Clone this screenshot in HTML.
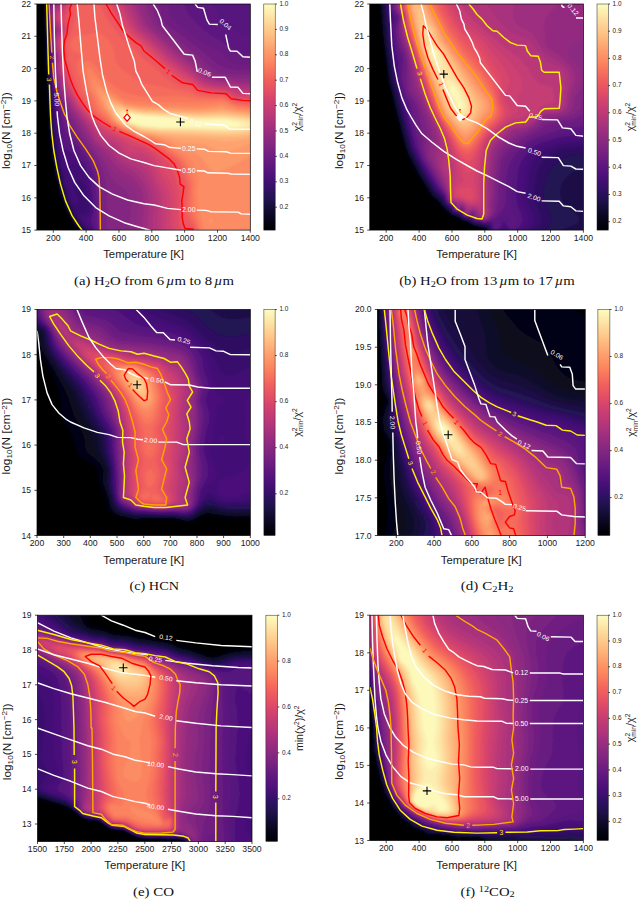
<!DOCTYPE html>
<html lang="en"><head><meta charset="utf-8"><title>Chi-square maps</title>
<style>
html,body{margin:0;padding:0;background:#fff}
svg{display:block}
text{font-family:'Liberation Sans',sans-serif}
.ct{fill:none;stroke-width:1.45;stroke-linejoin:round;stroke-linecap:butt}
.fr{stroke:#000;stroke-width:0.7;fill:none}
.cb{fill:url(#mg);stroke:#222;stroke-width:0.5}
.tk{stroke:#000;stroke-width:0.7;fill:none}
.cap{font-family:'Liberation Serif',serif;font-size:12.6px;fill:#111}
.cap .sb{font-size:8.8px}
.cap .it{font-style:italic}
</style></head>
<body>
<svg width="638" height="899" viewBox="0 0 638 899">
<defs>
<linearGradient id="mg" x1="0" y1="0" x2="0" y2="1"><stop offset="0" stop-color="#fcfdbf"/><stop offset="0.0417" stop-color="#fdebac"/><stop offset="0.0833" stop-color="#fed799"/><stop offset="0.125" stop-color="#fec488"/><stop offset="0.1667" stop-color="#feb078"/><stop offset="0.2083" stop-color="#fd9b6b"/><stop offset="0.25" stop-color="#fc8961"/><stop offset="0.2917" stop-color="#f8745c"/><stop offset="0.3333" stop-color="#f1605d"/><stop offset="0.375" stop-color="#e75263"/><stop offset="0.4167" stop-color="#d8456c"/><stop offset="0.4583" stop-color="#c73d73"/><stop offset="0.5" stop-color="#b73779"/><stop offset="0.5417" stop-color="#a5317e"/><stop offset="0.5833" stop-color="#932b80"/><stop offset="0.625" stop-color="#832681"/><stop offset="0.6667" stop-color="#721f81"/><stop offset="0.7083" stop-color="#601880"/><stop offset="0.75" stop-color="#51127c"/><stop offset="0.7917" stop-color="#3f0f72"/><stop offset="0.8333" stop-color="#2c115f"/><stop offset="0.875" stop-color="#1d1147"/><stop offset="0.9167" stop-color="#100b2d"/><stop offset="0.9583" stop-color="#050416"/><stop offset="1" stop-color="#000004"/></linearGradient>
<filter id="bl" x="-5%" y="-5%" width="110%" height="110%"><feGaussianBlur stdDeviation="1.1"/></filter>
</defs>
<rect width="638" height="899" fill="#fff"/>
<!-- panel a -->
<g>
<clipPath id="cla"><rect x="36.9" y="4" width="213.4" height="226.1"/></clipPath>
<g clip-path="url(#cla)"><g filter="url(#bl)">
<rect x="32.4" y="-0.5" width="222.4" height="235.1" fill="#010106"/>
<path fill="#030312" d="M39.9-0.5l216 0 0 235.5-174.3 0-2.7-4.6-6-4.7-1.5-2.2-2.4-6.5-4.6-6-2-9-4.4-9-0.7-7.5-3.9-10.5-0.1-7.5-2.5-9-0.2-7.5-1.8-7.5 0.3-7.5-1.3-7.5 0-15-0.8-7.5 0-6-0.9-10.5 0.1-9-0.8-9-1.7-63-0.8-4.7zM32.4 97.6l1.5 2.3 0.4 1.6 0.6 10.5-0.6 36-0.4 3.5-1.5 4.8zM32.4 165.7l1 6.3-0.6 9 0.5 9-0.9 5.8z"/>
<path fill="#08071e" d="M42.1-0.5l213.8 0 0 235.5-173.3 0-2.5-4.5-7.2-7.3-3-6.5-4.7-7.2-1.8-7.5-4-9-1.4-9-3.2-9-0.5-7.5-2.1-7.5-0.7-9-1.6-7.5 0.1-7.5-1.1-6-0.3-16.5-2.4-43.5-1.6-60-0.7-6z"/>
<path fill="#0e0b2b" d="M43.4-0.5l212.5 0 0 235.5-172.3 0-2.5-4.5-6.9-7.5-8.2-15-2.1-7.1-3.8-9.4-1.2-7.5-2.9-9-1-9-1.9-7.5-2.1-15 0-6-1.3-9-0.3-15-2.5-43.5-1.8-60-0.5-6z"/>
<path fill="#150e38" d="M44.4-0.5l211.5 0 0 235.5-171.2 0-2.7-4.5-7.5-9-7.3-13.5-5.9-16.5-4.1-16.5-1.3-9-1.8-7.5-2.1-15-0.2-6-1.2-9-3-57-1.9-61.5z"/>
<path fill="#1d1147" d="M45.1-0.5l210.8 0 0 235.5-170 0-1.7-3-7.5-9-2.3-3.6-7.5-15.2-4.8-14.2-4.1-16.5-2.8-15-2.3-15-0.2-6-1.3-9-3.2-57-2.3-66z"/>
<path fill="#241253" d="M45.8-0.5l210.1 0 0 235.5-168.5 0-1.9-3-7.5-9-3.6-5.5-7.5-16-5.3-17.5-5.3-25.5-4-30-3.5-57z"/>
<path fill="#2d1161" d="M46.4-0.5l209.5 0 0 235.5-166.9 0-1.7-3-6.9-7.5-6-9-6.7-15-5.3-17.6-6.4-31.9-2.6-21-4-57z"/>
<path fill="#38106c" d="M47-0.5l208.9 0 0 235.5-165.2 0-1.3-3-7.5-7.6-6-9.1-3.4-8.8-3.4-6-2.2-9-3-7.8-1.1-7.2-2.8-10.5-3-16.5-2.5-19.5-0.4-9-4-46.5zM83.7 208l1.2 1.6 0-2z"/>
<path fill="#420f75" d="M47.6-0.5l208.3 0 0 235.5-163.5 0-1-3-1.8-3-4.7-3.8-2.9-3.7-3.2-7.5 4.6 0.6 3-0.9 1.5-1.4 1-2.8-0.5-4.5-2.8-7.5-0.1-7.5-0.6-3.2-1.5-3.1-3-3.4-1.5-0.5-1.5 1.4-2.6 5.8-0.4 3 0.9 3 2.8 4.5 0.5 1.5-0.4 3-0.8 1.7-1.5 0.8-1.5-0.8-3-3.2-1.1-3-0.9-7.5-3.9-7.5-0.7-7.5-3.1-9-1.4-9-1.8-7.5-2.9-21-0.4-9-4.7-46.5zM75.9 170.5l-0.7 1.5 0.6 1.5 1.6 0.1 0-1.6z"/>
<path fill="#4c117a" d="M48.2-0.5l207.7 0 0 235.5-161.9 0-1.4-4.5-1.5-3-5.4-6-0.2-1.5 0.6-1.5 3.3-3.8 1-2.2 0.8-4.5-3.3-22.4-4.5-14.3-3-5.2-1.5-1.3-3-1.4-3 0.2-4.5 3.1-1.5 0.4-1.5-0.8-1.4-3.3-1.1-6-2.9-10.5-3-18-0.6-10.5-1.5-9-3.8-36-0.4-15-0.8-7.5-1.5-33z"/>
<path fill="#54137d" d="M48.8-0.5l207.1 0 0 235.5-160.4 0-1.6-6-3.3-7.5 0.1-3 2.2-7.5 0.2-4.5-2.5-21-3.3-13.5-2.7-6-4.2-5.3-9.3-8.2-5.7-3.2-1.5-1.6-1.5-3.1-3-12.5-1.5-14.1-1.7-9-4.6-36-0.6-9 0.3-6-0.9-7.5-1.6-34.5z"/>
<path fill="#5d177f" d="M49.5-0.5l161.5 0 4.4 10.3 4.3 7.7 3.6 4.5 5.3 4.5 9.6 6 5.7 2.5 3 0.5 3-0.3 6-2.5 0 202.3-158.7 0-3.5-13.5 0-3 1.2-7.5 0-6-2.2-22.5-2.8-12-1.9-4.5-2.7-4.5-9.3-12-3.1-3-5-3-2.5-2.4-2.3-5.1-2-7.5-1.1-9-2.6-12-5.2-34.5-0.7-9 0.4-6-1-7.5-2-45.2z"/>
<path fill="#671b80" d="M50.1-0.5l133 0 2.3 8.6 3.6 6.4 8 9 11.9 10.5 17 9.9 13.5 9.6 3 1 4.5 0.4 9-1.9 0 182-156.9 0-1.6-6-1-7.5 0.4-18-1.7-22.5-1.8-9-3.7-9-6.2-9.5-6-7.9-8.5-8.1-2.9-4.5-2.1-5.9-8.1-34.6-2.6-15-1.1-12 0.4-7.5-1.1-7.5-1.9-37.5 0-9z"/>
<path fill="#701f81" d="M51-0.5l117.5 0 1.2 12 1.6 4.5 2.1 3 27.6 22.5 7.1 4.5 13.3 6.3 7.5 7.4 4.5 2.9 4.6 1.4 5.9 0.6 4.5-0.4 7.5-1.7 0 172.5-154.8 0-1.8-7.5-0.8-37.5-1-12-1.7-7.5-2.3-6-3.3-6-8.3-12.2-10.2-13.3-3.3-5.4-6-15.8-6-20.9-3-16.9-0.7-10 0.5-6-1.7-12-0.1-13.5-1.5-21 0.1-7.5z"/>
<path fill="#792282" d="M51.9-0.5l107.4 0 1.6 15 1.6 4.5 3 4.5 3.4 3 12 8.3 38.9 30.7 3.1 1.8 3.7 1.2 11.3 1.6 9 0.3 9-1.7 0 166.3-151.5 0-2.4-6-0.5-40.5-0.7-10.5-2.3-9-4-9-15.3-22.5-8.4-13.5-6.9-14.3-4.5-12.3-2.7-9.4-2.9-16.5-0.5-7.5 0.6-6-1.5-7.5-0.5-6 0-12-1.2-12-0.4-10.5 0.3-6z"/>
<path fill="#832681" d="M53.1-0.5l98.9 0 1.1 9 1.7 7.5 2.8 6 3.3 4.5 35 27.2 16.4 14.8 5.1 3 5.5 1.6 22.5 1.6 10.5-1.3 0 161.6-141.3 0-6.9-4.5-0.9-1.5-0.5-3 0.5-10.5-0.2-25.5-1.5-10.5-2.9-10.5-4.1-9-12.7-18-18.1-30-6.4-14.3-3-8.9-2.9-12.8-1.1-12 0.8-6-2-10.5-0.4-9 0.4-6-1.8-15 0.2-12z"/>
<path fill="#8b2981" d="M55-0.5l91.1 0 1.5 9 2.1 7.5 2.9 6 4.5 6 4.3 4 33 25.8 15 13.7 6 3.2 6 1.6 24 1.8 10.5-1 0 157.9-126.7 0-0.1-10.5 2-18-0.7-6-2-5.5-4.5-5.9-9-6-3-3.5-9.8-19.6-13.9-18-7-12-12.4-19.5-6.4-12.7-2.8-6.8-3.5-13.5-1.2-7.4-0.3-6.1 1.1-6-2.5-10.5-0.3-9 0.6-7.5-1.6-7.9-0.5-5.6 0.4-12z"/>
<path fill="#942c80" d="M57.6-0.5l83.5 0 1.5 7.5 2.8 9 2.8 6 3.3 4.5 6.9 6.8 19.5 16.1 15.2 11.6 12.9 12 5.5 3 8.4 2.6 10.5 0.6 15 1.8 10.5-0.8 0 154.8-119.6 0 0.1-9 2.1-15 0.3-6-0.8-7.5-2.1-6.4-3-4.7-3.7-3.9-11.3-7.5-3.5-3-2.5-3-7.4-12-12.4-13.5-9-15-13-19.5-9.3-18-4.1-15-1.1-6-0.2-6 1.1-7.5-2.1-6-0.9-7.5 0.2-6 1.1-6-2.1-7.5-0.9-7.5 0.1-6 1.1-4.5 3.4-3.5z"/>
<path fill="#9e2f7f" d="M59.7-0.5l77 0 1.8 7.5 3.4 9.7 2.5 5.3 3.2 4.5 6.1 6 20.7 18 17 12.7 12.1 11.3 5.9 3.2 9.7 2.8 9.8 0.6 15 2.3 12-0.5 0 152.1-113.7 0 0-7.5 2-16.5 0.2-7.5-1.1-9-2.9-7.5-4.1-6-4.5-4.5-10.9-6.6-4.5-3.5-9.4-12.4-10.1-8.6-3-3.2-9-15-12.9-18.2-8.1-14.2-2.3-5.3-5.2-19.5-0.2-6 1.3-7.5-2.6-6.8-0.7-8.2 0.3-4.5 2.2-6-0.2-1.5-3.1-5.8-1-7.7 0.2-4.5 0.8-3.9 1.5-1.8 3.2-1.8 0.9-1.5z"/>
<path fill="#a8327d" d="M61.4-0.5l71.3 0 1.5 6 4.7 12 2.9 6 3.1 4.2 17.6 15.3 10.9 10.3 16.5 12 12 10.9 6 3.1 9.8 2.7 11.2 1 13.5 2.6 13.5-0.3 0 149.7-108.3 0-0.2-7.5 1.7-18-0.1-9-1.6-9-4-8.8-3.1-4.7-4.4-4.9-4.5-3.2-10.5-5.7-4.4-4.2-7-9-9.6-6.5-4.5-4-8.1-13.5-14.4-19.5-8-13.5-2-4.5-2.2-9-3.2-9-0.5-6 1.4-9-2.4-6-1.1-6 0.2-6 3.4-7.5-0.1-1.5-4.1-6-1.2-7.5 0.6-6 1.2-2 4.5-2.8 1.5-2.7z"/>
<path fill="#b2357b" d="M63-0.5l66.1 0 1.6 6 5.1 12 3.1 6.4 3 4.3 18 15.5 12 11.6 18 12.9 12 10.5 3.7 1.8 6.8 2 16.5 2.2 10.5 2.6 7.5 0.6 9-0.3 0 147.4-103.3 0-0.3-9 1.2-19.5-0.5-9-2.3-9-5.8-11.6-3-4.3-3.6-3.6-15.9-8.6-3-2.8-7.9-9.6-10.1-5.6-4.5-3.6-7.2-11.8-15.3-19.8-8-13.2-2.1-4.5-2.2-9-2.7-6-1.2-4.5-0.3-4.5 1.4-9-2.9-7.4-0.7-4.6 0.4-6 3.2-6 0.6-3-0.5-1.5-4.5-5.6-1-6.4 1-5.7 6-4.7 1.4-3.1z"/>
<path fill="#ba3878" d="M64.4-0.5l61.3 0 2.3 7.5 8.7 18 3.2 4.5 16 13.5 14.5 14.1 19.5 13.8 10.5 8.9 4.2 2.2 4.9 1.5 7.4 1.4 10.5 1.1 12 3.5 6 0.5 10.5-0.3 0 145.3-98.4 0-0.6-10.5 0.8-21-0.7-7.5-3.4-10.5-7.2-14.2-3-4.1-3.1-2.7-2.9-1.5-9-3.2-4.5-2.7-3-3.1-4.5-6-3.2-3-11.8-5.7-3-2.3-7.5-11.5-6.7-7.5-8.3-11-10.3-17.5-2.3-9-4.1-10.5-0.3-4.5 1.2-9-2.8-7.5-0.8-4.5 0.7-6 3.4-6 0.5-3-1.2-3-3.9-4.5-1-3-0.3-3 1.2-4.5 5-4 1.5-2z"/>
<path fill="#c43c75" d="M65.8-0.5l56.5 0 2.6 7.5 5.8 12 4.2 7.5 3.5 4.5 14.4 12 16.1 15.5 22.5 16 9 7.3 7.5 2.9 7.5 1.5 12 1.3 12 4 16.5 0.3 0 143.2-93.6 0-0.9-10.5 0.6-21-0.7-7.5-2.9-9-10.5-21.9-3-3.5-3-2.1-3-1.1-7.5-1.5-4.5-1.9-2.8-2.5-4.4-6-3.3-3.4-4.5-2.7-9-3.6-3-2.1-6.7-9.2-8.3-8.9-7.5-9.8-10.3-17.3-3-10.5-3.7-9-0.5-4.5 1.1-9-0.7-3-2.4-5.9-0.5-3.1 0.5-4.7 3.9-7.3 0.5-3-0.9-3-4.7-6-0.8-4.5 0.8-3 6.3-6 1.5-3z"/>
<path fill="#cd4071" d="M67.2-0.5l51.7 0 2.9 7.5 6 12 4.3 7.5 3.8 4.9 12.2 10.1 20.8 19.6 12.1 8.9 11.9 7.8 6 4.9 4.5 2.4 6 1.6 18 2.3 10.5 4.3 18 0.5 0 141.2-88.8 0-1.4-10.5 0.7-21-1-9-1.9-6-6.6-13.1-4.1-10.9-1.9-3.4-4.5-4.8-4.5-2.6-3-0.7-7.5-0.2-3-1.3-6.3-8-3.7-3-5.4-3-8.6-3.5-3-1.9-18-19.5-6.1-8.1-8.9-15.2-3-10.3-4.1-10.5-0.3-3 0.7-10.5-2.7-7.5-0.5-3 0.6-4.5 3.8-7.5 0.3-4.5-1.2-3-3.5-4.5-1-3 0.4-3 4.5-4.6 2-2.9z"/>
<path fill="#d6456c" d="M68.8-0.5l46.5 0 3.2 7.5 10.8 19.5 3.4 4.5 4.6 4.5 9.1 7.2 19.5 18.5 15 11.5 12 7 7.5 5.8 3 1.3 9 2 13.5 1.2 3 1.1 6 3.4 3 0.8 18 0.5 0 139.2-83.9 0-1.9-10.5 0.8-21-0.7-9-3.3-9-6.8-12-3.1-10.5-1.6-3-4.5-5.2-6-4.5-5.2-2.3-8.3-2-9.8-7-17.2-8.4-3-2.1-12-11.1-4.5-5-7-9.4-8-13.7-7.2-20.8-0.5-4.5 0.4-9-2.9-10.5 0.8-4.5 3-6 1.1-4.5-1.1-4.5-3.5-6-0.2-3 5.4-7.5z"/>
<path fill="#df4a68" d="M70.6-0.5l40.8 0 8.6 16.5 6.3 10.5 4.6 6 5 4.6 7.7 5.9 20.8 19.7 15 12 4.5 2.8 9 4.2 6 5 3 1.4 10.5 2.2 13.5 1.1 3 1.4 4.5 3.1 3 1.1 19.5 0.8 0 137.2-78.5 0-2.1-6-0.7-4.5 0.7-18-0.4-13.5-5.4-13.5-5.2-7.5-2.2-9-1.6-3-5.6-6-8-6-15.5-6.9-24-11.7-6-3.8-9.2-7.6-5.8-5.9-6.8-9.1-8.2-14-7.5-21.7-0.5-4.8 0.2-7.5-2.6-10.5 0.4-3 3.4-7.5 1.1-4.5-0.7-4.5-2.4-6 0.1-3 3.4-6z"/>
<path fill="#e75263" d="M73-0.5l34.1 0 7.2 13.5 9.6 15 3.4 4.5 7.1 6.5 7.3 5.5 6.2 6.9 24 21.2 10.5 7.3 9 3 6.1 5.1 4.4 2 10.5 1.9 12 0.6 3 1.1 6 4.2 3 0.9 19.5 1 0 135.3-69.3 0-5.1-4.5-1.9-4.5-0.6-7.5 0.7-28.5-2.8-6-1.7-7.5-1.6-4.5-4.9-9-9.4-9-10.4-7.5-28-12.5-15-7.6-13.1-9.9-6.4-6.7-9-13.1-6-12-6-18.2-0.8-5.5 0-7.5-1.9-7.5 0.4-4.5 3.1-7.5 1.2-4.5-1.4-9 0.1-3 3.7-12z"/>
<path fill="#ec5860" d="M77.2-0.5l24.5 0 9 15 13.4 19.5 8.8 7.7 6 4.4 6 7.3 16.4 13.6 9.1 8.7 9 6.4 3 1.3 8 1.6 7 5.6 3 1.1 12 1.9 12 0.5 3 1.3 4.5 3.3 4.5 1.7 19.5 1.3 0 133.3-62.6 0-0.2-4.5-0.5-1.5-1.2-1.5-5.2-3-2.3-4.5-0.9-6-0.4-12 1.5-12-0.1-3-2.8-6-3.3-11.1-3.9-6.9-4.7-4.5-7.9-6-11.2-7.5-29.3-12.6-13.3-6.9-13.7-10.1-6.1-6.4-9.9-15-5-11-6.5-20.5-0.2-9-1.7-7.5 0.5-4.5 4.4-12-0.1-7.5 1.8-7.5 0.3-6.7 1.5-3.5z"/>
<path fill="#f2625d" d="M77.4 6.3l7.5-4.3 4.5-1.6 3 0.2 4.5 2.3 3.7 4.1 5.7 10.5 4.9 7.5 9.7 12.8 13.5 11.9 6 6.9 15.6 11.9 8.6 9 10.3 6.7 6 2.5 9 1.6 5.8 4.2 3.2 1.2 12 1.5 12 0.3 3 0.9 6 3.9 4.5 1.7 19.5 1.6 0 131.4-60 0-0.5-4.5-1-3.3-5.6-7.2-2.3-6-0.9-12 1.3-12-0.2-4.5-5.9-16.5-2.2-4.5-2.2-2.9-3.3-3.1-10.1-7.5-9.1-6-6.3-3-8.7-2.8-9.4-4.7-8.6-3.5-10.7-5.5-14.1-10.5-5.7-6-11.2-18-6.3-16.9-4.5-14.1 0-6.5-1.5-7.1 0.2-3.4 6-15 2.6-10.5 0.2-9z"/>
<path fill="#f66c5c" d="M74.4 36.8l3-1.3 7.5-0.4 10.5-2.1 4.5 0.4 3 1.5 4.5 3.8 4.3 5.8 1.7 4.5 1.7 10.5 3.1 6 5.7 5.4 13.2 9.6 3.3 1.5 36 8.3 10.5 1.6 10.5 4.1 12 1.2 13.5 0.1 3 0.9 6 3.7 4.5 1.6 19.5 2 0 129.5-57.8 0-2.2-9.1-5-8.9-1.6-4.5-0.9-9 0.9-15-0.3-4.5-5.3-15-2.8-5.8-2.6-3.2-3.6-3-17.8-12.3-7.5-3.6-10.5-3.1-27-12.9-14.5-11.6-2.9-3-2.8-4.5-2.3-6.1-6-8.9-0.9-3-1.4-9-3.2-6-1.5-6 0.3-3 4.1-7.5 0.2-1.5-2.1-1.8-5.7-2.7-1.8-2.6-0.6-3.4 0.6-3 1.5-3.1z"/>
<path fill="#f9785d" d="M84.9 62.1l3-1.2 3 0.8 3 2.7 12 14.6 9 8 9 5 9 3 15 2.2 25.5-0.9 10.5 0.5 15 2.5 22.5-0.1 4.5 1 6 3.3 4.5 1.7 19.5 2.1 0 127.7-55.6 0-2.9-10.6-4.6-10.4-1.1-4.5-0.5-7.5 0.3-16.5-0.5-4.5-5.6-15-2.5-4.5-4.6-4.5-13.9-10-6-3.5-7.5-3.4-12-3.2-7.3-3.9-9.2-3.6-9-4.7-14.2-12.7-3.2-4.5-3.2-9-6-10.5-1.9-9-2.7-7.5 0.5-6z"/>
<path fill="#fb835f" d="M87.9 68.5l1.5-0.1 3 2.1 7.9 10 11.6 11.3 10.5 6.4 7.5 2.8 21 1.6 28.5-0.3 16.5 0.7 25.5-1.6 4.5 0.9 6 3 4.5 1.5 19.5 2.2 0 126-52.7 0-2.7-6-1.6-7.6-4.1-11.9-0.9-16.5 0.3-9-0.3-4.5-7.3-18-4.2-4.6-19.9-13.4-10.4-4.5-13.2-3.1-7.5-4-9-3.5-10-5.9-12.2-13.5-4.8-11-5.4-10-3.6-16.5 0.1-1.5z"/>
<path fill="#fc8c63" d="M92.4 78.7l1.5 0.2 16.5 14.8 10.5 6.6 7.5 3 13.5 1.6 54 1.6 25.5-2.6 4.5 0.8 10.5 3.7 19.5 2.2 0 120.1-6-1.5-4.5-0.1-9 2.2-7.3 3.7-20.4 0-3.8-3.9-2-3.6-1.3-9-3.1-12-1.4-15 1.2-10.5-0.4-4.5-1.5-4.5-5.6-12-4.5-4.5-11.2-6-6.2-4.7-4.5-2.6-12-4.6-12-2.2-9-4.5-9-3.4-8.2-5-11-13.5-2.6-4.5-8.3-18-0.6-4.5z"/>
<path fill="#fd9869" d="M97.6 88l0.8-0.3 3 1.5 7.5 5.8 10.6 6.5 7.4 3.2 15 2 55.5 2.3 24-2.6 4.5 0.7 10.5 2.9 19.5 2.1 0 40.7-4.5 2.1-13.5 8.5-7.5 3.8-12 4.2-3 0.5-3-0.6-3-3-8.8-11.3-3.9-3-17.3-6-9.8-6-3.7-1.7-13.5-4.1-12-1.9-8.8-4.3-8.3-3-7.3-4.5-3-3-9.4-13.5-5.8-13.5-0.8-3zM210.9 217.1l1.5 1.5 0.4 2.9-0.4 1.5-1.5 0.8-1.1-0.8-0.5-1.5 0.1-2.1z"/>
<path fill="#fea36f" d="M102.4 95.5l0.5-0.7 1.5 0.2 14.8 8 7.3 3 13.9 2 57 2.8 24-2.1 15 2.7 19.5 2.1 0 27.8-21 8.4-6 1.5-4.5 0.3-6-1.1-10.5-4.7-4.5-1.5-6-0.8-15-0.3-15-4.8-15-3.4-12-1.7-9-4.2-7.5-2.5-8.2-5.5-10.1-15-3.1-7.5z"/>
<path fill="#feae77" d="M106.3 100l1.1-0.7 3 0.6 7.5 3.9 7.5 2.9 15 2.5 57 3 25.5-1.5 13.5 2 19.5 2.1 0 22.4-19.5 3.6-10.5 0.6-22.5-2.6-24-0.9-37.5-5.4-18-6.8-7.5-5.5-8.9-14.2-1.5-4.5z"/>
<path fill="#feb97f" d="M109.4 104.5l0.5-1.5 2-0.2 13.5 5 16.5 2.6 57 3 24-1.1 33 3.7 0 18.7-16.5 2.4-15 0.5-22.6-1.6-25.4-0.8-15-1.2-19.5-2.6-18-6.6-6-4.6-3.7-5.2-3.9-7.5z"/>
<path fill="#fec488" d="M112.9 107.5l0.5-1.1 1.5-0.3 10.5 2.5 16.5 2.8 57 3.1 24-0.9 33 3.7 0 15.5-18 2.3-13.5 0.4-61.5-2.8-19.5-2.1-4.5-1.1-15-5.6-6.8-5.9-3-6z"/>
<path fill="#fecd90" d="M115.5 110.5l0.9-1.9 3-0.3 22.5 4 57 3.3 24-0.7 33 3.7 0 12.5-16.5 2.1-15 0.6-63-2.4-18-1.8-4.5-1-15-5.6-5.6-5-2.2-4.5z"/>
<path fill="#fed89a" d="M117.4 112l0.6-1.5 2.9-0.6 21 3.3 57 3.5 24-0.6 22.5 2.4 10.5 1.6 0 9.2-16.5 2.3-15 0.7-27-1.2-36-0.8-16.5-1.5-6-1.2-13.5-4.5-6-5.4-1.5-2.7z"/>
<path fill="#fde3a5" d="M119.2 113.5l0.7-1.5 1-0.4 4.5-0.1 15 2.5 55.5 3.6 24-0.4 7.5 0.4 16.5 2.1 12 2.5 0 4.8-15 2.9-15 1-28.5-1.1-37.5-0.6-12-1.1-9-1.4-13.5-4.5-5.4-5.7z"/>
<path fill="#fceeb0" d="M121 115l1.4-1.9 4.5-0.5 13.5 2.3 57 3.9 27-0.1 17.5 2.3 5.6 1.5 2.3 1.5-0.5 1.5-3.3 1.5-7.2 1.5-9.9 0.9-10.5 0.1-21-1-37.5-0.4-19.5-2.1-13.5-4.1-3.2-2.4z"/>
<path fill="#fcf9bb" d="M123.5 115l1.9-1.1 4.5-0.1 10.5 2.2 58.5 4.3 25.5-0.2 13.7 2.4 3.1 1.5-0.8 1.5-4 1.2-12 1.3-25.5-1-39.5 0-17.5-1.9-14.7-4.1-3.2-3-0.6-1.5z"/>
</g>
<path d="M46.7 4 47.4 29.2 48.1 54.3 48.7 74.4M49.4 84.5 50.1 104.6 50.6 117 51.8 133.8 53.8 150.5 56.8 167.3 60.5 184.1 65.5 200.9 72.2 215.9 78.9 226 83.1 231.5" stroke="#fff200" class="ct"/>
<path d="M49.1 4 50.4 29.2 51.8 52.6M52.4 62.7 53.8 77.8 56.8 91.2 60.5 102.9 64.7 114.7 66.3 117 69.7 125.4 77.2 137.1 85.6 148.9 93.2 160.6 97.4 170.7 99 177.4 99.9 192.5 100.4 231.5" stroke="#ffa500" class="ct"/>
<path d="M53.8 4 54.4 37.5 55.4 71.1 56.3 87.9M57.1 111.3 57.5 117 59.6 133.8 63 150.5 68 167.3 74.7 182.4 84 195.8 95.7 207.6 109.1 215.9 124.2 222.7 137.6 226.8 144 228.5 152 231" stroke="#ffffff" class="ct"/>
<path d="M61 4 61.7 29.2 62.5 54.3 63.8 79.5 65.5 101.3 67 117 69.7 133.8 73.9 150.5 80.6 165.6 89 177.4 99 186.6 112.5 194.1 127.6 200 144 203.8 154.1 205 167.5 208.4 180.9 209.6M196.8 210.1 206 210.4 211.1 211.8 237.9 212.1 241.3 213.9 251 214.3" stroke="#ffffff" class="ct"/>
<path d="M71.4 4 69.7 9 70.5 14.1 68 24.1 66.9 34.2 64.7 40.1 63.8 47.6 64.7 59.3 68 71.1 70.5 79.5 73.1 86.2 77.2 94.6 82.3 102.9 87.3 109.7 94 116.3 102.4 122 110.8 127.1M119.2 131.3 130.9 136.3 144 142.3 149 144.7 155.7 148.9 162.4 153.9 169.2 158.9 174.2 164 177.5 170.7 179.6 177.4 180.1 184.1 183.9 186.6 182.9 194.1 181.7 200.9 182.2 207.6 182.2 217.6 183.4 224.3 185.1 228.5 193.5 229.3" stroke="#ff0000" class="ct"/>
<path d="M77.2 4 78.9 20.8 80.9 45.9 83.1 71.1 86.5 91.2 90.7 111.3 92.3 117 95.7 125.4 100.7 135.4 109.1 145.5 119.2 153.1 130.9 158.9 144 162.5 154.1 165.6 165.8 167.6 181.2 170.3M196.8 170.7 204.4 171 207.7 172.8 227.9 173.2 231.2 174 251 174.4" stroke="#ffffff" class="ct"/>
<path d="M94 4 94.9 17.4 97.4 37.5 99.9 57.7 102.4 74.4 106.6 91.2 110.8 102.9 115.8 113 119.2 117 125.9 125.4 134.3 131.3 144 136.5 150.7 140.5 155.7 143.8 164.1 144.7 169.2 147.2 180.9 148.4M196.8 148.9 204.4 149.2 208.6 151.4 226.2 151.7 230.4 153.1 251 153.4" stroke="#ffffff" class="ct"/>
<path d="M106.1 4 110.8 12.4 117.5 22.4 124.2 32.5 130.9 38.4 135.9 42.6 141 45.9 144 51 154.1 59.3 165 68.6M171.7 75.3 182.6 82.8 192.6 84.5 197.7 90.4 211.1 92.9 226.2 93.7 231.2 98.8 242.9 100.4 251 100.8" stroke="#ff0000" class="ct"/>
<path d="M116.7 4 120 14.1 122.5 25.8 125.9 35.9 128.4 44.2 131.8 54.3 134.3 61 135.9 71.1 139.3 77.8 141.8 84.5 144 87.9 152.4 101.3 158.3 104.6 164.1 109.7 170.8 113.8 177.5 115.5 188 118.5M204.4 124 224.5 125 229.5 129.1 251 129.2" stroke="#ffffff" class="ct"/>
<path d="M153.2 4 157.4 10.7 160.8 19.1 162.4 25.8 184.2 54.3 192.6 55.1 195.1 61 197.3 71.9M211.9 77.3 225.3 77.3 230.4 87 237.9 87.3 242.9 93.4 251 93.7" stroke="#ffffff" class="ct"/>
<path d="M195.1 4 197.7 7.4 203.5 8.2 206.9 19.9 209.4 24.1 217.8 24.5M225.7 34.5 228.7 48.4 230.4 51 237.1 51.3 242.9 56.8 251 57.2" stroke="#ffffff" class="ct"/>
<text x="49" y="81.7" font-size="6.36" text-anchor="middle" fill="#fff200" textLength="3.8" lengthAdjust="spacingAndGlyphs" transform="rotate(88 49 79.5)">3</text>
<text x="52.1" y="59.7" font-size="6.36" text-anchor="middle" fill="#ffa500" textLength="3.8" lengthAdjust="spacingAndGlyphs" transform="rotate(84 52.1 57.5)">2</text>
<text x="56.8" y="101.7" font-size="6.36" text-anchor="middle" fill="#ffffff" textLength="13.4" lengthAdjust="spacingAndGlyphs" transform="rotate(87 56.8 99.5)">5.00</text>
<text x="114.8" y="131.5" font-size="6.36" text-anchor="middle" fill="#ff0000" textLength="3.8" lengthAdjust="spacingAndGlyphs" transform="rotate(28 114.8 129.3)">1</text>
<text x="168.3" y="73.8" font-size="6.36" text-anchor="middle" fill="#ff0000" textLength="3.8" lengthAdjust="spacingAndGlyphs" transform="rotate(38 168.3 71.6)">1</text>
<text x="225.5" y="26.7" font-size="6.36" text-anchor="middle" fill="#ffffff" textLength="13.4" lengthAdjust="spacingAndGlyphs" transform="rotate(40 225.5 24.5)">0.04</text>
<text x="204.6" y="74.5" font-size="6.36" text-anchor="middle" fill="#ffffff" textLength="13.4" lengthAdjust="spacingAndGlyphs" transform="rotate(22 204.6 72.3)">0.06</text>
<text x="196" y="125.2" font-size="6.36" text-anchor="middle" fill="#ffffff" textLength="13.4" lengthAdjust="spacingAndGlyphs" transform="rotate(22 196 123)">0.12</text>
<text x="188.8" y="151.2" font-size="6.36" text-anchor="middle" fill="#ffffff" textLength="13.4" lengthAdjust="spacingAndGlyphs">0.25</text>
<text x="188.8" y="173" font-size="6.36" text-anchor="middle" fill="#ffffff" textLength="13.4" lengthAdjust="spacingAndGlyphs">0.50</text>
<text x="188.8" y="212.2" font-size="6.36" text-anchor="middle" fill="#ffffff" textLength="13.4" lengthAdjust="spacingAndGlyphs">2.00</text>
<path d="M127.1 113.9l3.2 3.7l-3.2 3.7l-3.2-3.7z" fill="#fff" stroke="#ff0000" stroke-width="1.3" stroke-linejoin="round"/>
<circle cx="127.1" cy="110.4" r="0.9" fill="#ff0000"/><path d="M126.5 111.6l1.6 2" stroke="#ffa500" stroke-width="1.1" fill="none"/>
<path d="M176.2 122h8.4M180.4 117.8v8.4" stroke="#000" stroke-width="1.1" fill="none"/>
</g>
<rect x="36.9" y="4" width="213.4" height="226.1" class="fr"/>
<text x="53.3" y="241" font-size="8.46" text-anchor="middle" fill="#1a1a1a" textLength="14.5" lengthAdjust="spacingAndGlyphs">200</text>
<text x="86.1" y="241" font-size="8.46" text-anchor="middle" fill="#1a1a1a" textLength="14.5" lengthAdjust="spacingAndGlyphs">400</text>
<text x="119" y="241" font-size="8.46" text-anchor="middle" fill="#1a1a1a" textLength="14.5" lengthAdjust="spacingAndGlyphs">600</text>
<text x="151.8" y="241" font-size="8.46" text-anchor="middle" fill="#1a1a1a" textLength="14.5" lengthAdjust="spacingAndGlyphs">800</text>
<text x="184.6" y="241" font-size="8.46" text-anchor="middle" fill="#1a1a1a" textLength="19.3" lengthAdjust="spacingAndGlyphs">1000</text>
<text x="217.5" y="241" font-size="8.46" text-anchor="middle" fill="#1a1a1a" textLength="19.3" lengthAdjust="spacingAndGlyphs">1200</text>
<text x="250.3" y="241" font-size="8.46" text-anchor="middle" fill="#1a1a1a" textLength="19.3" lengthAdjust="spacingAndGlyphs">1400</text>
<text x="31" y="233" font-size="8.46" text-anchor="end" fill="#1a1a1a" textLength="9.5" lengthAdjust="spacingAndGlyphs">15</text>
<text x="31" y="200.8" font-size="8.46" text-anchor="end" fill="#1a1a1a" textLength="9.5" lengthAdjust="spacingAndGlyphs">16</text>
<text x="31" y="168.4" font-size="8.46" text-anchor="end" fill="#1a1a1a" textLength="9.5" lengthAdjust="spacingAndGlyphs">17</text>
<text x="31" y="136.1" font-size="8.46" text-anchor="end" fill="#1a1a1a" textLength="9.5" lengthAdjust="spacingAndGlyphs">18</text>
<text x="31" y="103.9" font-size="8.46" text-anchor="end" fill="#1a1a1a" textLength="9.5" lengthAdjust="spacingAndGlyphs">19</text>
<text x="31" y="71.5" font-size="8.46" text-anchor="end" fill="#1a1a1a" textLength="9.5" lengthAdjust="spacingAndGlyphs">20</text>
<text x="31" y="39.3" font-size="8.46" text-anchor="end" fill="#1a1a1a" textLength="9.5" lengthAdjust="spacingAndGlyphs">21</text>
<text x="31" y="7" font-size="8.46" text-anchor="end" fill="#1a1a1a" textLength="9.5" lengthAdjust="spacingAndGlyphs">22</text>
<rect x="263.8" y="4" width="11.4" height="226.1" class="cb"/>
<text x="279.5" y="208.8" font-size="6.47" text-anchor="start" fill="#1a1a1a" textLength="8.9" lengthAdjust="spacingAndGlyphs">0.2</text>
<text x="279.5" y="183.4" font-size="6.47" text-anchor="start" fill="#1a1a1a" textLength="8.9" lengthAdjust="spacingAndGlyphs">0.3</text>
<text x="279.5" y="158" font-size="6.47" text-anchor="start" fill="#1a1a1a" textLength="8.9" lengthAdjust="spacingAndGlyphs">0.4</text>
<text x="279.5" y="132.6" font-size="6.47" text-anchor="start" fill="#1a1a1a" textLength="8.9" lengthAdjust="spacingAndGlyphs">0.5</text>
<text x="279.5" y="107.2" font-size="6.47" text-anchor="start" fill="#1a1a1a" textLength="8.9" lengthAdjust="spacingAndGlyphs">0.6</text>
<text x="279.5" y="81.8" font-size="6.47" text-anchor="start" fill="#1a1a1a" textLength="8.9" lengthAdjust="spacingAndGlyphs">0.7</text>
<text x="279.5" y="56.4" font-size="6.47" text-anchor="start" fill="#1a1a1a" textLength="8.9" lengthAdjust="spacingAndGlyphs">0.8</text>
<text x="279.5" y="31" font-size="6.47" text-anchor="start" fill="#1a1a1a" textLength="8.9" lengthAdjust="spacingAndGlyphs">0.9</text>
<text x="279.5" y="5.6" font-size="6.47" text-anchor="start" fill="#1a1a1a" textLength="8.9" lengthAdjust="spacingAndGlyphs">1.0</text>
<path d="M53.3 230.1v2.6M86.1 230.1v2.6M119 230.1v2.6M151.8 230.1v2.6M184.6 230.1v2.6M217.5 230.1v2.6M250.3 230.1v2.6M36.9 230.1h-2.6M36.9 197.8h-2.6M36.9 165.5h-2.6M36.9 133.2h-2.6M36.9 100.9h-2.6M36.9 68.6h-2.6M36.9 36.3h-2.6M36.9 4h-2.6M275.2 207.2h1.7M275.2 181.8h1.7M275.2 156.4h1.7M275.2 131h1.7M275.2 105.6h1.7M275.2 80.2h1.7M275.2 54.8h1.7M275.2 29.4h1.7M275.2 4h1.7" class="tk"/>
<text x="143.6" y="258.1" font-size="10.60" text-anchor="middle" fill="#1a1a1a" textLength="80.9" lengthAdjust="spacingAndGlyphs">Temperature [K]</text>
<text x="10.3" y="130.7" font-size="10.60" fill="#1a1a1a" text-anchor="middle" textLength="76.7" lengthAdjust="spacingAndGlyphs" transform="rotate(-90 10.3 130.7)">log<tspan font-size="7.4" dy="2">10</tspan><tspan dy="-2">(N [cm</tspan><tspan font-size="7.4" dy="-3.8">−2</tspan><tspan dy="3.8">])</tspan></text>
<text x="300.6" y="117" font-size="10.60" fill="#1a1a1a" text-anchor="middle" textLength="28.5" lengthAdjust="spacingAndGlyphs" transform="rotate(-90 300.6 117)">χ<tspan font-size="6.6" dy="-4">2</tspan><tspan font-size="6.6" dy="6.8" dx="-3.8">min</tspan><tspan dy="-2.8">/χ</tspan><tspan font-size="6.6" dy="-4">2</tspan></text>
<text x="154" y="285.4" class="cap" text-anchor="middle" textLength="160" lengthAdjust="spacingAndGlyphs">(a) H<tspan class="sb" dy="1.6">2</tspan><tspan dy="-1.6">O from 6</tspan><tspan dx="1.6" class="it">µ</tspan>m to 8<tspan dx="1.6" class="it">µ</tspan>m</text>
</g>
<!-- panel b -->
<g>
<clipPath id="clb"><rect x="369.8" y="4" width="213.6" height="226.1"/></clipPath>
<g clip-path="url(#clb)"><g filter="url(#bl)">
<rect x="365.3" y="-0.5" width="222.6" height="235.1" fill="#010106"/>
<path fill="#030312" d="M371.6-0.5l217.2 0 0 235.5-99.3 0-4.2-4.9-3-1.2-9-1.8-6-3.6-6-1.9-4.5-3.4-6-2.2-9-8-10.4-10.5-3.3-4.5-11-18-10.1-19.5-2.4-6-9.5-36-7.9-33-4.8-37.5-3.2-36-1.9-3.8z"/>
<path fill="#08071e" d="M377-0.5l211.8 0 0 235.5-98 0-5.5-6-12-3-6-3.7-6-1.9-4.5-3.3-6-2.2-18-17.8-3.2-4.1-11-18-10.9-21-2.2-6-16.8-66-5.2-40.5-2.9-34.5-0.9-3z"/>
<path fill="#0e0b2b" d="M379.2-0.5l209.6 0 0 235.5-84.8 0-2.2-1.4-1.5-0.1-3.8 1.5-4.1 0-2.6-2.3-3-3.8-1.5-0.8-12-3-5.7-3.6-4.8-1.2-4.5-3.4-6-2.1-9-8.3-4.5-5.6-5.5-4.9-13.4-21-10.9-21-2.4-6-9.1-34.5-7.9-33-5.1-40.5-2.7-33z"/>
<path fill="#150e38" d="M380.9-0.5l207.9 0 0 235.5-83.1 0-1.7-1.5-2.2-0.7-3 0.3-4.5 1.4-1.5-0.3-2.8-2.2-2.1-3-1.9-1.5-12.7-3.2-4.5-3-6-1.7-4.5-3.6-6-2-9-8.8-3.3-4.7-5.7-5.1-13.1-20.4-11.7-22.5-2.2-6-8.3-31.5-8.3-34.5-5.2-40.5-2.6-33z"/>
<path fill="#1d1147" d="M382.3-0.5l206.5 0 0 235.5-81.6 0-2.4-2.1-3-0.9-6 1.3-3-0.1-1.9-1.2-4.1-5-13.5-3.4-4.5-3-6-1.7-4.5-3.6-6-2-3.1-3.8-5.1-4.5-3.8-5.9-5.4-4.6-12.5-19.5-11.8-22.5-2.2-6-8.3-31.5-8.7-36-4.8-39-2.7-33z"/>
<path fill="#241253" d="M383.5-0.5l205.3 0 0 172.6-6-1.2-4.5 0-4.5 1.1-3 1.6-3.5 2.9-3.4 4.5-2.3 4.5-1.4 6 0.7 6 2.2 4.5 3.2 3.5 10.3 8.5 2.4 3 0.7 3-1.6 3-5.4 3-20.7 7.5-2.7 1.5-40.5 0-2.5-2.2-3-1.3-3-0.1-4.5 1.3-3-0.2-2.4-2-2.1-3.4-1.5-1-12-2.6-5.9-3.5-6.1-1.7-4.5-3.6-4.5-1.2-1.5-1-3.4-4.5-3.8-3-3.4-6-7.4-7-9.8-15.5-12.7-24-1.9-4.5-8.6-32.4-8.8-36.6-4.9-39-2.7-33z"/>
<path fill="#2d1161" d="M384.8-0.5l204 0 0 156.7-7.5-1.3-4.5 0-6 0.7-4.5 1.3-3.2 1.6-7.3 5-3 2.8-3.2 4.2-2.3 4.5-2 6-1.6 7.5-0.4 6 1.2 7.5 5.9 12 0.8 3 0.2 3-1.6 4.5-4.5 4.5-11.2 6-23.2 0-4.6-3.2-3-1.1-3 0.2-4.5 1.2-3-0.3-1.7-1.3-2.8-4.5-13.5-3.1-4.7-2.9-7.3-2.3-3-2.9-1.5-0.7-3-0.6-2.1-1-3.2-4.5-5.2-4.5-3-5.9-6.6-6.1-11.2-18-12.2-23.4-9-32.8-9.5-39.8-4.6-37.5-2.7-33z"/>
<path fill="#38106c" d="M385.9-0.5l202.9 0 0 148.4-9-0.7-13.5 1.2-6 1.2-6.1 2.9-4.8 3-4.1 3.4-3.5 4.1-2.5 4.5-2.1 6-2.8 16.5-0.2 6 0.9 6 5.3 12 1 4.5-0.2 3-1.1 3-4.2 4.5-7.1 3.3-12 2.6-4.5-0.9-6-3.2-3-0.9-7.5 1.6-3-0.4-1.5-1.4-1.8-3.7-1.2-1-13.5-2.6-4.5-3-6-1.3-4.5-4-6-1.8-1.3-1.3-1.7-3.2-5.3-4.3-2.6-6-5.1-4.5-2.4-3-10.2-16.5-12.5-24-8.6-31.5-9.7-40.5-4.6-37.5-1.8-22.5z"/>
<path fill="#420f75" d="M387-0.5l201.8 0 0 143.2-12 0-13.5 1.2-5.1 1.1-10.9 4.5-5 2.9-3.8 3.1-3.6 4.5-3 6-1.8 6-1.8 12-0.8 10.5 1 9 4.7 10.5 1.2 6-1.4 4.5-4.2 3.9-7.5 3-6 1.4-4.5-0.7-6-3-3 0.1-7.5 1.7-1.5-0.5-1.2-1.4-1.1-3-1.2-1.5-5.5-0.5-4.5-1.5-4.5-0.6-4.5-3.1-6-1.2-4.5-4.2-4.5-0.9-1.5-0.8-3-5-4.5-3.1-3-7-6.7-6.6-9.3-15-7.4-13.5-6.6-13.5-16.9-66-5.5-42-1.5-22.5z"/>
<path fill="#4c117a" d="M388.2-0.5l200.6 0 0 139-18 0.8-9 1.2-6 1.5-10.5 3.6-5.5 2.4-4.4 3-4.2 4.5-3.8 6-2.8 7.5-2.8 22.5 0.6 10.5 1.4 4.5 4 9 0.6 4.5-1.7 4.5-6 4.5-3.9 1.8-4.5 0.4-3-1-4.5-2.6-1.5 0.1-6 2.2-3 0.3-1.8-1.2-1.6-4.5-1.1-1-6 0-4.5-1.6-4.5-0.5-4.5-3.3-6-0.9-4.5-4.4-4.5-0.8-1.5-1-2.2-4.5-4.7-3-3.1-7.5-5.9-6-11.1-17.9-6.6-12.1-6.1-13.5-16.8-66-2.2-21-3.2-21-0.7-12 0.3-7.5-1.8-7.5z"/>
<path fill="#54137d" d="M389.3-0.5l199.5 0 0 135-21 1.5-10.5 2.2-12.7 3.8-6.8 2.5-3.8 2-3.6 3-3.8 4.5-5.7 9-1.7 4.5-1 4.5-1.8 18 0.2 9 1.5 7.5 4.1 9 0.8 4.5-1.8 4.5-2.9 3-2.4 1.5-3.6 0.7-2.4-0.7-3.3-3-1.8-3.4-1.5-0.7-1 1.1-0.4 3-0.9 1.5-3 1.5-3.7 0.4-1.7-1.9-0.3-3-1-1.8-1.5-0.3-6 0.6-4.5-1.7-4.5-0.5-4.5-3.3-4.5-0.2-1.5-0.6-3-3.7-1.5-0.9-3-0.2-2.3-0.9-1.1-1.5-1.1-3.2-4.5-2.6-1.2-1.7-1.8-5.8-6.7-7.7-16-27-6.7-15-7.6-30-2.4-12-3.4-10.5-3.6-15-1.1-19.5-3-13.5-1.6-13.5 0.2-7.5 1.7-6-3.6-7.5z"/>
<path fill="#5d177f" d="M390.4-0.5l198.4 0 0 130.8-21 2.1-13.5 3.3-18 5.6-4.5 2.2-3 2.3-9.8 11.2-3.7 5.8-1.9 4.7-1.1 6-1.1 12-0.2 9 1.2 16.5 0.9 3 3.5 4.5 0.7 3-0.9 3-2.6 2.5-1.5 0.4-2.4-1.4-0.6-1.5-0.3-7.5-1.9-1.5-3.8 0.4-3.6 2.6-1.1 1.5-0.3 1.5 1.5 4.5-0.8 1.5-3.2 1-2-1 0.2-4.5-0.5-1.5-2.2-0.4-7.5 1.4-4.5-1.8-4.5-0.4-3.7-3.3-3.8 0.1-3-0.9-3-4.3-6-0.9-1.3-1.5-0.8-3-0.9-1.1-3-1.3-2.2-2.1-2.3-7.1-6.4-7.9-16-27-5.4-13.5-7-28.5-1.8-12-4.7-12-3.2-13.5-0.9-9 1-12-4.1-12-2.1-15 0.2-6 2.5-7.5-0.3-1.5-4.3-6.4z"/>
<path fill="#671b80" d="M391.4-0.5l197.4 0 0 125.8-7.5 1.5-13.5 1.4-13.5 3.8-20.9 7-4.6 2.6-3 2.4-11.2 11.5-5 7.5-1.8 6-1.1 7.5-0.7 24-0.6 4.5-1.2 3-2.2 3-5.2 6-2.5 1.8-7.5 2.9-3 0.3-4.5-1.9-4.5-0.5-3-3.7-6 0.6-1.7-1-2.8-4.8-4.5 0.3-1.5-0.7-2.4-5.3-3.6-1.4-1.6-1.6-2.4-7.5-5.7-7.5-16.7-28.5-4.6-13.5-6.1-28.5-1.2-10.5-1-3-4.2-7.5-2.9-10.5-1.3-10.5 1.4-15-5.2-13.5-2.1-12 0.1-6 2.1-7.5 0.2-3-4.9-7.5z"/>
<path fill="#701f81" d="M588.8-0.5l0 120-11.8 3-13.7 1.9-7.5 2.2-4.5 1.8-6 3.3-12.3 4.3-8 4.5-14.9 13.5-2.4 3-2.4 4.5-1.6 6-1.5 10.5-0.4 16.5-0.8 7.5-2.3 7.5-3.4 6-6.2 4.5-2.3 1.1-3 0.4-4.5-2.1-3 0.1-1.5-0.6-3-4.4-4.5 1.8-2.5-0.8-1.3-1.5-1.9-4.5-4.8 0.9-1.5-0.8-1.4-4.6-4.6-2-1-1-2.3-7.5-6-9-16.4-28.5-3.2-12-1.4-10.5-3.3-16.5-1.7-12-1.9-4.5-4.8-7.5-1.9-6-1.4-12 1.1-12-0.2-4.5-0.7-3-4.9-12-2.1-10.5 0-6 1.9-10.5-0.5-1.5-4.2-6-1.9-10.5z"/>
<path fill="#792282" d="M588.8-0.5l0 113.3-15 5.9-13.5 2.1-13.5 3.3-7.5 5.9-12.5 6-7 4.5-13.5 11.6-2.6 3.4-1.9 4-1.2 5-1.8 13.5-0.8 19.5-2.5 13.5-2.3 4.5-5.5 4.5-3.9 1-4.5-2.3-3.7-0.2-1.3-1.5-0.9-3-1.6-0.7-3.2 2.2-1.3 0.4-1.8-0.4-1.5-1.5-1.2-4.9-1.5-1.1-3 1.7-1.5 0.1-1.5-1.8-0.6-3-5.8-3-2.6-8.3-21.2-36.7-2.2-10.5-1-19.5-4-18-2-6-6.9-10.5-1.5-4.5-0.8-9 0.3-15-0.5-4.5-1.6-6-4.3-10.5-2-10.5-0.1-6 1.5-9-0.4-1.5-3.2-4.5-1.4-3-1.5-9z"/>
<path fill="#832681" d="M588.8-0.5l0 94.2-3 2.1-3.5 4.2-0.9 7.5-0.8 1.5-5.4 4.5-6.2 3-14.7 3-10.5 1.2-1.5 1-3 4-3 2.8-18 8.7-13.5 11.2-4.4 5.6-2.4 7.5-2.2 18-0.3 15-1.5 9-0.4 7.5-1 3-3.9 4.5-2.3 1.5-2.6 0.5-4.5-2.6-3-0.1-1-0.8-0.7-3-1.3-1.7-1.5-0.1-4.5 3.2-1.5-0.3-1.5-1.8-0.6-3.8-0.9-1.9-1.5-0.6-3 1.6-1.5 0.1-1.5-3.9-1.5-1.3-4.5-1.8-3-9.5-19.4-35.2-1.3-9 1.5-15-0.5-6-7.3-22.5-3-5.9-4.5-6.3-1.5-3.5-2.4-29.3-2.1-7.7-4-10.3-1.9-9-0.3-6 1.1-9-0.9-2.8-2.4-3.2-1.4-3-1.5-9z"/>
<path fill="#8b2981" d="M588.8-0.5l0 80-13.1 17.5-1.1 3-0.4 6-1 3-2.4 3-5.3 3-11.2 2.4-9 0.5-3 1-7.8 8.1-7.2 3.8-10.8 3.7-14.7 12.1-2.5 2.9-1.6 3-2.1 7.5-2.2 19.5-0.1 13.5-1.6 10.5 0.3 7.5-0.8 3-3.6 4.5-2.3 1.3-1.5 0.2-4.5-2.9-3-1-1.3-3.6-1.7-1.2-1.5 0-4.5 3.5-1.5-0.3-1.2-2-0.5-4.5-1.3-1.5-1.5-0.5-3 1.1-1.5-1-0.3-1.1-1.5-1.5-4.2-1.3-1.5-1.4-1.4-6.3-1.6-4-17.1-33.5-0.7-3 0-4.5 2.6-12-0.2-7.5-1.7-6-8.4-21.4-7.6-14.6-4-28.5-1.9-7.1-4-10.9-2.1-9-0.7-6 0.7-10.5-4.3-7.5-1.4-9z"/>
<path fill="#942c80" d="M588.8-0.5l0 37.5-6 3.5-10.5 3.3-3 2.5-1.5 2.8-0.2 2.9 1.3 4.5 1.9 3 5.9 6 2 3 1.3 3 0.7 4.5-1.2 6-7.2 14.3-1.7 9.7-1.2 3-2.8 3-4.8 2.2-7.5 1.4-9 0.5-3 1-7.5 7.3-4.5 3-4.5 2-9 1.9-3 1.3-6 5.7-8.7 6.7-2.3 3-1.5 3-1.9 7.5-2.2 21 0.1 12-1.4 12 0.6 7.5-0.6 3-3.1 4.3-3 1-6-4.1-2.8-4.2-1.7-0.7-1.5 0.1-1.5 0.8-3 3-1.5-0.6-0.8-5.6-1-1.5-2.7-1.4-3-0.1-3-2.1-4.5-1.3-1.1-1.1-1.2-6-6-15-6.4-12-3.7-9-0.8-6 3.3-13.5-0.8-7.5-2.8-8.4-15.6-36.6-5.4-27.2-5.7-17.8-2.3-9-1-7.5 0.5-9-4-7.5-1.3-9z"/>
<path fill="#9e2f7f" d="M397.4-0.5l162.8 0-1.7 3-10.2 12-3 4.3-1.3 4.7 0 4.5 1.3 14.4 1.7 5.1 1.4 1.5 8.9 5.2 4.5 3.7 8.7 9.1 3.5 6 0.7 3-0.2 4.5-4.9 15-1.8 10.5-1.4 3-1.4 1.5-3.2 1.9-4.5 1.2-10.5 0.6-3 0.7-3 1.7-7.5 6.8-4.5 2.8-4.5 1.7-7.5 1-3.5 1.1-2.5 1.7-4.5 4.5-7.5 5.3-3 3-3.2 6.5-1.6 9-1.7 19.5 0 12-1 12 0.7 9-1 3-2.7 2.9-1.5 0.2-1.5-1-3.6-3.6-2-3-1.9-1.4-3-0.2-1.5 0.7-3 3.1-1.1-0.7-0.4-4.5-1.5-2.2-1.5-1-12-3.9-1-1.9-1-6-3.5-10.5-7.3-15-2.3-7.5-0.2-6 2.6-10.5-0.1-4.5-0.8-4.5-2.9-8.9-6.3-13.6-10-25.5-7.7-31.2-6.6-21.3-1.6-9 0.4-9-3.9-7.5z"/>
<path fill="#a8327d" d="M398.3-0.5l117.1 0-2.1 9-0.5 6 0.8 4.5 2.2 4.5 4 3.6 7.5 3.1 4.5 2.9 3.4 3.9 5.4 10.5 3.2 4.2 4.5 3.8 10.5 6.2 4.5 3.4 3.2 3.4 2.5 4.5 1 4.5-0.2 4.5-3.1 13.5-1.1 9-1 3-1.3 1.8-3 1.9-3 0.8-10.5 0.4-3 0.8-3 1.9-6 5.3-7.5 4.6-3 1-9 1.1-3 0.9-3.1 2-4.8 4.5-7.1 4.9-4.5 5.3-2.5 6.3-1 6-1.9 24-0.6 22.5 0.9 9-0.9 3-1.5 1.7-1.5 0.3-0.8-0.5-4.6-6-2.1-1.9-3-0.8-4.5 1.4-1.5-0.4-1.2-2.8-1.8-1.7-3-1.4-9-2.5-1.9-1.9-1.2-7.5-3.1-12-5.2-10.5-1.5-4.5-0.2-6 2-12-1-9-3-9-8.4-18-9-24-9.5-34.4-5.2-16.6-2.3-10.5 0.2-9-3.6-7.5z"/>
<path fill="#b2357b" d="M399.1-0.5l85.6 0 1.3 3 9.4 15 13.7 13.5 6.2 4 9 2.6 4.5 2.3 2.9 3.1 4.3 6 10.8 11.6 3 2.4 10.5 4.8 2.4 2.2 1.8 3 1 6-0.4 7.5-2 18-1.1 3-1.5 1.5-4.7 1.4-10.5 0.4-3 1.4-6 5.5-10.5 5.8-3 0.8-7.5 0.7-4.5 1.4-15 11.4-4.7 5.7-2.5 6-1.2 7.5-1.9 24-0.3 22.5 0.7 9-0.6 2.6-0.6 0.4-1.2 0-4.2-5.8-2.2-1.7-3.8-0.8-4.5 0.4-6-4.6-10.5-2.9-1.1-1.1-3.4-21-0.9-3-3.4-6-0.9-3 0-3 1.7-10.5-0.1-4.5-1.2-7.5-4.2-11.7-9.9-21.3-5.8-15-5.7-18-10.5-36-3.1-12-0.5-4.5 0.3-6-3.5-7.5z"/>
<path fill="#ba3878" d="M400-0.5l68 0 0.7 3 1.6 3.1 6 7.7 13.5 14.7 3 2 6 2.7 7.5 6.8 4.5 3.1 4.5 1.9 9 1.6 1.5 1.4 3 5.7 1.5 1.4 6 1.9 1.8 1.5 1.6 3 1.8 7.5 2.3 3 3 0.9 9-0.3 2.2 0.9 1.1 1.5 1.5 13.5-0.6 16.5-1.2 2.4-3 1.2-10.5 0.2-3 1.5-4.9 5.2-2.6 1.8-6 1.5-4.5 3.1-10.5 1.6-4.5 1.7-13.5 10.4-3.9 3.9-2.1 3-2.7 6-1.4 6-2.1 25.5-0.1 21-1.2 6.6-1.5 0.3-6-1.4-6 0-6-3.9-10.5-3-0.7-1.6-1.5-22.5-2.5-9 0.6-6-1.6-12-1.8-7.5-4.5-11.4-9.7-20.1-6.3-16.5-6.3-19.5-13.4-46.5-0.7-4.5 0.2-6-3.3-7.5z"/>
<path fill="#c43c75" d="M400.8-0.5l60.1 0 0.9 4.5 2.5 5.4 7.8 9.6 14.7 13.5 9 6.8 9 7.9 13.5 10.1 9.2 9.7 5.8 10.4 3 3.8 4.5 2.9 9 2.1 2.2 1.8 1.5 3 1.1 7.5-0.1 3-0.8 1.5-9.9 2-3 2.2-4.5 6.2-1.5 1-7.5-0.2-6 4-7.5 2.1-4.5 1.9-4.5 3.1-10.5 8.8-5.6 6.4-3.4 7.4-1.5 6.1-2.4 25.5 0.1 19.5-0.7 3.1-1.5 1.7-7.5 1-3-0.2-6-3.5-8-2.1-2.1-1.5-0.6-3-0.1-6 1.5-16.5-0.3-4.5-1.8-9-5.5-19.5-3.9-9-10.4-21-5.7-15-7.3-22.5-13.6-46.5-0.3-9-3.2-7.5z"/>
<path fill="#cd4071" d="M401.6-0.5l53.9 0 0.9 4.5 1.9 5 3 5.4 3 4 6.5 6.6 14.8 12 21.4 21 9.9 12 2.9 4.5 2 4.5 1.1 4.5-0.3 4.5-1.3 3.3-4 5.7-0.3 1.5 3 7.5-1.2 4.5-3.6 4.5-8.9 6.5-15 13.3-4.4 5.7-3.4 7.5-2.2 9-2.5 21 0.6 19.5-1 3-2.1 1.7-4.5 1.2-3-0.2-6-3.3-8.2-2.4-1.1-1.5-0.3-3 0.4-4.5 3.1-9 0.4-3-0.4-7.5-1.2-6-8.8-25.5-12.9-25.5-7.9-21-15.7-49.5-4.5-16.5-0.5-9-3-7.5z"/>
<path fill="#d6456c" d="M402.4-0.5l48.6 0 0.9 4.5 2.2 6 5.7 9.7 7.5 8.2 12.1 9.1 4.8 4.5 17.3 22.5 4.7 7.5 2.7 6 0.7 3-0.2 3-4.3 10.5-0.5 4.5 1.2 3 3.8 6 0.6 4.5-1.2 3-3.7 4.5-12.9 12-4.1 4.5-3.1 4.5-2.9 6-3.5 12-4.1 21 0.1 3 2 9 0.2 4.5-1.1 3-2.6 2-3 0.7-1.5-0.2-6-3-7.1-2.5-0.8-1.5 0-3 0.9-3 2.5-3.4 4-2.6 0.9-1.5-0.1-1.5-5.7-19.5-10.8-25.5-12.5-24-6.8-18-11.7-36-9.2-31.5-0.7-9-3.1-9z"/>
<path fill="#df4a68" d="M403.1-0.5l43.9 0 1 4.5 2.8 7.5 6 10.4 7.5 8.7 13.5 10.8 2.9 3.1 11.1 16.5 6.3 10.5 2.9 6 1.3 7.5-0.9 13.5 0.8 3 3.6 7.5 0.1 4.5-1.2 3-3.3 4.5-11.6 11-5.3 7-5.7 12-6.3 18-2.2 3.4-1.5 0.5-1.5-0.2-1.5-1.2-1.5-2.4-2.3-6.1-7.4-13.5-8.3-18-8.4-15-4.7-10.5-12.5-36-9.4-30-4.5-16.5-0.9-9-2.3-6zM457.8 191.5l0.9-1.5 2.6-1.6 7.5-0.9 1.5 0.4 2.2 2.1 1.1 3 0 3-1.8 2.5-3 0.7-10.3-4.7-0.9-1.5z"/>
<path fill="#e75263" d="M403.9-0.5l39.6 0 1.3 5.5 2.6 6.5 6.4 11.8 7.5 9.4 12.7 11.8 4 4.5 8.2 12 10.3 18 2.1 7.5 1.1 13.5 3.3 9 0.3 3-0.5 3-3.7 6-9.3 8.9-4.5 5.4-4.2 6.7-7.8 15-3 3.7-1.5 0.7-1.5 0-3-1.9-4.5-5-3-4.4-9.3-18.6-8-13.5-4.9-10.5-13.6-39-9.4-30-4.1-15-1-9-2.2-6z"/>
<path fill="#ec5860" d="M404.7-0.5l35.5 0 1.6 5.9 3 7.2 7.5 13.7 7.5 9.6 12.3 13.1 5.7 7 7.5 10.9 8.7 15.1 2 6 2.1 12 2.7 9 0.3 3-0.6 3-3.2 5.5-8.3 8-4.8 6-10.9 17.7-3 2.8-3 0.9-3-0.9-3-2.3-3-3.5-10.4-19.2-7.5-12-4.6-9.7-14-39.8-9-28.5-4.6-16.5-1.1-9-2.1-6z"/>
<path fill="#f2625d" d="M405.5-0.5l31.7 0 1.2 4.5 3.1 7.5 8.8 16.5 9.5 12.7 13.5 15.7 7.5 9.7 7.5 11.4 4.5 9 2.7 7.5 3.1 13.5 0.5 4.5-0.6 3-2.5 4.5-7.7 7.5-3.7 4.5-11.3 17.2-4.5 3.4-1.5 0.3-3-0.5-3-2.1-3-3.4-10.1-17.9-6.9-10.5-4.3-9-14.7-41.2-9-28.5-4.3-15.8-1.3-9-2-6-0.5-4.5z"/>
<path fill="#f66c5c" d="M406.4-0.5l28.1 0 3.1 9 10.8 21 12.9 17.8 19.8 24.2 5.7 9 6.3 12 2 6 2.1 10.5-0.2 4.5-1 3-2.1 3-5.6 5.1-3 3.5-12 17.5-2.4 2.4-2.1 1.3-1.5 0.3-3-0.4-3-2-2-2.2-10.9-18-6.2-9-4.9-10.3-16.5-46.6-7-22.6-4.1-15-1.3-9-2.2-7.5z"/>
<path fill="#f9785d" d="M407.3-0.5l24.7 0 2.5 7.5 13.2 25.5 12.1 17.3 20.2 24.7 12.8 21.6 1.5 5.1 1.2 7.8-0.1 3-1.1 3.8-1.5 2.3-6.4 5.9-13.9 19.5-3.7 3.2-1.5 0.4-3-0.4-4.5-3.8-10.2-15.9-6.4-9-4.4-9-16.5-45.7-7.5-24-4.2-15.8-1.5-9-1.9-6-0.4-4.5z"/>
<path fill="#fb835f" d="M408.3-0.5l21.4 0 2.6 7.5 13.8 27 12.2 17.8 19.6 24.2 14.2 22.5 1 4.5 0.6 6-1.2 6-1.2 1.8-6 5.5-7.5 10.8-6.8 8.9-2.2 2-1.5 0.6-3-0.4-4.5-4.1-16.5-23.6-4.2-9-16.8-46.5-6.9-22.5-7.6-31.5z"/>
<path fill="#fc8c63" d="M409.5-0.5l18.1 0 2.7 7.5 14.5 28.6 12 17.7 19 24.2 7.7 12 5.7 7.5 1.6 3 1 7.5-1.2 6-0.9 1.5-4.9 4.5-8.5 12.7-6 7-3 2.3-1.5 0.2-3-1.4-4.5-4.9-13.5-18.4-4.7-9.5-17.8-48.7-6-19.8-7.5-31.2-0.2-3.8z"/>
<path fill="#fd9869" d="M410.8-0.5l14.8 0 4.2 10.5 14.5 28.5 11 16 18.4 24.5 6.9 10.5 7.8 10.5 1.2 6-0.3 3-1 3-5.2 6-8.3 12.9-4.5 4.6-3 2.2-1.5 0.3-3-1-4.5-4.4-12.6-16.1-4.5-9-15.9-42.6-6-18.2-9.4-38.2-0.2-4.5z"/>
<path fill="#fea36f" d="M412.6-0.5l10.7 0 6 13.5 8.2 15 5.5 12 43.1 61.5 0.7 4.5-1.2 4.5-10.8 16.9-3 3.4-4.5 3.2-1.5 0.3-3-0.7-4.5-3.8-12-14.5-4.5-9.3-16.5-43.5-4.9-15-9.4-39 0-4.5z"/>
<path fill="#feae77" d="M415.5-0.5l4.4 0 2.4 2.9 7.2 15.1 6.3 10.5 5 12 6.6 9 35 52.5 0.9 4.5-0.6 3-1.4 3-8 13.5-3 3.2-3 1.8-1.5 0.3-3-0.4-4.5-3.3-10.5-11.9-4.6-9.2-17.9-45.9-4.4-14.1-8.5-37.5 0.2-4.5z"/>
<path fill="#feb97f" d="M416.3 3l1.5-0.4 1.5 0.5 2.3 2.4 6.4 13.5 7 10.5 3.8 10.7 6.6 8.8 25.3 39 7.8 13.5 0.9 3 0 3-1.9 6-5.2 9-2 2.4-3 2.1-1.5 0.4-3-0.2-4.5-2.8-9-9.7-4.6-8.7-17.9-44.4-4.5-13.8-4.3-18.3-3.9-21 0.2-3z"/>
<path fill="#fec488" d="M417.8 8.7l1.5 0.3 5.6 10 7.9 9.6 1.7 3.9 1.4 6 1.5 3 7.2 9 23.4 37.5 6.4 12 1.7 6-0.9 6-2 4.5-2.9 4.2-1.9 1.8-2.6 1.5-3 0.1-3-1.4-6-5.4-4.4-5.3-3.1-6.2-6.3-16.3-10.2-23.1-6-17-4.2-18.4z"/>
<path fill="#fecd90" d="M422.3 24l1.5-0.3 6 3.9 1.8 1.9 1.3 3 0.9 6 1.4 3 7.6 9 14.9 25.5 8.7 13.5 4.5 9 2 6 0 6-2.6 5.7-4.5 4.2-1.5 0.5-3-0.3-4.5-3-5.2-5.6-3.8-7-6.7-17-9.8-21-4.5-11.1-2.3-8.4-3.4-16.5 0.1-4.5z"/>
<path fill="#fed89a" d="M423.8 28.4l1.5-0.5 1.5 0.2 2.6 1.4 1.2 1.5 0.5 1.5 0.7 7.5 2.1 3 7.2 7.5 12.1 22.5 9.9 15 3.9 7.5 3.1 7.5 0.5 6-1.8 4.9-1.5 1.7-3 2-3 0-4.5-2.7-4-4.4-3.3-6-7.2-18-14.1-30-2.3-9-1-9-1.9-6 0.2-3z"/>
<path fill="#fde3a5" d="M425.8 31l1-0.4 1.5 0.8 0.5 1.1-0.5 2.5-1.5 0.2-1.6-2.7zM429.8 43.4l4.5 2.3 5.1 4.8 10.6 22.5 9.8 13.4 3.4 6.1 4.1 9 1.2 4.5-0.6 4.5-2.1 3-1.5 0.9-3 0.4-3-1.4-3.1-2.9-2.9-4.7-6-13.3-5-13.5-11.8-22.5-1.3-4.5-0.5-4.5 0.6-3.2z"/>
<path fill="#fceeb0" d="M431.3 47.2l1.5 0 3 1.5 2.7 3.3 3 12 0.3 4.6-1.5-0.1-3-2.9-6-8.9-1.6-6.2 0.1-1.5zM447 79l0.8-0.3 1.5 0.6 4.5 3.3 3.6 3.9 2.7 4.5 5.4 12 0.7 3-0.4 3.2-1.5 2-1.5 0.8-3-0.4-3.1-2.6-9-18-1.2-6-0.2-4.5z"/>
<path fill="#fcf9bb" d="M432.8 50.4l1.5-0.1 1.7 1.7 0.6 3-0.8 1.9-1.5-0.5-1.5-2-0.6-2.4zM450.8 85.9l1.5-0.2 1.5 0.7 3 3.9 2.1 6.7 4.1 7.5 0 3-1.7 1.2-1.5-0.6-1.5-1.7-2.4-6.4-5.3-7.5-0.9-4.5z"/>
</g>
<path d="M389.8 4 390.5 20.8 391.8 45.9 394.3 66.1 397.7 82.8 401.9 97.9 406.9 109.7 411.1 117 416.1 125.4 422 133.8 432 142.2 443.8 151.4 457.2 159.8 468.9 166.5 477 171 487.1 175.7 498.8 181.6 508.9 186.6 517.2 191.6 525.6 193.3M541.6 200.9 559.2 201.2 563.4 205.9 570.9 206.7 575.9 210.9 584 211.4" stroke="#ffffff" class="ct"/>
<path d="M400.5 4 403.5 20.8 407.7 37.5 412.8 54.3 417 68.6M420.3 78.6 425.3 94.6 430.4 108 434.6 117 440.4 128.7 444.6 138.8 447.1 148.9 448.8 160.6 450.2 175.7 450.5 189.1 451 202.5 457.2 209.2 467.3 215.1 477 218.5 482 219 483.7 214.3 483.7 184.1 484.5 167.3 486.2 150.5 490.4 140.5 497.1 133.8 505.5 127.1 515.6 122.9 525.6 122 528.1 118.7 529 117 536.5 117 538.2 115.5 540.7 111.3 544.1 108.8 559.2 108.3 560 101.3 560.9 87.9 560 79.5 559.2 72.3 544.1 72.3 541.6 70.2 540.4 61.9 538.2 56.3 530.7 55.7 527.3 51 525.6 45.6 517.2 45.1 510.5 42.6 503.8 37.5 497.1 31.2 492.9 30.8 487.1 25.8 482 19.1 477 14.5 473.1 9 468.9 4" stroke="#fff200" class="ct"/>
<path d="M407.7 4 411.1 20.8 415.3 37.5 420.3 54.3 425.3 68.6M429.5 79.5 434.6 94.6 439.6 108 443.8 117 450.5 125.4 457.2 135.4 463.9 143 468.1 143.5 473.1 137.1 477 132.9 487 118 490.4 117 492.9 108 492.1 99.6 483.7 87.9 477 77 470.6 69.4 463.9 61 457.2 52.6 450.5 42.6 443.8 32.5 438.8 22.4 433.7 12.4 429.5 4" stroke="#ffa500" class="ct"/>
<path d="M437.9 79.5 432.9 69.4 427.9 57.7 424.5 45.9 422.8 34.2 423.3 25.8 427 29.2 432 37.5 437.1 45.9 443.8 54.3 450.5 66.1 457.2 77.8 463.9 87.9 468.9 97.9 471.5 106.3 470.6 113 467.3 117 463.5 119.5 458 117 455.5 114.7 450.5 108 446.3 97.9 442.9 89.5" stroke="#ff0000" class="ct"/>
<path d="M421.1 4 423.7 14.1 426.2 25.8 429.5 37.5 432.9 51 437.1 64.4 441.3 76.1 445.5 87.9 450.5 97.9 455.5 108 460.6 114.7 468 119.5 477 122.9 487.1 128.7 498.8 137.1 508.9 143 517.2 146.3 525.6 148M541.6 157.2 558.3 157.6 563.4 165.6 570.9 166.1 575.9 169 584 169.3" stroke="#ffffff" class="ct"/>
<path d="M456.4 4 459.7 10.7 461.4 19.1 463.9 24.1 464.8 29.2 468.9 35.9 472.3 42.6 474 47.6 477 52.5 479.5 57.7 480.4 62.7 505.5 95.4 509.7 95.9 517.2 105.5 525.6 106.3 529.8 111.3M541.6 119.5 557.5 119.9 562.5 127.9 570.9 128.7 575.9 135.4 584 136.3" stroke="#ffffff" class="ct"/>
<path d="M561.5 4.5 562.3 6.5 564.5 7.6M576 17.9 584 17.9" stroke="#ffffff" class="ct"/>
<text x="419.8" y="75.7" font-size="6.36" text-anchor="middle" fill="#fff200" textLength="3.8" lengthAdjust="spacingAndGlyphs" transform="rotate(70 419.8 73.5)">3</text>
<text x="428.5" y="75.7" font-size="6.36" text-anchor="middle" fill="#ffa500" textLength="3.8" lengthAdjust="spacingAndGlyphs" transform="rotate(70 428.5 73.5)">2</text>
<text x="441.3" y="86.5" font-size="6.36" text-anchor="middle" fill="#ff0000" textLength="3.8" lengthAdjust="spacingAndGlyphs" transform="rotate(65 441.3 84.3)">1</text>
<text x="573" y="11.7" font-size="6.36" text-anchor="middle" fill="#ffffff" textLength="13.4" lengthAdjust="spacingAndGlyphs" transform="rotate(50 573 9.5)">0.12</text>
<text x="535.5" y="118.7" font-size="6.36" text-anchor="middle" fill="#ffffff" textLength="13.4" lengthAdjust="spacingAndGlyphs" transform="rotate(15 535.5 116.5)">0.25</text>
<text x="534.5" y="154.2" font-size="6.36" text-anchor="middle" fill="#ffffff" textLength="13.4" lengthAdjust="spacingAndGlyphs" transform="rotate(18 534.5 152)">0.50</text>
<text x="534" y="199.7" font-size="6.36" text-anchor="middle" fill="#ffffff" textLength="13.4" lengthAdjust="spacingAndGlyphs" transform="rotate(18 534 197.5)">2.00</text>
<path d="M460 113.3l3.2 3.7l-3.2 3.7l-3.2-3.7z" fill="#fff" stroke="#ffffff" stroke-width="1.3" stroke-linejoin="round"/>
<circle cx="460" cy="109.8" r="0.9" fill="#ff0000"/><path d="M459.4 111l1.6 2" stroke="#ffa500" stroke-width="1.1" fill="none"/>
<path d="M439.6 74.1h8.4M443.8 69.9v8.4" stroke="#000" stroke-width="1.1" fill="none"/>
</g>
<rect x="369.8" y="4" width="213.6" height="226.1" class="fr"/>
<text x="386.2" y="241" font-size="8.46" text-anchor="middle" fill="#1a1a1a" textLength="14.5" lengthAdjust="spacingAndGlyphs">200</text>
<text x="419.1" y="241" font-size="8.46" text-anchor="middle" fill="#1a1a1a" textLength="14.5" lengthAdjust="spacingAndGlyphs">400</text>
<text x="452" y="241" font-size="8.46" text-anchor="middle" fill="#1a1a1a" textLength="14.5" lengthAdjust="spacingAndGlyphs">600</text>
<text x="484.8" y="241" font-size="8.46" text-anchor="middle" fill="#1a1a1a" textLength="14.5" lengthAdjust="spacingAndGlyphs">800</text>
<text x="517.7" y="241" font-size="8.46" text-anchor="middle" fill="#1a1a1a" textLength="19.3" lengthAdjust="spacingAndGlyphs">1000</text>
<text x="550.5" y="241" font-size="8.46" text-anchor="middle" fill="#1a1a1a" textLength="19.3" lengthAdjust="spacingAndGlyphs">1200</text>
<text x="583.4" y="241" font-size="8.46" text-anchor="middle" fill="#1a1a1a" textLength="19.3" lengthAdjust="spacingAndGlyphs">1400</text>
<text x="363.9" y="233" font-size="8.46" text-anchor="end" fill="#1a1a1a" textLength="9.5" lengthAdjust="spacingAndGlyphs">15</text>
<text x="363.9" y="200.8" font-size="8.46" text-anchor="end" fill="#1a1a1a" textLength="9.5" lengthAdjust="spacingAndGlyphs">16</text>
<text x="363.9" y="168.4" font-size="8.46" text-anchor="end" fill="#1a1a1a" textLength="9.5" lengthAdjust="spacingAndGlyphs">17</text>
<text x="363.9" y="136.1" font-size="8.46" text-anchor="end" fill="#1a1a1a" textLength="9.5" lengthAdjust="spacingAndGlyphs">18</text>
<text x="363.9" y="103.9" font-size="8.46" text-anchor="end" fill="#1a1a1a" textLength="9.5" lengthAdjust="spacingAndGlyphs">19</text>
<text x="363.9" y="71.5" font-size="8.46" text-anchor="end" fill="#1a1a1a" textLength="9.5" lengthAdjust="spacingAndGlyphs">20</text>
<text x="363.9" y="39.3" font-size="8.46" text-anchor="end" fill="#1a1a1a" textLength="9.5" lengthAdjust="spacingAndGlyphs">21</text>
<text x="363.9" y="7" font-size="8.46" text-anchor="end" fill="#1a1a1a" textLength="9.5" lengthAdjust="spacingAndGlyphs">22</text>
<rect x="597" y="4" width="11.3" height="226.1" class="cb"/>
<text x="612.6" y="223.3" font-size="6.47" text-anchor="start" fill="#1a1a1a" textLength="8.9" lengthAdjust="spacingAndGlyphs">0.2</text>
<text x="612.6" y="196.1" font-size="6.47" text-anchor="start" fill="#1a1a1a" textLength="8.9" lengthAdjust="spacingAndGlyphs">0.3</text>
<text x="612.6" y="168.8" font-size="6.47" text-anchor="start" fill="#1a1a1a" textLength="8.9" lengthAdjust="spacingAndGlyphs">0.4</text>
<text x="612.6" y="141.6" font-size="6.47" text-anchor="start" fill="#1a1a1a" textLength="8.9" lengthAdjust="spacingAndGlyphs">0.5</text>
<text x="612.6" y="114.4" font-size="6.47" text-anchor="start" fill="#1a1a1a" textLength="8.9" lengthAdjust="spacingAndGlyphs">0.6</text>
<text x="612.6" y="87.2" font-size="6.47" text-anchor="start" fill="#1a1a1a" textLength="8.9" lengthAdjust="spacingAndGlyphs">0.7</text>
<text x="612.6" y="60" font-size="6.47" text-anchor="start" fill="#1a1a1a" textLength="8.9" lengthAdjust="spacingAndGlyphs">0.8</text>
<text x="612.6" y="32.8" font-size="6.47" text-anchor="start" fill="#1a1a1a" textLength="8.9" lengthAdjust="spacingAndGlyphs">0.9</text>
<text x="612.6" y="5.6" font-size="6.47" text-anchor="start" fill="#1a1a1a" textLength="8.9" lengthAdjust="spacingAndGlyphs">1.0</text>
<path d="M386.2 230.1v2.6M419.1 230.1v2.6M452 230.1v2.6M484.8 230.1v2.6M517.7 230.1v2.6M550.5 230.1v2.6M583.4 230.1v2.6M369.8 230.1h-2.6M369.8 197.8h-2.6M369.8 165.5h-2.6M369.8 133.2h-2.6M369.8 100.9h-2.6M369.8 68.6h-2.6M369.8 36.3h-2.6M369.8 4h-2.6M608.3 221.7h1.7M608.3 194.5h1.7M608.3 167.2h1.7M608.3 140h1.7M608.3 112.8h1.7M608.3 85.6h1.7M608.3 58.4h1.7M608.3 31.2h1.7M608.3 4h1.7" class="tk"/>
<text x="476.6" y="258.1" font-size="10.60" text-anchor="middle" fill="#1a1a1a" textLength="80.9" lengthAdjust="spacingAndGlyphs">Temperature [K]</text>
<text x="343.2" y="130.7" font-size="10.60" fill="#1a1a1a" text-anchor="middle" textLength="76.7" lengthAdjust="spacingAndGlyphs" transform="rotate(-90 343.2 130.7)">log<tspan font-size="7.4" dy="2">10</tspan><tspan dy="-2">(N [cm</tspan><tspan font-size="7.4" dy="-3.8">−2</tspan><tspan dy="3.8">])</tspan></text>
<text x="633.7" y="117" font-size="10.60" fill="#1a1a1a" text-anchor="middle" textLength="28.5" lengthAdjust="spacingAndGlyphs" transform="rotate(-90 633.7 117)">χ<tspan font-size="6.6" dy="-4">2</tspan><tspan font-size="6.6" dy="6.8" dx="-3.8">min</tspan><tspan dy="-2.8">/χ</tspan><tspan font-size="6.6" dy="-4">2</tspan></text>
<text x="487" y="285.4" class="cap" text-anchor="middle" textLength="175.6" lengthAdjust="spacingAndGlyphs">(b) H<tspan class="sb" dy="1.6">2</tspan><tspan dy="-1.6">O from 13</tspan><tspan dx="1.6" class="it">µ</tspan>m to 17<tspan dx="1.6" class="it">µ</tspan>m</text>
</g>
<!-- panel c -->
<g>
<clipPath id="clc"><rect x="37" y="309.5" width="213.3" height="226"/></clipPath>
<g clip-path="url(#clc)"><g filter="url(#bl)">
<rect x="32.5" y="305" width="222.3" height="235" fill="#010106"/>
<path fill="#030312" d="M32.5 305l223.5 0 0 214.7-7.5-1.6-9 1-6 0-25.5-3.3-6 1.4-9 5.1-4.5 0.6-15-3.6-13.5 0.5-10.5-0.5-10.5 1.2-6-0.2-15-3.2-4.5-1.7-2.9-1.9-2.9-4.5-1.8-10.5-6.5-15-0.7-3 0.2-7.5-0.6-3-1.3-2.1-3-2.8-12-6.5-4.3-5.1-1.8-4.5-3.8-13.5-8.8-15-1.2-3-1.9-19.5-3.6-13.5-9.1-18.2-7.8-13.3-7.2-13.9z"/>
<path fill="#08071e" d="M32.5 305l223.5 0 0 212-7.5-0.8-12 0.7-6-0.2-22.5-3.3-3 0.5-3 1.3-9 5.3-6 0.9-13.5-2.9-13.5 0.3-10.5-0.7-10.5 1-6-0.2-13.5-3.2-3-1.2-3.6-2.5-2.9-4.5-2.4-10.5-4.5-12-0.7-4.5 0.7-9-0.7-3-3.9-6-3-3-7.5-5.7-2.4-3.3-0.9-3-0.4-7.5-1.1-4.5-9.5-19.5-5.2-16.3-2.6-6.2-6-12-18-30-3.3-7.5-2.5-9-1.6-1.5-2-0.9z"/>
<path fill="#0e0b2b" d="M32.5 305l223.5 0 0 209.8-7.5-0.4-19.5 0.3-7.5-0.9-10.5-2.4-3-0.1-4.5 1.2-10.5 6.5-6 1.2-13.5-2.5-13.5 0.2-10.5-0.7-10.5 0.6-6-0.2-12-3-6-3.3-2-2.3-1.5-3-6.1-21-0.4-4.5 0.8-9-0.5-3-2.3-4.9-9.5-14.6-0.8-9-1.5-4.5-10.5-18-7.1-18-3.6-7.5-25.6-40.5-2.9-7.5-1.1-9-0.6-1.5-1.6-1.5-5.7-2.5z"/>
<path fill="#150e38" d="M32.5 305l223.5 0 0 207.7-28.5 0.1-6-0.8-9-2.4-4.5-0.4-4.5 1.4-10.5 7.1-6 1.4-15-2.2-12 0.2-12-0.8-13.5 0.3-12-2.8-6.1-3.3-2.6-3-1.3-3-4.6-16.5-1-6 0.6-12.5-1.5-4.6-6.7-14.4-1.2-10.5-0.8-3-2.4-4.5-9.6-15-7.8-18.5-4.5-8.5-16.5-23.3-9.8-15.7-2.9-7.5-0.8-9-1.1-3-1.9-1.6-7.5-3.2z"/>
<path fill="#1d1147" d="M32.5 305l223.5 0 0 205.6-30 0.4-4.5-0.8-9-2.8-4.5-0.3-4.5 1.6-10.5 7.8-3 1.1-4.5 0.5-13.5-2-37.5-0.5-12-3.1-5.7-3.5-2.3-3-1.3-3-3.9-15-0.8-6 0.5-12.5-6.2-17.5-1.4-12-1.4-5.1-11-17.4-8.5-19.5-4-7.5-5.2-7.5-13.3-17.1-9.3-14.4-3-7.5-1.8-12-0.9-1.5-2.1-1.5-8.4-3.9z"/>
<path fill="#241253" d="M32.5 305l172.9 0 3.1 3 8.5 6.3 5.2 2.7 5.3 1.6 6 0.5 6-0.4 16.5-3.2 0 192.8-6 0.7-24 0.1-4.5-0.9-9-3-4.5-0.3-4.5 1.9-10.5 8.6-3 1.2-4.5 0.6-13.5-1.8-12 0.2-10.5-0.8-15-0.1-10.5-2.8-6-3.4-2.2-2.5-1.5-3-3.4-13.5-1-7.5 0.2-13.5-5.1-16.5-1.4-13.5-1.8-6-10.4-16.5-7.7-18-4.1-7.5-5.3-7.5-14.8-18.1-9-13.4-3.1-7.5-1.6-10.5-1.2-3-3.1-2.7-9-4.8z"/>
<path fill="#2d1161" d="M32.5 305l145 0 2 1.5 15 7.9 4.5 3.6 12 11.9 4.5 3 6 2.7 6 1.2 6 0 22.5-5.5 0 174.3-7.5 1.1-22.5 0.4-4.5-1-9-3.5-4.5-0.3-4.5 2.4-7.5 7.3-3 2.3-3 1.3-4.5 0.7-12-1.5-13.5 0.1-25.5-1.1-10.5-3-5.5-3.3-2.4-3-1.3-3-3-13.5-0.7-6 0.1-13.5-4.3-16.5-1.4-15-1.2-4.5-2.3-4.5-7.8-12-7.6-18-4.6-8.2-6.1-8.3-14.9-17.4-8.8-12.6-3.3-7.5-2-10.5-1.1-3-2.8-3-10.5-6.6z"/>
<path fill="#38106c" d="M32.5 305l121.4 0 4.2 3 21.4 9 9 5 6 4.8 12 12.1 13.5 10.3 6 3.4 4.5 1.3 6-0.4 19.5-6.3 0 154.9-7.5 1.6-22.5 1-6-1.6-9-4.2-3 0-3 1.8-10.5 11.4-4.5 2.6-4.5 0.8-12-1.3-13.5 0.1-24-1.2-10.1-2.6-6.4-3.5-2.3-2.5-1.5-3-2.6-12-0.7-6-0.2-15-3.6-16.5-1.2-15-1.4-6-10-16.5-6.7-16.5-5.2-9-5.6-7.5-16-18-8.6-12-3.6-7.5-2.8-11.9-1.5-3-1.5-1.6-6.6-4.5-5.4-4.6z"/>
<path fill="#420f75" d="M32.5 305l105 0 4.5 4.2 7.5 4.4 7.5 3.1 21 7.3 6 3 6 4.2 20.2 20.3 4.1 6 5.7 12.8 1.7 2.2 2.8 2.3 4.5 1.1 4.5-0.8 15-7.7 7.5-2.7 0 132.5-9.8 2.8-20.2 1.8-6-1.7-9-6.9-3-0.3-1.5 0.9-6.7 10.7-4.8 6-5 3.3-4.5 0.9-12-1.1-13.5 0.1-24-1.3-10.5-3.1-5.7-3.3-3.3-4.8-2.2-10.2-0.8-7.5-0.4-15-3.2-18-1.1-16.5-1.4-4.5-9-15-6.6-16.5-5.2-9-6.8-9-15.8-17.1-7.6-9.9-4.4-8.1-3.6-12.9-1.5-3-2.4-2.6-6.5-4.9-5.5-6.5z"/>
<path fill="#4c117a" d="M32.5 305l91.7 0 10.3 9 7.5 4.6 9 3.4 22.5 6.3 10.5 4.7 7.5 5.5 10.8 11.5 3.1 4.5 2.1 4.5 2.7 13.5 4.3 12 2.5 9 1.5 1.8 4.5 2.7 0.9 1.5 0.1 1.5-1 1.7-4.6 2.8-1.4 2.7-1.1 9.3-2.5 12 0.1 9-3.1 6-1.3 4.5 0.6 4.5 5.3 16.5 0.9 6-0.4 3-1 1.5-8 5.8-2.7 3.2-3.8 12-3.6 6-3.4 3.6-4.5 2.3-4.5 0.5-10.5-1-13.5 0.2-22.5-1.3-6-1.3-7.5-2.9-3-1.8-2.7-2.8-1.9-4.5-1.4-9-0.9-21-3-19.5-0.6-15-1.1-4.5-9.6-16.5-4.9-13.5-4-7.5-7.5-10.5-16.9-18-9.5-12-4-7.5-3.8-12-1.4-3-2.5-3-7-6-2.2-3-3.6-7.7zM256 388.6l0 98.9-7.6 5-5.9 2.4-12 2.5-4.5 0.1-2.6-0.5-1.9-1-1.5-1.7-1.4-3.3-0.7-7.5 1.3-3 3.8-2 12-3.3 5.4-2.2 5.8-4.5 2.2-3 1.4-3 0.8-4.5-0.3-4.5-5.3-16.5 1-16.5-0.5-16.5 1.1-4.5 2.5-4.5 3.8-4.5zM217.1 438.5l1.4-1.5 1.5-0.5 3 0 1.5 0.5 1.5 1.5 0 1.5-1.5 1.6-3 0.6-3-1.1-1.1-1.1z"/>
<path fill="#54137d" d="M34.6 305l65.7 0 17.7 6.1 3 1.9 9 7.5 7.5 3.9 10.5 3 22.5 5 9 3.1 9 5.4 4.5 4 4.6 5.1 2.9 4.5 1.9 4.5 2.3 13.5 3.3 9 1 4.5-0.1 4.5-2.6 7.5-0.4 3 3.3 10.5 0.5 6-0.6 4.5-2.4 9-2.7 18 0.7 4.5 3 10.5 0.9 7.5-0.3 3-1.5 4.5-5.9 10.5-2.3 12-3.3 6-2.9 3-3.9 2.1-4.5 0.6-10.5-0.9-15 0.2-21-1.4-4.5-0.9-7.5-2.9-3-1.5-3.1-2.8-2.2-4.5-1-6-1.1-22.5-2.9-24-0.1-12-1.6-6-8.6-15-4.7-13.5-3-6-9.7-13.5-17.4-18-9.1-11.4-3.7-6.6-5.6-15-2.7-3.4-6.1-5.6-2.1-3-1.8-4.5z"/>
<path fill="#5d177f" d="M36.8 305l47.1 0 2 3 3.6 2.2 15 3.4 7.5 2.9 12 9.1 6 2.9 7.7 2 31.3 5.9 10.5 3.2 4.5 2.3 4.5 3.1 6.2 6.5 4 7.5 2.3 13.5 4.4 12 0.1 6-2.5 7.5-0.5 3 3.2 10.5 0.5 6-5 31.5 3.3 16.5 0.1 9-1.7 6-4 9-0.9 9-1.3 4.5-2.5 4.5-2.7 2.7-3 1.5-4.5 0.7-10.5-0.7-15 0.2-21-1.5-4.5-1-7.5-3.1-3.3-1.8-2.7-2.7-1.6-3.3-0.9-6-0.7-19.5-2.8-27-0.1-13.5-1.2-4.5-8.9-16.5-3.9-12-4-7.5-10.1-13.5-18.3-18.7-6-7.2-3.8-5.6-2.4-4.5-5.3-13.5-10.2-12-1.5-4.5z"/>
<path fill="#671b80" d="M38.9 305l39.1 0 2.5 5.6 3.9 3.4 3.6 1.5 12 2.4 6 2 4.8 3.1 7.2 6.4 4.4 2.6 6.1 1.7 24 3.5 22.5 4.4 6 2.3 4.5 2.6 4.1 3.5 2.6 3 3.8 7.5 2.6 13.5 3.2 7.5 1.3 4.5 0 4.5-2.4 7.5-0.4 3 2.8 10.5 0.5 6-4.4 30 0.2 4.5 2.4 15-0.2 9-4.2 13.5-0.8 9-1 4.5-1.4 3-2.7 3.1-3 1.8-4.5 0.8-10.5-0.6-15 0.3-19.5-1.5-6-1.3-10.5-4.9-2.2-2.2-1.6-3-0.8-4.5-0.6-19.5-2.6-30 0.1-12-1.1-4.5-8.3-16.5-3.8-12-3-6-12.1-16.1-16.5-16.3-10.5-12.7-3.4-5.9-5.8-13.5-9.5-12-1.4-4.5z"/>
<path fill="#701f81" d="M40.8 305l33 0 3.4 7.5 4.8 4.9 6 2.7 10.5 1.9 4.5 1.6 3.7 2.4 7.7 7.5 3.6 2.1 6 1.7 24 2.7 27 5 4.5 1.5 4.5 2.4 3 2.3 3 3.3 1.9 3 1.9 4.5 2.6 12 4.3 10.5 0.6 4.5-2.7 12 2.4 10.5 0.2 9-3.7 27 1.9 21 0 7.5-3.4 13.5-1.5 13.5-1.4 3-2.8 3-3.3 1.5-3 0.4-10.5-0.5-13.5 0.5-21-1.6-6.7-1.8-8.3-3.9-3-2.4-1.5-2.7-0.9-4.5-0.3-19.5-2.4-30 0-13.5-0.9-3.2-8.1-17.8-3.8-12-3.4-6-11.6-15-16.6-16.3-11.4-13.7-3.6-6.2-5.3-11.8-9-12-1.3-4.5z"/>
<path fill="#792282" d="M42.9 305l27.2 0 4.4 9 3 4 3 2.6 6 3 11.5 2.4 3.5 1.4 3 2.3 6 6.3 4.5 2.8 7.5 1.9 25.5 2.3 27 5.1 7.5 2.9 3 2.3 3 3.3 3.3 6.9 3.2 12 3.7 9 0.9 4.5-0.3 3-2.1 9 1.8 10.5 0.1 10.5-3.1 22.5 1.2 33-2.8 13.5-1 12-1.4 3-2 2.2-3 1.5-3 0.4-9-0.3-13.5 0.6-22.5-1.7-6-1.7-9-4.4-2.9-2.6-1.3-3-0.4-3 0-18-2.3-31.5 0-13.5-0.7-3-7.4-18-3.3-10.5-3.9-7.5-12.3-15.6-16.3-15.9-7.7-8.5-4.9-6.5-9.4-18-7.7-10.5-1.2-4.5z"/>
<path fill="#832681" d="M45.1 305l21.3 0 6.6 11.8 3 3.9 3 2.8 6 3.2 13.6 3.8 2.9 2 6 5.7 6 3.4 7.5 1.7 27 2.4 27 5.3 4.5 1.4 3 1.6 4.5 4.6 2.5 4.9 3.8 12 3.6 9 1.1 6-2.2 9 1.3 10.5 0.1 12-0.5 6-2 10.5-0.4 4.5 1.1 36-2.6 13.5-0.5 10.5-1.4 3-1.4 1.5-2.5 1.3-3 0.5-9-0.2-13.5 0.8-21-1.6-6-1.4-10.5-5.3-1.9-1.6-1.5-3-0.5-3 0.3-18-0.9-10.8-0.2-11.7-1.1-10.5 0.1-12-10.7-31.5-3.9-7.5-13.1-16.5-15.6-15-9.5-10.5-4.5-6.1-8.9-16.4-7.3-10.5-1-4.5z"/>
<path fill="#8b2981" d="M47.7 305l14.5 0 10.8 16.3 4.5 4.9 5 2.8 14.5 5.4 9.3 6.6 4.2 2.2 9 2.3 28.5 2.7 28.5 6 4.5 1.8 4.5 4.5 3 6.4 7.1 19.1 0.9 4.5-2.2 9 1.1 10.5-0.2 15-2.6 16.5 0.7 12-0.9 13.5 1.2 13.5-2.2 12-0.3 10.5-1.1 2.5-1.5 1.5-4.5 1.4-9 0-13.5 1.1-21-1.7-6.3-1.8-10.2-5.5-1.9-2-1.2-4.5 0.5-18-0.9-12 0.1-10.5-1.2-10.5 0.1-12-9.5-30-2.7-6-2.8-4.5-7.5-8.5-4.7-6.5-15.6-15-9.7-10.8-6-8.1-7.9-14.1-6.9-10.5-0.8-3 0.2-3z"/>
<path fill="#942c80" d="M52 305.6l3.1-0.6 4.4 2.8 3 3.2 10.5 14.6 3 3 4.5 2.5 13.5 5.5 13.5 7.6 4.5 1.7 7.5 1.6 10.5 0.8 7.5 1.6 10.5 0.5 22.5 5.7 6 0.8 4.5 2.1 2.7 3 6.3 13.7 4.9 14.8-0.3 3-2.1 6 1.2 9-0.9 7.5 0.6 10.5-2.7 13.5 1.1 13.5-1.8 13.5 1.8 10.5 0.2 4.5-2.5 12 0.4 9-1.8 3-4.1 1.5-7.5 0-15 1.5-21-1.7-4.8-1.3-12.5-7.5-0.9-1.5-0.5-3 0.7-18-0.9-12 0.2-10.5-1.2-10.5 0.1-12-8.3-28.5-3.4-7.5-3.9-6-6.9-7.5-5.7-7.7-12-11.1-11.5-12.7-9.5-13.2-11.2-18.3-1.2-3 0.4-4.5 1.5-2.6z"/>
<path fill="#9e2f7f" d="M50.5 310.8l3-1.3 1.5 0.1 3 1.5 9 10.1 5.4 7.8 2.1 1.8 15 6.5 18 8.9 8.4 2.3 14.1 1.8 7.5 1.9 6-0.3 4.5 0.5 15 3.9 7.5 2.8 7.5 1.1 3.6 3.3 6.9 13.1 4.6 13.9-0.3 3-2 4.5-0.5 3 1.4 6-1.6 9 1.4 10.5-0.3 3-2.4 9 1.4 15-2.7 13.5 0.3 3 2.2 8.4 0.3 3.6-2.8 12 0.9 9-1.4 2.2-3 1.1-7.5 0.3-15 1.9-19.5-1.6-6-1.5-6-4.3-6-3.3-1.2-3.8 0.8-18-0.9-12 0.4-10.5-1.3-10.5 0.1-12-3.2-10.5-2.2-10.6-3-8.9-3.7-7.5-4.3-6-5.7-6-6.9-9-14.2-13.5-9.2-10.5-5.5-7.5-14.8-24-0.3-3z"/>
<path fill="#a8327d" d="M52.9 314l2.1-0.1 4.5 3.3 6 5.9 4.8 7.4 2.7 2.4 13.5 5.4 18.6 8.7 6.9 2.1 24 4.7 9 0 16.5 4.1 9 4.2 6 1.1 3 2.3 7.5 12.5 3.9 14-3.3 7.5 0.2 3 1.3 4.5-2.3 7.5 2.4 12-0.2 3-2.4 9 1.8 12-0.1 3-3 10.5-0.4 3 0.3 3 2.7 9 0.4 3-3.1 12-0.1 3 1.3 4.5-0.1 1.5-0.8 1-1.5 0.7-21 3.3-7.5-0.2-13.5-1.4-6-1.7-6-4.8-5-2.9-1.1-3 0.8-18-0.8-12 0.5-10.5-1.4-10.5 0.2-12-3.1-10.5-2-10.5-2.4-7.5-3.7-7.7-5-7.3-6.9-7.5-6.1-8-12.3-11.5-12.6-15-9.6-13.8-5.9-10.2-1.9-4.5-0.1-1.5z"/>
<path fill="#b2357b" d="M58.6 323l0.9-0.3 1.5 0.6 3 2.2 2.6 3.5 1.9 4.5 1.8 1.5 13.2 4.2 17.4 7.8 8.1 2.8 27 5.6 10.5 0.5 13.5 3.4 16.5 8.1 6 7.2 2.8 5.4 2.4 12-2.7 7.5 0.4 7.5-1.5 7.5 0.2 3 2.4 9-2.1 12 1.7 13.5-0.5 3-2.6 7.5-0.6 4.5 0.6 4.5 2.7 10.5-0.4 3-2.8 9 0.5 7.5-1.4 1.5-11.1 3.4-6 1-7.5 0.1-15-1.5-6-2.1-10.3-8.4-0.5-3 0.6-16.5-0.6-12 0.6-9-1.4-12 0.1-12-2.9-10.5-1.9-10.5-2.5-7.5-3.6-7.5-5.2-7.5-6.9-7.6-7-8.9-11.1-10.5-11.3-13.5-2-3-3.5-7.5-5.6-6-2.1-4.5z"/>
<path fill="#ba3878" d="M72.7 339.5l1.8-0.6 4.5 0.8 21 8.6 7.5 2.4 22.8 5.3 16.2 1.6 13.5 3.5 3 1.4 12 8 5.7 6.5 2.1 4.5 1.6 9-1.8 9-1.3 15 0.3 4.5 1.6 7.5-1.2 12 1.3 12-0.3 3-2.4 7.5-0.6 4.5 2.2 16.5-2.4 9 0 9-0.8 1.5-2.2 1.5-7.2 3-5.1 0.9-9 0-13.5-1.4-3-0.8-3-1.6-8.2-7.6-1.2-3 0.5-18-0.4-10.5 0.5-9-1.4-12 0.2-10.5-6.2-27-4-9-4.8-7.5-15-18-13.6-13.5-9.2-12-1.3-3-0.1-1.5z"/>
<path fill="#c43c75" d="M76.9 342.5l2.1 0.1 6 1.7 18 6.5 15 3.3 9 2.8 18 1.9 13.5 3.4 4.5 2.3 7.9 6.5 4.1 4 3 3.9 2.4 5.6 0.9 6-2.4 25.5 1 12-0.4 10.5 0.6 10.5-2.6 13.5 1 16.5-2 10.5 0.8 9-1.5 3-1.8 1.5-5 2.5-4.5 0.9-9 0-13.5-1.4-3-0.9-3-1.9-7.2-8.2-0.7-3 0.1-25.5 0.5-9-1.5-13.5 0.2-10.5-0.6-4.5-5.5-22.5-3.3-7.5-5.7-9-14.9-18-10.5-10.5-5-6-6.1-10.5z"/>
<path fill="#cd4071" d="M83.5 347.3l4.5 0.3 15 4.7 15 3 9 3 16.5 1.7 15 3.8 3 1.6 4.4 4.1 5.3 6 4.2 6 2.2 6 0.8 7.5-1.9 22.5 0.3 30-2.2 13.5 0.7 15-2.1 12 1.6 10.5-1.3 3-3.8 3-3.7 1.2-6 0.3-18-1.6-3-1-2.8-1.9-5.6-7.5-0.7-3-0.2-10.5 0.7-24-1.5-12 0.1-12-5.8-25.5-3.8-9-5.7-9-14.9-18-8.7-9-6.2-7.5-1.8-4.5 0-1.5z"/>
<path fill="#d6456c" d="M86.5 351.3l1.5-0.5 3 0.2 12 2.8 13.5 2.2 10.5 3.6 15 1.4 15 3.8 3.3 1.7 3.1 3 7.8 12 3.6 9 1.1 7.5-1.5 10.5-1.2 19.5 0.5 16.5-2.3 13.5 1.2 15-2.8 15 2.7 10.5-0.9 3-3.6 3-3.5 0.8-7.5 0.1-15-1.6-4.7-2.3-3.5-4.5-1.5-3-0.5-3-0.3-21 0.9-12-1.7-12-0.2-15-5.8-24-3.1-7.5-4.4-7.5-13.1-16.5-13.3-15-4.1-6-0.5-1.5z"/>
<path fill="#df4a68" d="M92.5 355l4.5-0.4 16.5 2 6 1.5 6.4 2.4 13.1 1 16.5 4.5 3 1.3 2.5 2.2 4.4 7.5 6.6 15.5 1.4 5.5-0.1 3-1.9 7.5 0.3 9-2.5 12 1.5 9-0.2 4.5-3 15 2.2 9 0.2 4.5-3.5 16.5 0.7 3 2.8 6 0.5 3-0.5 1.5-2.4 2.3-3 0.9-7.5 0.2-13.5-1.3-2.3-0.6-2.7-1.5-3.6-4.5-1.1-4.5 0.5-6-0.9-15 1.3-12-2.2-13.5 0-13.5-1.1-6-4.8-18-3.5-9-5.6-9-13-16.5-10.6-12-2.2-4.5 0-1.5z"/>
<path fill="#e75263" d="M97 357.6l4.5-0.4 10.5 0.5 6 1.2 9 2.8 7.5 0.2 6 1 16.5 5.5 2.7 2.6 1.7 3 8.8 22.5 0.4 3-2.9 9 1.3 6-0.1 3-4.4 12 2.7 9 0.1 3-3.7 15-0.2 3 3.1 7.5 0.5 3-4 18 0.9 3 3.6 6 1.1 3-0.3 1.5-2.3 2-3 0.6-7.5 0.1-12-1.2-4.5-2.2-2.9-3.8-0.6-3 1.8-7.5-1.7-15 1.8-12-2.9-13.5 0.1-12-1.2-7.5-5.7-19.5-3.2-7.5-6.7-10.5-21.4-27-0.8-3z"/>
<path fill="#ec5860" d="M101.5 360.2l4.5-1 6 0 6 1 7.5 2.2 9 0.3 4.5 0.9 16.5 6.1 2.7 2.8 1.5 3 3.9 10.5 3.6 12-0.3 3-1.8 4.5-0.6 3 1.1 6-0.2 3-4.2 9-0.8 3 0.4 3 2.3 6 0.4 3-0.9 6-3 12 0.5 3 2.9 6 0.3 3-3.4 16.5 1 3 4.3 6 1.4 3-0.1 1.5-2 1.5-9 0.5-6-1.1-6-0.3-4-2.1-2-3-0.2-3 2.2-4.5 0.7-3-2-15 2.1-10.5-0.3-3-3-10.5 0-13.5-0.9-6-6.3-19.5-3.8-9-5.7-9-8.4-10.5-10.5-15-1.2-3z"/>
<path fill="#f2625d" d="M106.5 362l2.5-0.8 4.5-0.2 12 2.3 8.5 0.2 5 1.1 14.7 6.4 1.9 1.5 2.6 4.5 4 12 1.9 9-2.1 10.5-0.3 9-4 9-0.7 3 0 3 2.4 7.5 0.4 3-0.7 6-2.9 9-0.4 3 0.5 3 2.5 6 0.4 3-0.3 4.5-2.3 10.5 0.9 3 6.2 7.5 0.5 1.5-0.7 1.5-8 1-6-1.4-6 0-2.2-1.1-2.1-3 0.3-3 3.5-6 0.1-3-1.4-7.5-0.2-4.5 2.3-12-4.1-13.5 0.1-13.5-0.7-4.5-8.2-22.5-3.4-7.5-5.7-9-9.4-12-7.1-12-0.3-3z"/>
<path fill="#f66c5c" d="M111.5 363.5l5-0.5 9 1.2 7.5 0 4.5 0.9 6.8 2.9 8.2 4.5 2.7 3 1.5 3 4 13.5 0.8 7.5-3.2 18-5.1 10.5-0.8 3 0.5 4.5 2.9 7.5 0.3 4.5-1.9 6-3.2 3.8-1.5 0.4-1.5-0.5-3-3.5-1.5-3.2-0.9-6 1.5-10.5-1-4.5-14.9-31.5-6-9-7.2-9-2.7-4.5-2.7-6-0.7-3 0.5-1.5zM149.5 468.9l1.5 0.2 2.5 2.4 1.2 3 0.3 3-1 4.5-3 5.2-1.5 0.8-1.5-1.7-1.5-3.3-1.1-5.5 1.1-5.7 1.5-2zM148 491.5l1.4 1 0.3 1.5-0.7 3-1.2 1.5-2.8 1.1-2.6-1.1-0.7-1.5 0.3-1.7 1.5-1.6zM151.9 495.5l2.1-0.9 3 0.9 3 2.7 0 1.8-3 0.8-3.8-0.8-1.3-1.5z"/>
<path fill="#f9785d" d="M113.5 366.2l1.5-0.8 3-0.5 13.5-0.1 4.5 0.7 5.7 2.5 7.8 4.5 4.3 4.5 2 4.5 2.2 7.5 1.1 6 0.1 4.5-3.9 16.5-2.8 5.3-3 2.7-3 0.2-1.5-0.9-3-3.4-4.5-7.1-8.6-16.3-13.2-18-3.2-7.5-0.1-3zM149.5 445.3l1.6 2.2-0.4 1.5-1.2 0.9-1.2-0.9-0.4-1.5 0.5-1.5z"/>
<path fill="#fb835f" d="M116.5 367.7l2.7-1.2 10.8-1 4.5 0.5 4.5 1.8 9.9 6.2 2.7 3 1.6 3 2.1 6 1.6 7.5 0.3 4.5-0.9 6-2.3 6.7-2 3.8-2.5 2.7-1.5 0.5-3-0.8-4.5-4.2-3-4-8-13.7-11.1-15-2.5-4.5-0.9-3 0.2-3z"/>
<path fill="#fc8c63" d="M119.5 368.4l3-1.1 4.5-0.9 4.5-0.1 3 0.6 2.7 1.1 7.2 4.5 5.1 4.5 1.8 3 1.7 4.5 2.2 12-0.3 4.5-0.9 3.3-1.5 3.2-3 3.5-3 1-3-0.9-3-2.3-3-3.7-5.3-8.6-13.9-19.5-1-3 0.1-3z"/>
<path fill="#fd9869" d="M121.1 369.5l2.9-1.5 3-0.7 6 0 4.7 2.2 6.5 4.5 3.2 3 2 3 1.8 4.5 2 10.5-0.7 6.9-1.5 3.1-1.5 1.7-1.5 1-3 0.3-3-1.3-3-2.8-18.1-25.4-1.3-3-0.3-3z"/>
<path fill="#fea36f" d="M123.8 369.5l4.7-1.6 4.5 0.3 2.8 1.3 6.2 4.6 4.7 4.4 2.7 6 1.8 10.5-0.1 3-0.7 3-2.4 3.1-3 0.8-3-1.2-3-3.1-9.1-11.6-7.2-10.5-1.2-3 0-3 0.7-1.5z"/>
<path fill="#feae77" d="M125.5 370.1l1.5-0.8 3-0.5 3.5 0.7 8.5 6.3 3.8 4.2 2.3 6 0.8 7.5-0.3 4.5-0.6 1.8-1.5 1.5-1.5 0.4-3-1.2-4.5-4.4-7.1-8.6-5.8-9-1.2-3 0.1-3z"/>
<path fill="#feb97f" d="M126.8 371l3.2-1.1 3 0.7 8.2 6.4 2.8 3 2 4.5 0.8 4.5-0.3 5.4-1.5 2.8-1.5 0.3-1.5-0.4-3-1.9-7.1-7.7-6.4-11.6 0.1-3.4z"/>
<path fill="#fec488" d="M128.5 372.3l1.5-0.6 3 0.8 9.1 7.5 1.8 3 1 4.5-0.1 3-1.3 3-1.5 0.6-3-1.1-5.5-5.5-5.4-10.5-0.5-3z"/>
<path fill="#fecd90" d="M131.5 376.6l1.5-0.6 6 3.4 2.1 2.1 1.7 4.5-0.1 3-0.7 1.5-1.5 0.6-1.5-0.5-4.5-4.2-1.6-3.4z"/>
<path fill="#fed89a" d="M136 381.4l1.5 0 1.9 1.6 0.7 3-1.1 1.2-1.5-0.6-1.5-1.7-0.5-1.9z"/>
</g>
<path d="M37.1 330.8 38.7 342.5 40.4 359.3 42.9 376.1 47.1 392.9 52.1 404.6 58.8 413 65.5 418.8 70.5 422 84 427.9 97.4 432.4 109.1 434.6 117.5 437.4 130.9 437.6 137.6 439.3 143 439.8M158.3 442.1 176.7 442.1 183.4 444.6 250.5 444.6" stroke="#ffffff" class="ct"/>
<path d="M94 371.9 87.3 366 78.9 357.6 68.9 345.9 60.5 334.2 53.8 324.1 49.6 316.5 57.1 314 62.2 319.1 68 325.8 70.5 330.8 80.6 335.8 90.7 340 99 344.2 109.1 348.4 120.9 350.9 130.9 351.8 137.6 354.3 144 353.2 154.1 356 164.1 358.5 170.8 362.3 177.5 361.8 181.7 367.7 185.9 374.4 188.4 379.4 189.3 386.1 192.6 392 187.3 400.4 191 407.1 186.8 413.8 189.3 422 190.1 428.7 186.8 438.8 189.3 452.2 185.1 467.3 189.3 482.4 185.1 497.5 187.6 505 165.8 507.5 154.1 507.5 144 506.3 135.9 505 130.9 500 123.4 497.5 123.9 489.1 124.5 475.7 123.4 463.9 124.2 452.2 122.5 442.1 122.9 430.4 120 422 118.3 411.3 115 401.2 110.8 392.9 105.8 386.1 99.9 380.3" stroke="#fff200" class="ct"/>
<path d="M106.6 373.6 103.2 370.2 98.2 364.3 95.7 359.3 100.7 357.6 110.8 357.6 119.2 359.3 127.6 362.7 135.9 362.3 144 364.3 150.7 366.9 157.4 368.5 160.8 374.4 164.1 382.8 167.5 392.9 170.5 399.6 165.8 407.9 168.8 414.7 166.6 422 162.4 429.5 166.6 438.8 165 447.2 161.6 459.7 166.6 469 161.6 489.1 166.6 497.5 165.8 505 154.1 505 144 504 141 502.5 135.9 497.5 138.5 489.1 135.9 470.6 138.5 459.7 135.1 447.2 135.1 432.1 132.6 422 130.9 416.3 128.4 407.9 125 399.6 120.9 392.9 115.8 386.1 110.8 380.3" stroke="#ffa500" class="ct"/>
<path d="M76.9 309.3 82.3 322.4 89 337.5 95.7 347.6 104.1 357.6 110.8 364.3 115.8 368.5 124.2 369.7 130.9 373.6 137.6 376.9 144 377.4 148.2 378.6M165 382 170.8 384.8 189.3 385 197.7 387 211.1 388.2 250.5 388.3" stroke="#ffffff" class="ct"/>
<path d="M128.4 381.9 125.9 379.4 124.2 375.2 128.4 368.5 132.6 369 137.6 373.6 144 378.5 146.5 383.6 147.7 391.2 147 399.6 144 400.7 141 397.9 135.9 392.9 132.6 389.5" stroke="#ff0000" class="ct"/>
<path d="M135.9 309.3 144 317.4 150.7 325.8 156.6 332.5 163.3 332.8 170 339.5 175 340M190.1 347.2 209.4 347.9 216.1 350.9 223.7 351.3 230.4 354.6 250.5 354.8" stroke="#ffffff" class="ct"/>
<text x="97.4" y="377.9" font-size="6.36" text-anchor="middle" fill="#fff200" textLength="3.8" lengthAdjust="spacingAndGlyphs" transform="rotate(55 97.4 375.7)">3</text>
<text x="108.3" y="379" font-size="6.36" text-anchor="middle" fill="#ffa500" textLength="3.8" lengthAdjust="spacingAndGlyphs" transform="rotate(48 108.3 376.8)">2</text>
<text x="130.3" y="387.2" font-size="6.36" text-anchor="middle" fill="#ff0000" textLength="3.8" lengthAdjust="spacingAndGlyphs" transform="rotate(45 130.3 385)">1</text>
<text x="184" y="342.7" font-size="6.36" text-anchor="middle" fill="#ffffff" textLength="13.4" lengthAdjust="spacingAndGlyphs" transform="rotate(17 184 340.5)">0.25</text>
<text x="157" y="382.5" font-size="6.36" text-anchor="middle" fill="#ffffff" textLength="13.4" lengthAdjust="spacingAndGlyphs" transform="rotate(8 157 380.3)">0.50</text>
<text x="150.5" y="442.5" font-size="6.36" text-anchor="middle" fill="#ffffff" textLength="13.4" lengthAdjust="spacingAndGlyphs" transform="rotate(5 150.5 440.3)">2.00</text>
<path d="M132.9 384.8h8.4M137.1 380.6v8.4" stroke="#000" stroke-width="1.1" fill="none"/>
</g>
<rect x="37" y="309.5" width="213.3" height="226" class="fr"/>
<text x="37" y="546.4" font-size="8.46" text-anchor="middle" fill="#1a1a1a" textLength="14.5" lengthAdjust="spacingAndGlyphs">200</text>
<text x="63.7" y="546.4" font-size="8.46" text-anchor="middle" fill="#1a1a1a" textLength="14.5" lengthAdjust="spacingAndGlyphs">300</text>
<text x="90.3" y="546.4" font-size="8.46" text-anchor="middle" fill="#1a1a1a" textLength="14.5" lengthAdjust="spacingAndGlyphs">400</text>
<text x="117" y="546.4" font-size="8.46" text-anchor="middle" fill="#1a1a1a" textLength="14.5" lengthAdjust="spacingAndGlyphs">500</text>
<text x="143.7" y="546.4" font-size="8.46" text-anchor="middle" fill="#1a1a1a" textLength="14.5" lengthAdjust="spacingAndGlyphs">600</text>
<text x="170.3" y="546.4" font-size="8.46" text-anchor="middle" fill="#1a1a1a" textLength="14.5" lengthAdjust="spacingAndGlyphs">700</text>
<text x="197" y="546.4" font-size="8.46" text-anchor="middle" fill="#1a1a1a" textLength="14.5" lengthAdjust="spacingAndGlyphs">800</text>
<text x="223.6" y="546.4" font-size="8.46" text-anchor="middle" fill="#1a1a1a" textLength="14.5" lengthAdjust="spacingAndGlyphs">900</text>
<text x="250.3" y="546.4" font-size="8.46" text-anchor="middle" fill="#1a1a1a" textLength="19.3" lengthAdjust="spacingAndGlyphs">1000</text>
<text x="31.1" y="538.5" font-size="8.46" text-anchor="end" fill="#1a1a1a" textLength="9.5" lengthAdjust="spacingAndGlyphs">14</text>
<text x="31.1" y="493.2" font-size="8.46" text-anchor="end" fill="#1a1a1a" textLength="9.5" lengthAdjust="spacingAndGlyphs">15</text>
<text x="31.1" y="448.1" font-size="8.46" text-anchor="end" fill="#1a1a1a" textLength="9.5" lengthAdjust="spacingAndGlyphs">16</text>
<text x="31.1" y="402.8" font-size="8.46" text-anchor="end" fill="#1a1a1a" textLength="9.5" lengthAdjust="spacingAndGlyphs">17</text>
<text x="31.1" y="357.6" font-size="8.46" text-anchor="end" fill="#1a1a1a" textLength="9.5" lengthAdjust="spacingAndGlyphs">18</text>
<text x="31.1" y="312.4" font-size="8.46" text-anchor="end" fill="#1a1a1a" textLength="9.5" lengthAdjust="spacingAndGlyphs">19</text>
<rect x="263.9" y="309.5" width="11.2" height="226" class="cb"/>
<text x="279.4" y="495.4" font-size="6.47" text-anchor="start" fill="#1a1a1a" textLength="8.9" lengthAdjust="spacingAndGlyphs">0.2</text>
<text x="279.4" y="449.3" font-size="6.47" text-anchor="start" fill="#1a1a1a" textLength="8.9" lengthAdjust="spacingAndGlyphs">0.4</text>
<text x="279.4" y="403.3" font-size="6.47" text-anchor="start" fill="#1a1a1a" textLength="8.9" lengthAdjust="spacingAndGlyphs">0.6</text>
<text x="279.4" y="357.2" font-size="6.47" text-anchor="start" fill="#1a1a1a" textLength="8.9" lengthAdjust="spacingAndGlyphs">0.8</text>
<text x="279.4" y="311.1" font-size="6.47" text-anchor="start" fill="#1a1a1a" textLength="8.9" lengthAdjust="spacingAndGlyphs">1.0</text>
<path d="M37 535.5v2.6M63.7 535.5v2.6M90.3 535.5v2.6M117 535.5v2.6M143.7 535.5v2.6M170.3 535.5v2.6M197 535.5v2.6M223.6 535.5v2.6M250.3 535.5v2.6M37 535.5h-2.6M37 490.3h-2.6M37 445.1h-2.6M37 399.9h-2.6M37 354.7h-2.6M37 309.5h-2.6M275.1 493.8h1.7M275.1 447.7h1.7M275.1 401.7h1.7M275.1 355.6h1.7M275.1 309.5h1.7" class="tk"/>
<text x="143.7" y="563.5" font-size="10.60" text-anchor="middle" fill="#1a1a1a" textLength="80.9" lengthAdjust="spacingAndGlyphs">Temperature [K]</text>
<text x="10.4" y="436.1" font-size="10.60" fill="#1a1a1a" text-anchor="middle" textLength="76.7" lengthAdjust="spacingAndGlyphs" transform="rotate(-90 10.4 436.1)">log<tspan font-size="7.4" dy="2">10</tspan><tspan dy="-2">(N [cm</tspan><tspan font-size="7.4" dy="-3.8">−2</tspan><tspan dy="3.8">])</tspan></text>
<text x="300.5" y="422.5" font-size="10.60" fill="#1a1a1a" text-anchor="middle" textLength="28.5" lengthAdjust="spacingAndGlyphs" transform="rotate(-90 300.5 422.5)">χ<tspan font-size="6.6" dy="-4">2</tspan><tspan font-size="6.6" dy="6.8" dx="-3.8">min</tspan><tspan dy="-2.8">/χ</tspan><tspan font-size="6.6" dy="-4">2</tspan></text>
<text x="154.2" y="590.3" class="cap" text-anchor="middle" textLength="49.6" lengthAdjust="spacingAndGlyphs">(c) HCN</text>
</g>
<!-- panel d -->
<g>
<clipPath id="cld"><rect x="377.4" y="309.5" width="207.8" height="226"/></clipPath>
<g clip-path="url(#cld)"><g filter="url(#bl)">
<rect x="372.9" y="305" width="216.8" height="235" fill="#010106"/>
<path fill="#030312" d="M378.2 305l188.8 0 11.4 6.6 6 5.3 6 7.4 0 216.2-206.5 0 0.6-7.5 2.9-13.5 0.5-7.5-4.7-39 0.5-4.5 3.4-13.5 0.7-9-0.9-4.5-5.4-10.5-1.1-6 0.6-10.5 1.6-6 2.3-5.4 0.2-2.1-3.6-7.5-1.3-9-0.6-30-1.5-25.5z"/>
<path fill="#08071e" d="M378.9 305l123.1 0 1.4 3.9 3 4.8 12 14.3 7.5 5.9 15 8.3 4.5 4 3.7 5.3 8.1 15 6.2 7.1 5 3.4 5.5 2.2 7.5 1.6 9 1.2 0 158.5-198.7 0 0.8-6 3.7-12 0.5-6-0.8-6-3.9-16.5-2.8-21 1.4-24-0.4-6-1-3-5.2-9-1.3-6-0.1-4.5 0.8-6 1.2-4.5 3.2-7.5 0.1-1.5-4.7-9-1.5-7.5-1.2-31.5-1.6-24z"/>
<path fill="#0e0b2b" d="M379.6 305l108.6 0 9.3 25.5 3.9 18 2 4.1 3 3.3 5.1 3.1 12.9 5 6 3 6 4.3 14.1 11.7 9.8 6 9.1 2.5 21 2.4 0 146.6-188.9 0 4.3-13.5 0.5-7.5-2.2-9-5.5-13.5-2.2-9-3.3-27-0.3-15-0.5-4.5-1.3-3-4.5-7.5-1.6-6-0.2-4.5 0.7-6 4-12 0.1-1.5-5.1-10.5-1.5-7.5-3.1-54z"/>
<path fill="#150e38" d="M380.2 305l94.4 0 3.7 7.5 6.5 22.5 1 6 0.2 10.5 1 4.5 3.3 6 4.2 4.5 4.3 3 4.6 2.1 15 3.9 6 2.2 24 14.3 9.2 4.5 7.3 1.9 25.5 3.3 0 138.8-180.5 0 4.1-13.5 0.1-6-3.7-10.5-6.9-15-2.2-6-1.6-7.5-1.3-11.9-2.7-10.6-1.5-18-1.1-3-4.9-9-1.2-4.5-0.3-4.5 0.5-6 3-10.5 0.4-3-0.9-3-3.8-7.5-1.8-9-3.5-52.5z"/>
<path fill="#1d1147" d="M380.9 305l61.9 0 1.9 7.5 4.7 8.2 17.5 23.3 8 13.5 4.3 6 6.2 7 6 5 9 4.8 16.5 4.4 6 2.1 23.7 11.2 9.3 3.7 6 1.5 28.5 5 0 132.3-173.8 0 3.9-13.5 0-4.5-1-3-14.9-31.5-1.6-6-1.9-12-3.4-12-2.3-18-5.1-10.5-1.3-4.5-0.5-4.5 0.3-6 2.6-13.5-0.5-2.4-4.2-9.6-1.5-9-3.9-52.5z"/>
<path fill="#241253" d="M381.5 305l55.5 0 1 6 2.4 6.3 7.5 13.8 9 14.3 7.6 10.6 7.3 9 10.1 10.5 7.2 6 5.3 3.2 6 2.6 19.5 5.9 30 11.3 9 2.5 31.5 6.8 0 126.7-168 0 2.9-12 0.1-6-1.2-3-7-12-10-21-4.3-18-3.1-10.5-3-18-4.6-10.5-1.6-6-0.3-9 1.9-13.5-4.2-12-1.8-10.5-4.1-51z"/>
<path fill="#2d1161" d="M382.1 305l51.1 0 1.2 7.5 3 7.4 9 17.8 7.5 12.3 7.5 10.4 5.3 6.1 12.7 12.9 7.5 6.4 6 3.7 6 2.7 42 14.1 49.5 12.7 0 121.5-163.1 0 1.8-12 0-4.5-0.6-3-8.2-13.5-10.9-22.5-7.7-27-3.6-18-4.6-12-1.2-4.5-0.6-10.5 1.2-12-4.2-13.5-1.6-10.5-4.1-49.5z"/>
<path fill="#38106c" d="M382.8 305l47.4 0 1.2 7.5 3 7.9 9 19.1 7.5 12.9 6 8.6 5.9 7 15.1 15.2 7.5 6.4 6 3.8 6 2.8 31 10.8 17 5 21 4.6 24 7 0 116.9-158.8 0 0.7-12-1.2-7.5-8.1-13.5-11.6-24-7.9-25.5-4.1-18-5.4-16.5-1-10.5 0.6-12-3.5-12-1.9-12-4.5-51z"/>
<path fill="#420f75" d="M383.4 305l44.5 0 1.1 7.5 3.9 10.6 9 19.9 7.6 13 7.4 10.3 4.3 4.7 18.2 17.9 9 6.7 10.5 5.1 27 9.9 18 5.3 15 2.7 31.5 9.4 0 112.5-155 0-0.3-12-1.7-7.5-8.6-15-11.7-24-7.9-24-4.6-18-5.1-16.5-1.4-12 0.2-10.5-3.5-13.5-1.9-13.5-5.3-58.5z"/>
<path fill="#4c117a" d="M384.1 305l41.8 0 1.5 9 6.8 18 6.2 13.8 7.5 12.7 6 8.5 4.5 5.1 18.6 18.4 9.9 7.7 10.5 5.4 24 9.6 22.5 7 13.5 1.9 7.5 2.9 21 5.9 4.5 2 0 107.6-151.4 0-0.9-10.5-1.9-7.5-2-4.5-7-12-12.4-25.5-7.9-22.5-9.5-33-2.1-13.5-0.3-10.5-2.9-12-2.2-15-5.7-60z"/>
<path fill="#54137d" d="M384.8 305l39.3 0 1.5 9 5.8 16.6 7.5 17.2 7.4 12.7 6.4 9 4 4.5 18.2 18 10.5 8.3 10.5 5.8 24 10.4 25.5 8.4 10.5 1.2 7.5 3.8 7.5 1.7 6 2.8 6.1 1.1 2.9 1.5 1.7 3 0.5 3-1 18 1.8 12.6 1.5 4.7 0 62.2-147.8 0-1.5-10.5-2.4-7.5-8.8-15.9-10.9-21.6-6.3-15-5.5-16.5-8.3-28.5-2.7-15-0.6-9-2.5-12-2.3-15-6.1-61.5z"/>
<path fill="#5d177f" d="M385.5 305l37.1 0 1.9 10.5 5.4 16.4 7.1 16.6 6.4 11.5 6.5 9.5 4 4.8 19.3 19.2 9.1 7.5 10.6 6.5 24 11.3 25.5 9.3 12 2.9 7.5 3.5 7.5 2.6 9.6 5.9 2 3 0.8 3 1.8 15 6.1 28.5 0.7 8.8 0 39.2-144.1 0-1.6-9-2.5-7.5-10.8-19.2-11.6-22.8-5.2-12-5.7-16.2-7.1-22.8-4.5-21-0.7-7.5-4.6-27-6.6-63z"/>
<path fill="#671b80" d="M386.3 305l34.9 0 1.5 9 4.2 14.4 7.4 18.6 4.6 9 6 9.9 6 8.1 20.7 21 10.8 8.7 13.5 8.1 22.5 10.9 22.5 8.8 12 3.9 10.6 4.6 5.9 3.1 5.1 4.4 1.9 3 1.6 4.5 8.6 34.5 1.2 18-0.2 10.5 0.9 4.5 1.9 3.5 0 14.5-140.6 0-1.7-9-2.8-7.5-11.6-19.5-11.6-22.5-5.7-12.4-5.4-14.6-7.3-22.5-5.3-22.8-5.5-34.2-6.7-63z"/>
<path fill="#701f81" d="M387 305l33 0 2.4 13.1 3.2 10.9 6.3 16.5 5.5 11.4 6 10.1 5.1 7 18.9 19.8 12 10.3 13.5 8.8 24 12.4 43.5 18 6 3.5 4.2 3.7 3 4.5 1.8 4.3 8.7 28.7 0.9 6 0.7 12-0.5 13.5 2.2 7.8 3 5.7 0 7.5-137.3 0-1.9-9-3.4-9-11.9-18.8-12-22.6-6-12.7-6-15.6-6.8-20.3-5.8-24-5.4-33-7-63z"/>
<path fill="#792282" d="M387.8 305l31 0 2.5 13.5 4.1 14.1 6 15.5 7.5 14.8 6 9.4 6 7.3 13.4 13.9 9.1 8.4 15 10.9 19.5 11.1 10.5 5.2 39 17.4 6 3.4 4.5 4 3 4.1 2.1 4.5 9.3 27 1.6 18-0.8 13.5 6.1 19.5-133.2 0-2-9-3.9-10.5-2.5-4.5-10.3-15-11.4-21-6.5-13.4-6-14.9-7.2-21.2-7.9-33-3.5-22.5-7.1-63z"/>
<path fill="#832681" d="M388.6 305l29 0 3 15 3.3 12 6 16 6 12.6 6 10.3 6 7.9 12 13 10.5 10 16.5 12.7 18 10.7 10.5 5.7 42 20.1 4.5 2.8 4.5 4.2 4.5 7.5 8.4 21 1.3 4.5 1.5 16.5-1 13.5 4.8 19.5-127.3 0-1.6-7.5-4.6-13.2-3.6-6.3-9.7-13.5-13.7-25-9-19.6-9-25.7-8.4-33.2-3.3-21-7.3-63z"/>
<path fill="#8b2981" d="M389.4 305l27.1 0 3 15 3.8 13.5 5.1 14.2 7.5 15.8 5.2 9 6.8 8.9 10.5 11.5 9.9 9.6 17.1 13.5 19.5 12.2 37.5 20.2 15 7.3 4.5 3 3 3.1 3.3 5.2 4.4 10.5 4.5 9 1.5 4.5 1 6 0.8 10.5-1 13.5 3.5 19.5-122 0-1.1-6-5.9-17-4-7-9-12-11-19.3-6-11.6-7.5-16.7-9-25.9-7.2-28.5-3.8-22.5-7.2-61.5z"/>
<path fill="#942c80" d="M390.3 305l25.2 0 3.5 16.5 3.4 12.7 4.5 12.9 7.5 16.3 4.9 9.1 7.1 9.6 10.5 11.9 9 8.9 16.5 13.6 6 4.2 18 11.5 19.6 10.8 17.9 10.9 13.5 6.5 3 2 2.9 3.1 2.7 4.5 4 9 4.6 7.5 2.3 6 1.7 15-0.8 13.5 2.1 19.5-116.9 0-1.2-6-6.4-18.8-3.7-6.7-8.9-12-11.4-19.4-7.1-13.6-6.4-13.9-9.5-26.6-7-27-4.1-22.5-7.3-61.5z"/>
<path fill="#9e2f7f" d="M391.1 305l23.4 0 3.5 16.5 3.7 13.5 4.6 13.5 6.6 14.7 5.7 10.8 6.3 8.7 10.5 12.3 9 9.1 16.5 14 6 4.4 18 11.9 21 12.2 19.5 13.9 3 1.6 7.5 2.5 4.5 3.4 2.2 3.5 3.6 9 6.4 7.5 2.7 7.5 1.4 13.5-0.6 10.5 0.4 21-111.7 0-0.7-4.5-5.2-16.5-3.5-8.3-3-5.2-6.9-9-11.7-19.5-8.1-15-6.4-13.5-10-27-7.1-27-3.9-21-7.5-61.5z"/>
<path fill="#a8327d" d="M392 305l21.5 0 7.4 30.5 4.3 13 6.2 14.2 7.5 14.2 7.5 10.2 10.5 12.2 9 8.8 16.5 14.1 21 14.3 11.4 6.5 9.6 6.3 10.8 8.7 10.2 10.2 3 1.4 6 1.3 2.4 2.1 1.2 3 0.6 7.5 1.4 3 1.9 1.2 4.5 0.6 3 1.4 1.9 2.8 1.6 4.5 1.3 9 0.3 6-0.4 13.5-1.5 15-106.2 0-0.7-4.5-5.6-18-3.7-9-2.5-4.5-5.5-7.5-6-10.5-6.5-9.8-8.8-15.7-6.6-13.5-9.8-25.5-7.3-27-4.4-22.5-7.5-60z"/>
<path fill="#b2357b" d="M392.8 305l19.8 0 4.1 18 4.9 18 2.6 7.5 5.7 13.4 7.5 15.1 7.5 10.7 9.7 11.8 8.9 9 17.4 15.5 21 14.5 14.7 9 8.1 6 9.2 9 7 9.5 7.3 8.5 4.4 7.5 2.5 3 3.8 2.5 6 1.5 3 1.9 1.5 2.7 1.2 4.9 0.6 9-1 10.5-2.2 9-1 7.5-99.1 0-0.8-4.5-5.7-18.8-4.4-11.2-12.5-21-8.6-12.6-6.5-11.4-8.5-16.9-9.3-23.6-7-25.5-4.6-22.5-7.7-60z"/>
<path fill="#ba3878" d="M393.7 305l17.9 0 9.3 36.8 7.5 19.2 5.2 11.5 3.8 6.9 6 8.7 9 11.6 9 9.3 18 16.7 38.6 26.3 6.9 6 6.5 7.5 8 13.2 9 13.3 9.8 12.5 0.4 1.5-0.4 1.5-3.8 4.9-2.1 4.1-1 6 1.4 6 4.1 7.5 1.3 4.5-88.8 0-0.8-4.5-5.9-19.5-4.2-11.5-10.9-20-10.1-14.2-5.8-9.8-10.2-19.5-8.4-21-5.7-19.5-6.4-28.5-7.7-58.5-0.2-4.5z"/>
<path fill="#c43c75" d="M394.7 305l15.9 0 2.3 7.5 7.3 30 8.2 21 7.5 15.8 6 9.1 9 12 7.5 8.1 19.5 18.9 37.4 26.1 6.7 6 6.1 7.5 15.5 27 3.3 7.5 0.5 6-2 10.9-0.3 7.1 1.1 6 3 9-78.6 0-0.8-4.5-6.3-21-5.1-14.2-7.8-15.8-14.3-19.5-11.7-21-6.3-13.5-4.5-12-5.5-18-6.6-30-7.8-57-0.1-4.5z"/>
<path fill="#cd4071" d="M395.6 305l14 0 2.6 7.5 7.5 31.5 10.1 25.5 6.9 13.5 12.7 18.1 6 6.7 21 21.2 36.4 26 7.7 7.5 5.5 7.5 12.5 24 2.8 7.5 0.3 6-1.4 12-0.1 6 0.8 7.4 2 7.6-70.9 0-9.8-34.5-7.1-18-4.5-7.5-10.2-12.4-4.7-7.1-12.6-22.5-5.3-12-3.7-10.5-4.7-15-6.7-30-8.1-57 0-4.5z"/>
<path fill="#d6456c" d="M396.6 305l12 0 2.8 7.5 7.3 31.5 9.7 24.8 7.5 15.3 12 17.4 4.6 5.5 22.4 23.3 4.5 3.8 8.8 5.9 9.2 7.4 12.9 9.1 7.5 7.5 5.3 7.5 10.8 22.5 2.5 7.5 0.5 6-1.2 16.5 0.7 7.5 1.6 9-64.7 0-10.4-37.4-5.8-16.6-4.7-7.5-12.8-15-7.6-13.5-6.6-10.4-6.9-15.1-6.7-19.5-7.5-31.5-4.5-28.5-2.4-19.5-2.1-12 0.1-4.5z"/>
<path fill="#df4a68" d="M397.8 305l9.7 0 3.1 7.5 7.2 31.5 10.4 27 6.5 13.5 13.2 19.3 27 29.1 11.9 8.6 9.1 7.9 12 8.7 7.2 7.4 5.2 7.5 8.7 19.5 3 9 0.7 7.5-1 13.5 2.3 18-59.4 0-14.8-54-4.6-7.5-14.7-16.5-6.6-12-7.1-10.5-7.1-15-6.9-19.5-7.7-33-4.6-28.5-2.4-19.5-1.9-9-0.2-4.5z"/>
<path fill="#e75263" d="M399.1 305l7.1 0 2.5 4.5 6.1 24 2 10.5 9.7 25.5 6.9 15 13 19.4 28.5 31.4 10.7 7.7 8.8 8.4 12.6 9.6 5.4 6.1 5.1 7.4 4.1 9 6.7 19.5 0.6 6-1 13.5 2.4 18-54.3 0-5.8-19.5-6.5-30-2-6-5.2-7.5-14.6-15.6-7.2-12.9-7.4-10.5-6.5-13.5-7-19.5-7.6-33-4.5-27-2.7-21-2.3-10.5 0.3-4.5z"/>
<path fill="#ec5860" d="M400.9 305l3.5 0 2.5 3 1.6 3 5.4 22.5 1.9 10.5 10.2 27 7.8 16.5 13.4 19.5 11.4 12 13.3 15.5 4.5 4.3 9 6.4 9 9.7 9 6.4 7.5 9.2 4.5 7 8.1 22.5 1.5 6 0.3 4.5-1 12 2 12 0.3 6-49.2 0-6.4-21-2.7-13.5-2.5-16.5-1.6-4.5-5.3-7.5-15.9-16.5-7.1-12.5-7.3-10-6.6-13.5-7.7-21-6.7-30-4.7-27-2.7-21-2.7-12 0.4-4.5z"/>
<path fill="#f2625d" d="M401.4 306.5l1.5-0.3 1.5 0.6 1.5 1.4 1.7 2.8 2 10.5 3.7 13.5 1.5 9 2.6 6 2.7 9 4.2 10.5 8.2 18 14.5 21 10 10.5 16.4 19.3 10.5 7.9 9 11.1 7.7 5.2 11.7 16.5 9.4 28.5 0.2 4.5-1.1 10.5 2.1 12 0 6-44.1 0-5.3-16.5-1.9-7.5-2-12-1.1-15-0.9-3-2.8-4.5-3.7-4.5-16.4-16.5-3.1-4.5-4.8-9-6.9-9-6.9-13.5-7.3-19.5-6.8-30-1.7-12-3.2-15-2.9-24-2.8-10.5 0.5-4.5 1.1-1.8z"/>
<path fill="#f66c5c" d="M401.4 307.8l1.5-0.3 1.5 0.6 2.2 2.9 0.9 3 0.8 7.5 3.6 12.2 1.3 8.8 3.4 7.5 2.7 10.5 11.8 27 13.8 20.1 12 12.9 13.5 16.5 4.5 4.5 7.9 6 8.6 12.4 6 3.6 1.5 1.6 3.7 7.9 6.1 7.5 6.1 19.5 3.4 9 0.1 4.5-1.9 9 0.3 3 2.5 9-0.5 6-38.3 0-5.6-16.5-2.4-10.5-1.2-10.5 0.7-15-0.6-1.5-11-12-12.5-12-3.8-4.5-5.9-10.5-6.7-8.6-3-4.9-4.9-10.5-6.8-18-5-21-1.8-9-1.3-12-3.6-15-2.5-24-3.3-10.5 0-3 0.7-1.7zM485.5 491l0.4 1.5 1.7 0 0-1.5zM495.9 508.6l-1.5 1.3 0.3 2.1 3.9 9 1.8 0.8 1.5-0.9 2-2.9 0.6-3-0.3-1.5-2.1-3-1.7-1.1-3-0.9z"/>
<path fill="#f9785d" d="M401.4 309.2l1.5-0.4 1.5 0.6 1.5 2.5 0.5 3.6-0.3 7.5 4.3 10.9 0.8 7.1 4.5 9 1.4 9 1.1 3 7.7 15 3.9 10.5 7.6 10.3 7.5 11.4 10.7 11.3 16.3 20.1 10.1 8.4 7.9 12.9 6.1 5.1 1.3 3 2.9 12 4.7 4.6 4.3 7.4 1 3 1.2 7.5 0.2 4.5-0.7 1.4-7.4-2.9-6.1-1.4-3 0.5-1.5 0.9-0.8 1.5 0.1 1.5 3 6 0.8 6 2.9 5.3 1.5 1.1 1.5-0.6 3-2.8 1.5-0.5 3 1.7 4.4 4.8 0.7 3-0.3 1.5-1.8 2.5-1.5 0.8-1.5 0.2-6-2.2-1.1 3.2-20.2 0-5.5-15-2-7.5-1.6-12 0.5-7.5 1.4-4 1.5-1.4 3 0.1 6 2.3 2.6 0 3.4-1.5 2.4-3 0.4-1.5-0.6-1.5-3.7-0.9-9-0.1-9-3.5-3-2.2-22.5-22.1-2.9-4.2-4.1-7.5-8-10.3-3.5-6.2-10.4-25.5-5-21-1.5-9-0.7-12-2.9-8.5-1.5-6.5 0.2-7.5-0.9-7.5-0.1-10.5-3.7-5.8-1.2-3.2 0.1-3z"/>
<path fill="#fb835f" d="M402.9 310.4l1.8 2.1-0.3 3.2-1.5 0.2-1.5-2.6 0.5-2.3zM408.9 343.1l1.5 0.6 1.5 1.6 2.8 4.7 0.6 3-0.6 7.5 0.3 1.5 9.9 15 2.9 9 1.5 3 7.2 9 7.8 12 11.3 12 14.8 18.7 10.7 9.8 7.3 12.5 4.9 5.5 1.7 4.5 0.3 4.5-0.9 3.3-2.5 2.7-5 1.7-4.5 0.3-9-3.2-3-1.7-22.5-21.5-3.1-4.1-5.2-9-8.2-10.5-5.2-10.5-6.2-15-2.4-7.5-1.8-10.5-2.4-7.5-1.3-7.5 1.1-15-4.3-6.3-2-5.7 0.3-4.5zM503.4 492.8l1.6 1.2 1.9 3 0.6 3-0.9 3-1.7 1.1-9 0-3.7 1.9-1.4 1.5-0.5 1.5 0.4 1.5 2.8 4.5 1 9 4.2 9 0.3 3-0.5 4.5-14.5 0-4.6-11.3-3.4-11.2-1.2-12 1-6 2.1-2.7 1.5-0.5 9 0 5.1-1.3 5.4-3 3-0.3z"/>
<path fill="#fc8c63" d="M408.9 346.2l1.5-0.2 1.5 1.1 1.8 2.9 0 4.5-0.3 0.8-1.5 0.8-1.5-0.8-2.2-3.8-0.3-3zM414.9 370l1.5-0.8 1.5 0.5 3 2.8 3.8 6 3.1 10.5 8.1 9.7 6 9.8 12.5 13.5 16 20.4 7.5 6.9 3 3.6 6 10.7 5.3 7.9 0.7 3-0.2 3-1.3 3-1.5 1.5-3 1.6-4.5 0.6-7.5-2.7-4.5-2.6-22-20.9-3.3-4.5-4.3-7.5-8.4-10.5-5.2-10.5-6.4-15-2-6-1.7-12-2.8-7.5-1.1-4.5 0.1-6zM480.9 498.9l9-1 7.5 0.4 3-1.1 1.5 0.3 1.1 1-0.1 1.5-1 0.5-4.5-0.3-1.5 0.7-5.8 5.1-1.1 1.5-0.3 1.5 0.4 1.5 3.9 6-0.3 6 0.5 3 3.5 7.5 0.3 3-1.3 4.5-9.2 0-3.3-6-3.8-9.8-2.1-8.2-0.6-10.5 1.1-4.5 1.2-1.5z"/>
<path fill="#fd9869" d="M410.4 348l2 2 0.2 1.5-0.7 1.7-1.5-0.3-1.4-2.9 0.5-1.5zM416.4 372.2l1.5 0 1.5 0.7 3 3.3 1.9 3.8 1.8 9 9.3 10.5 6.5 10.6 12 12.7 15 19.6 8.1 8.1 3.4 4.5 9 15 1.2 3 0 4.5-1.8 3-1.9 1.4-3 1-3-0.1-5.8-2.3-4.7-3.3-21-19.8-3-3.9-4.5-7.5-9-11.4-4.1-8.1-8.7-21-0.9-4.5-0.6-9-3.7-8.2-0.9-3.8 0.2-4.5 0.7-1.8zM486.9 499.2l3 0.1 1.5 0.7 0.5 1.5-3.8 4.5-1.1 3 0.4 1.5 3.9 4.5 0.6 1.5-0.7 9 3.9 9-0.8 3-2.9 2.3-3-1.4-3-3.9-4.9-12-1.5-6 0-9 0.9-4.5 2.5-2.6z"/>
<path fill="#fea36f" d="M416.4 374.6l1.5-0.5 1.5 0.5 3.3 3.9 0.9 3 0.1 6 0.8 3 6.9 5.8 2.9 3.2 7.4 12 11.7 12 14 18.8 11.2 12.7 8.9 15 1.3 3-0.1 4.5-2.3 3-2.5 1.2-3 0.1-3.7-1.3-5.3-3.6-21.9-20.4-8.1-12-7.5-9.2-3.9-7.3-9.6-22.5-0.7-4.5 0.2-10.5-4-5.6-1.5-4.9 0.1-3zM489.1 501.5l-0.5 1.5-1.7 1.5-3 1.8-1-1.8 0.4-1.5 1.4-1.5 2.2-0.7zM483.9 510.6l4.5 3.2 2.1 2.7-0.6 4.2-3 6.9-3-3.3-1.5-2.7-1.1-3.6-0.1-3 1.2-4zM488.4 529.5l3.5 3.5 0.1 1.5-0.6 0.8-1.5-0.2-1.5-1.9-0.4-1.7z"/>
<path fill="#feae77" d="M417.9 375.9l1.5 0.4 1.5 1.3 1.3 2.4 0.2 3.5-1.5 2.7-1.5-0.2-1.5-1.1-1.8-3.4-0.2-3 0.5-1.5zM423.9 394.2l1.5 0 3 1.3 4.5 3.7 2.5 3.3 5 9 12 12.2 15 20.4 9.3 10.9 10.2 17.7 0.3 3.3-1.8 3.4-3 1.4-2.8-0.3-3-1.5-3.9-3-12.4-12-9.4-8.2-7.9-11.3-7.4-9-3.5-6-4.8-12-3.9-7.5-1.6-4.5-0.6-4.5 0.4-3 0.8-2.3zM485.4 515.7l1.5 0 1.3 0.8 0.2 1.6-1.5 1.8-1.5-0.1-0.9-1.8 0.1-1.5z"/>
<path fill="#feb97f" d="M417.9 378l1.5 0.1 1.4 1.9 0.1 2.1-1.5 1.4-1.5-1-0.8-2.5zM423.9 397.3l1.5-0.8 3 0.5 4.5 3.6 6.2 10.9 13.3 13.6 13.5 18.9 9 11.4 9 14.6 1.3 3 0.2 3-0.5 1.5-1.5 1.5-2.5 0.6-2.2-0.6-2.3-1.5-15-14.3-8.2-6.7-3.8-4.3-5.2-7.7-7.5-9-3.6-6-4.6-12-5.4-10.5-0.7-6z"/>
<path fill="#fec488" d="M425.4 398.6l3-0.1 3.6 2.5 2.1 3 4.5 9 9.8 9 6.2 7.5 20.3 29.1 7.5 12.7 1 3.2-1 3-1.5 0.5-3-1.3-15.1-14.2-8.9-7-16.5-20.6-4-6.9-4.2-12-5.2-9-0.6-4.5 0.5-2.2z"/>
<path fill="#fecd90" d="M425.4 400.9l1.5-0.9 1.5 0.1 3 1.8 2.3 3.6 2.9 7.5 9.8 8.4 6 6.7 21.3 32.9 2.9 6 1.3 4.8-7.5-4.6-6.3-6.2-10.2-7.2-7-9.3-9-10.5-3.5-6.2-3.4-11.8-6-9-0.6-3z"/>
<path fill="#fed89a" d="M426.9 402l1.5-0.3 1.5 0.6 1.6 1.7 1.3 3 0.1 4.6-1.5 0.5-1.5-0.8-3-3-1.1-2.8-0.1-1.5zM434.4 416.9l1.5-0.6 6 2.9 4.5 3.6 4.5 5 13.3 21.2 1.8 4.5-0.1 3.6-1.5 0.3-3-0.8-6-3.3-6.9-8.8-8.2-9-3.2-4.5-2.1-4.5-0.9-4.5z"/>
<path fill="#fde3a5" d="M428.4 404l1.8 1.5-0.3 2.2-1.7-0.7-0.5-1.5zM437.4 419.7l3 0.3 3 1.7 3.6 3.3 3.9 4.5 10.5 18.3 0.9 2.7-0.1 1.5-0.8 1.1-3-0.2-3-2-4.9-6.4-7.1-7.1-4-4.9-2-3.3-1.5-4.2 0-3.2z"/>
<path fill="#fceeb0" d="M438.9 422.1l1.5-0.1 3 1.4 6 6.3 3.3 5.8 1.2 6.1-1.5 0.6-3-1.6-4.5-3.5-3-3.4-2.9-4.2-1.2-3-0.1-3z"/>
<path fill="#fcf9bb" d="M440.4 425.2l1.5-0.2 1.5 1 4.5 4.6 2 3.4 0.3 1.5-0.6 1.5-1.7 0-1.5-1-3-3.2-3-4.8z"/>
</g>
<path d="M384.3 309.3 386 325.3 388.4 349.7 390.9 374.2 393.3 390.5 395.7 406.8 398.2 422 401.4 435 405.5 448.1 408.8 458.7M412 468.5 417.7 482.3 424.3 495.3 430.8 508.4 437.3 519.8 440.6 527.9 442.2 536.5" stroke="#fff200" class="ct"/>
<path d="M390 309.3 390.5 341.6 391.3 374.2 392 400.3 392.2 411.7M392.8 432.6 393.3 454.6 394.1 479 395.3 503.5 396.6 523.1 397.9 536.5" stroke="#ffffff" class="ct"/>
<path d="M391.3 309.3 393.3 325.3 395.7 349.7 399 374.2 402.3 390.5 406.3 406.8 410.4 422 415.3 435 421 449.7 426.7 461.1 430.8 468.5M435.7 477.4 442.2 487.2 448.7 498.6 455.2 506.8 460.1 518.2 462.6 527.9 465.8 536.5" stroke="#ffa500" class="ct"/>
<path d="M414.5 309.3 416.9 320.4 420.2 333.4 425.1 348.1 430.8 361.2 437.3 374.2 445.5 385.6 455.2 397 465 406.8 474.8 414.9 481 420.5 489.1 426.1 496.5 431M504.6 436.7 513.6 441.6 525 448.9 536.4 457.9 546.2 467.6 556.8 469.3 560.1 475.8 561.7 487.2 570.6 488.5 573.9 497 575.2 508.4 575.2 523.1 573.9 536.5" stroke="#ffa500" class="ct"/>
<path d="M400.6 309.3 401.4 318.8 403.9 330.2 405.5 344.9 408 357.9 410.4 369.3 412 380.7 415.3 397 418.6 408.4 421.8 416.6M427.5 430.2 433.2 439.9 438.9 446.5 443 454.6 447.1 460.3 453.6 466 460.1 472.5 465.8 478.2 471.5 483.6 477.5 483.8 475 490 481 493.2 485.1 487.2 487.5 497 490.8 508.4 494.9 519.8 498.9 529.6 501.4 536.5" stroke="#ff0000" class="ct"/>
<path d="M404.7 309.3 407.2 317.1 408.8 325.3 412 335.1 413.7 346.5 416.9 354.6 420.2 364.4 424.3 374.2 428.3 384 433.2 392.1 438.1 398.7 443 406.8 448.7 413.3 453.6 418.2M460.1 426.1 465 431.8 469.9 438.3 474.8 443.2 481 447.3 485.9 454.6 490.8 463.6 495.7 464.4 498.1 472.5 500.6 480.7 505.4 481.5 507.9 490.5 511.2 500.2 513.6 506.8 515.2 510.8 514.4 514.9 509.5 516.5 505.4 522.2 509.5 527.9 513.6 528.8 516 536.5" stroke="#ff0000" class="ct"/>
<path d="M408 309.3 408.8 325.3 410.4 341.6 411.2 357.9 412 374.2 413.7 390.5 414.8 406.8 415.8 422 416.9 430.2 417.7 438.3M419.7 457 421.8 470.9 425.1 487.2 430.8 500.2 437.3 513.3 441.4 523.1 443.8 528.8 448.7 529.6 452 536.5" stroke="#ffffff" class="ct"/>
<path d="M424.3 309.3 425.9 325.3 427.5 341.6 430 357.9 432.4 374.2 434.9 390.5 437.3 406.8 439.8 422 442.2 430.2 445.5 439.9 448.7 449.7 452 459.5 457.7 461.9 460.1 469.3 465 475.8 470.7 482.3 474.8 487.2 476.4 491.8 481 492.3 487.5 497.8 496.5 498.3 502.2 501.9 505.4 504.3 512 504.6M525.8 510.8 556.8 511.2 561.7 514.9 573.9 516.5 585.3 517" stroke="#ffffff" class="ct"/>
<path d="M424.3 309.3 427.5 320.4 432.4 333.4 438.9 348.1 445.5 359.5 453.6 370.9 463.4 380.7 473.2 390.5 481 397.4 489.1 402.7 497.3 406.8 505.4 410.1 511.2 412.5M517.7 415.8 529.9 419.8 537.2 422 546.2 425.3 556 425.6 562.5 430.1 570.6 431 577.2 435 585.3 435.4" stroke="#fff200" class="ct"/>
<path d="M455.2 309.3 455.2 321.2 460.1 333.4 465 346.5 465 359.5 469.9 372.6 474.8 385.6 478.9 398.7 481 403.9 485.9 404.4 490 416.6 494.9 416.9 497.3 422 505.4 430.1 512 435.9 516.9 439.1M531.5 450.5 542.9 451 547.8 457 570.6 457.5 576.4 463.6 585.3 463.9" stroke="#ffffff" class="ct"/>
<path d="M534.8 309.3 534.8 320.4 547.8 355.5M560.1 364.4 561.7 366.9 569.8 367.2 572.3 374.2 573.1 385.6 575.5 388.9 585.3 388.9" stroke="#ffffff" class="ct"/>
<text x="425" y="425.7" font-size="6.36" text-anchor="middle" fill="#ff0000" textLength="3.8" lengthAdjust="spacingAndGlyphs" transform="rotate(62 425 423.5)">1</text>
<text x="410.6" y="465.5" font-size="6.36" text-anchor="middle" fill="#fff200" textLength="3.8" lengthAdjust="spacingAndGlyphs" transform="rotate(68 410.6 463.3)">3</text>
<text x="433.3" y="474.5" font-size="6.36" text-anchor="middle" fill="#ffa500" textLength="3.8" lengthAdjust="spacingAndGlyphs" transform="rotate(58 433.3 472.3)">2</text>
<text x="456.5" y="424.5" font-size="6.36" text-anchor="middle" fill="#ff0000" textLength="3.8" lengthAdjust="spacingAndGlyphs" transform="rotate(50 456.5 422.3)">1</text>
<text x="500.2" y="495.2" font-size="6.36" text-anchor="middle" fill="#ff0000" textLength="3.8" lengthAdjust="spacingAndGlyphs">1</text>
<text x="514.4" y="416" font-size="6.36" text-anchor="middle" fill="#fff200" textLength="3.8" lengthAdjust="spacingAndGlyphs" transform="rotate(22 514.4 413.8)">3</text>
<text x="500.3" y="436.2" font-size="6.36" text-anchor="middle" fill="#ffa500" textLength="3.8" lengthAdjust="spacingAndGlyphs" transform="rotate(30 500.3 434)">2</text>
<text x="392.5" y="424.7" font-size="6.36" text-anchor="middle" fill="#ffffff" textLength="13.4" lengthAdjust="spacingAndGlyphs" transform="rotate(88 392.5 422.5)">2.00</text>
<text x="418.8" y="449.7" font-size="6.36" text-anchor="middle" fill="#ffffff" textLength="13.4" lengthAdjust="spacingAndGlyphs" transform="rotate(82 418.8 447.5)">0.50</text>
<text x="519.5" y="509.5" font-size="6.36" text-anchor="middle" fill="#ffffff" textLength="13.4" lengthAdjust="spacingAndGlyphs" transform="rotate(15 519.5 507.3)">0.25</text>
<text x="524" y="446.7" font-size="6.36" text-anchor="middle" fill="#ffffff" textLength="13.4" lengthAdjust="spacingAndGlyphs" transform="rotate(25 524 444.5)">0.12</text>
<text x="557" y="357" font-size="6.36" text-anchor="middle" fill="#ffffff" textLength="13.4" lengthAdjust="spacingAndGlyphs" transform="rotate(30 557 354.8)">0.06</text>
<path d="M444 434.7h8.4M448.2 430.5v8.4" stroke="#000" stroke-width="1.1" fill="none"/>
</g>
<rect x="377.4" y="309.5" width="207.8" height="226" class="fr"/>
<text x="396.3" y="546.4" font-size="8.46" text-anchor="middle" fill="#1a1a1a" textLength="14.5" lengthAdjust="spacingAndGlyphs">200</text>
<text x="434.1" y="546.4" font-size="8.46" text-anchor="middle" fill="#1a1a1a" textLength="14.5" lengthAdjust="spacingAndGlyphs">400</text>
<text x="471.9" y="546.4" font-size="8.46" text-anchor="middle" fill="#1a1a1a" textLength="14.5" lengthAdjust="spacingAndGlyphs">600</text>
<text x="509.6" y="546.4" font-size="8.46" text-anchor="middle" fill="#1a1a1a" textLength="14.5" lengthAdjust="spacingAndGlyphs">800</text>
<text x="547.4" y="546.4" font-size="8.46" text-anchor="middle" fill="#1a1a1a" textLength="19.3" lengthAdjust="spacingAndGlyphs">1000</text>
<text x="585.2" y="546.4" font-size="8.46" text-anchor="middle" fill="#1a1a1a" textLength="19.3" lengthAdjust="spacingAndGlyphs">1200</text>
<text x="371.5" y="538.5" font-size="8.46" text-anchor="end" fill="#1a1a1a" textLength="16.6" lengthAdjust="spacingAndGlyphs">17.0</text>
<text x="371.5" y="500.8" font-size="8.46" text-anchor="end" fill="#1a1a1a" textLength="16.6" lengthAdjust="spacingAndGlyphs">17.5</text>
<text x="371.5" y="463.1" font-size="8.46" text-anchor="end" fill="#1a1a1a" textLength="16.6" lengthAdjust="spacingAndGlyphs">18.0</text>
<text x="371.5" y="425.4" font-size="8.46" text-anchor="end" fill="#1a1a1a" textLength="16.6" lengthAdjust="spacingAndGlyphs">18.5</text>
<text x="371.5" y="387.8" font-size="8.46" text-anchor="end" fill="#1a1a1a" textLength="16.6" lengthAdjust="spacingAndGlyphs">19.0</text>
<text x="371.5" y="350.1" font-size="8.46" text-anchor="end" fill="#1a1a1a" textLength="16.6" lengthAdjust="spacingAndGlyphs">19.5</text>
<text x="371.5" y="312.4" font-size="8.46" text-anchor="end" fill="#1a1a1a" textLength="16.6" lengthAdjust="spacingAndGlyphs">20.0</text>
<rect x="597.9" y="309.5" width="12" height="226" class="cb"/>
<text x="614.2" y="499.2" font-size="6.47" text-anchor="start" fill="#1a1a1a" textLength="8.9" lengthAdjust="spacingAndGlyphs">0.2</text>
<text x="614.2" y="452.2" font-size="6.47" text-anchor="start" fill="#1a1a1a" textLength="8.9" lengthAdjust="spacingAndGlyphs">0.4</text>
<text x="614.2" y="405.2" font-size="6.47" text-anchor="start" fill="#1a1a1a" textLength="8.9" lengthAdjust="spacingAndGlyphs">0.6</text>
<text x="614.2" y="358.1" font-size="6.47" text-anchor="start" fill="#1a1a1a" textLength="8.9" lengthAdjust="spacingAndGlyphs">0.8</text>
<text x="614.2" y="311.1" font-size="6.47" text-anchor="start" fill="#1a1a1a" textLength="8.9" lengthAdjust="spacingAndGlyphs">1.0</text>
<path d="M396.3 535.5v2.6M434.1 535.5v2.6M471.9 535.5v2.6M509.6 535.5v2.6M547.4 535.5v2.6M585.2 535.5v2.6M377.4 535.5h-2.6M377.4 497.8h-2.6M377.4 460.2h-2.6M377.4 422.5h-2.6M377.4 384.8h-2.6M377.4 347.2h-2.6M377.4 309.5h-2.6M609.9 497.6h1.7M609.9 450.6h1.7M609.9 403.6h1.7M609.9 356.5h1.7M609.9 309.5h1.7" class="tk"/>
<text x="481.3" y="563.5" font-size="10.60" text-anchor="middle" fill="#1a1a1a" textLength="80.9" lengthAdjust="spacingAndGlyphs">Temperature [K]</text>
<text x="343.3" y="436.1" font-size="10.60" fill="#1a1a1a" text-anchor="middle" textLength="76.7" lengthAdjust="spacingAndGlyphs" transform="rotate(-90 343.3 436.1)">log<tspan font-size="7.4" dy="2">10</tspan><tspan dy="-2">(N [cm</tspan><tspan font-size="7.4" dy="-3.8">−2</tspan><tspan dy="3.8">])</tspan></text>
<text x="635.3" y="422.5" font-size="10.60" fill="#1a1a1a" text-anchor="middle" textLength="28.5" lengthAdjust="spacingAndGlyphs" transform="rotate(-90 635.3 422.5)">χ<tspan font-size="6.6" dy="-4">2</tspan><tspan font-size="6.6" dy="6.8" dx="-3.8">min</tspan><tspan dy="-2.8">/χ</tspan><tspan font-size="6.6" dy="-4">2</tspan></text>
<text x="487.2" y="590.3" class="cap" text-anchor="middle" textLength="52.7" lengthAdjust="spacingAndGlyphs">(d) C<tspan class="sb" dy="1.6">2</tspan><tspan dy="-1.6">H</tspan><tspan class="sb" dy="1.6">2</tspan></text>
</g>
<!-- panel e -->
<g>
<clipPath id="cle"><rect x="37.5" y="615.2" width="214.5" height="226.2"/></clipPath>
<g clip-path="url(#cle)"><g filter="url(#bl)">
<rect x="33" y="610.7" width="223.5" height="235.2" fill="#010106"/>
<path fill="#030312" d="M33 610.7l53.8 0-0.6 7.5 0.3 3 1.6 3 1.9 1.5 9 1.5 18 5.7 10.5 0.6 10.5 2.8 10.5 1.2 21 3.6 10.5 4.6 13.5 3 13.8 5.5 4.2 1.1 4.5-0.2 13.5-4.3 12-1.7 10.5-0.8 4.5-2.3 0 200.2-71.1 0 0.1-3-0.8-1.5-1.7-0.7-9-1.1-6 1.2-7.5-1.6-12 0.2-7.5-0.6-7.5-2.5-10.6-5.4-7.4-0.2-6-1.8-6-3.7-4.5-3.6-6-1.1-6 0.2-1.5-0.3-3-1.7-9-7.3-6-3-34.5-11zM117.7 610.7l6.5 0-1.2 1.4-1.5 0.7-2.6-0.6zM109 846.2l0.9-1.5 3.5-3 3.6-2.1 3-0.7 6 1.8 8.3 4 1.8 1.5z"/>
<path fill="#08071e" d="M33 610.7l45.2 0 5.6 12 2.5 3 3.7 2.4 13.5 2.6 12 4 12 0.8 10.5 2.8 10.5 1.2 19.5 3.2 4.5 1.5 7.5 3.6 12 2.6 13.7 5.3 5.8 1.6 4.5-0.2 10.5-3.7 4.5-1 10.5-1.4 10.5-0.3 4.5-1.1 0 196.6-70.2 0-0.3-3.7-1.5-1.6-1.7-0.7-8.8-0.9-6 0.7-7.5-1.3-12 0.4-9-0.9-7.5-3-9-4.5-7.5-0.4-6-1.8-6-3.8-3-2.6-2.9-1.4-12.1-0.9-4.5-2.8-9-7-6-3.2-33-10.6zM117.2 846.2l1.3-1.5 3-1.1 4.5 0.8 3.2 1.8z"/>
<path fill="#0e0b2b" d="M33 610.7l37 0 2 3.4 9.5 10.1 5.5 4.4 3 1.3 13.5 2.5 12 3.9 12 0.8 10.5 2.9 10.5 1.1 19.5 3.3 12 5.1 12 2.6 18.2 6.6 6.3 0 10-3.5 6-1.4 24-2.1 0 194.5-69.5 0-0.8-4.5-1.7-1.4-3-0.8-7.5-0.8-6 0.7-7.5-1.1-12 0.2-9-0.9-7.5-2.9-9-4.6-9-0.7-4.5-1.4-10.5-7.3-13.5-1.7-4.5-2.7-7.5-6-7.5-4.6-33-10.8z"/>
<path fill="#150e38" d="M33 610.7l31 0 4.3 6 6.8 6 8.9 6 6 2.8 13.5 2.4 12 3.8 10.5 0.6 12 3.1 10.5 1.1 18 3.1 4.5 1.4 7.5 3.4 13.5 3.2 13.2 5.1 5.4 1.5 3.9 0.3 3-0.5 10.5-3.7 6-1.3 22.5-1.5 0 192.7-68.9 0-0.2-3-1.4-2.4-1.5-1-3-0.8-6-0.7-7.5 0.5-7.5-0.9-12 0.2-9-1-6-2.1-10.5-5.4-7.5-0.4-6-1.6-10.5-7.4-3-0.7-10.5-1.1-4.5-2.6-6-5-9-6.1-25.5-8.3-7.5-2.9z"/>
<path fill="#1d1147" d="M33 610.7l25.7 0 2 3 4.2 4.5 6.9 6 4.7 3 12 5.3 6 1.6 9 1.1 10.5 3.5 12 0.9 12 3.1 9 0.9 19.5 3.3 12 4.9 13.5 3.1 12 4.7 6 1.8 4.5 0.4 3-0.3 12-4 6-1.3 21-1.1 0 191.1-68.3 0-0.7-3.9-1.5-2.1-4.5-1.7-6-0.7-7.5 0.5-7.5-0.8-12 0.2-9-1-6-2.2-10.5-5.2-7.5-0.6-6-1.5-10.5-7.4-3-0.8-9-0.7-3-1.1-3-1.9-12-9.8-3-1.8-26.1-8.5-6.9-3.3z"/>
<path fill="#241253" d="M33 610.7l20.3 0 2.3 3 8.9 8.4 6.5 5.1 5.5 2.9 18 5.4 9 1 9 3.2 13.5 1.1 10.9 2.9 10.1 1.1 19.5 3.3 12 4.9 12 2.7 12 4.6 7.5 2.3 4.5 0.5 4.5-0.4 11.4-4 5.1-1.1 21-0.9 0 189.5-67.8 0-1-4.5-1.2-1.5-5-2.1-6-0.7-7.5 0.5-7.5-0.8-12 0.2-9-1-4.5-1.5-12-5.9-12-1.5-3-1.5-9-6.5-10.5-1.4-4.5-1.3-3.2-2-11.8-10.2-3-1.8-27-8.9-6-4.3z"/>
<path fill="#2d1161" d="M33 610.7l14.8 0 2.4 3 8.3 6.6 7.5 6.8 4.9 3.1 4.1 1.8 19.5 4.9 9 0.8 7.5 3 15 1.3 10.5 2.8 10.5 1.2 19.5 3.3 12 4.9 12 2.7 12 4.6 7.5 2.2 6 0.7 4.5-0.5 10.5-3.8 6-1.3 19.5-0.6 0 188-67.3 0-0.5-3-1.6-3-2.6-1.6-3-0.9-6-0.7-7.5 0.4-7.5-0.6-12 0.2-9-1.1-6-2.1-10.5-5.2-12-1.5-3-1.6-9-6.5-13.5-2.1-4.5-2.5-10.5-9.7-4.5-3.1-23.8-7.9-3.6-1.5-1.8-1.5-1.7-3-2.1-6.5z"/>
<path fill="#38106c" d="M33 610.7l9 0 6 5.9 9 5.9 7 6.2 5.2 3 4.3 1.7 15 2.9 6 1.9 7.5 0.4 9 3.3 15 1.3 10.5 2.8 10.5 1.1 19.5 3.3 10.5 4.5 13.5 3.1 12 4.7 7.5 2.1 9 0.9 4.5-0.8 7.6-3.2 4.4-1.2 15-0.9 6 0.2 0 186.4-66.8 0-0.6-3-1.6-3.1-3-1.9-4.5-1.2-31.5-0.4-9-1-6-2.1-10.5-5.3-12-1.4-12-8.2-10.5-1.4-4.5-1.4-3.9-2.6-9.6-9.6-4.5-3.1-19.8-6.8-6.7-3-1.6-3 0.3-7.5-0.7-6-1.8-4.5-2.7-3.9z"/>
<path fill="#420f75" d="M33 610.7l1.8 0 13.2 10.2 7.5 3.8 7 5.5 6.1 3 7.9 2.4 10.5 1.6 7.5 2.2 7.5 0.4 9 3.4 13.5 0.9 12 3 28.5 4.1 4.5 1.4 7.5 3.4 12 2.7 13.5 5.1 12 3.1 4.5 0.4 4.5-0.4 9-3.9 4.5-1.1 13.5-0.7 6 0.4 0 184.6-66.3 0-0.6-3-1.5-3-2.1-1.7-4.5-1.6-4.5-0.6-9 0.4-9-0.5-10.5 0.1-10.5-1.4-15-7-12-1.4-12-8.2-10.5-1.5-4.5-1.4-3.3-2.2-6.2-6-2.1-3-4.9-4.1-3-1.5-17.6-6.4-3.2-1.5-1.8-1.5-0.6-1.5 0.7-3.9 4.2-8.1 1-3-0.5-3-5.2-9-1.1-4.5 3.6-25.5 0.2-13.5-0.9-10.5-1.6-6-2-4.5-3.2-4.5-3.5-3z"/>
<path fill="#4c117a" d="M33 615.2l6 2.7 9 6.9 6 2.3 11 6.1 7 2.5 15 2.7 7.5 2 7.5 0.6 9 3.3 13.5 0.9 11.5 3 29 4.1 12 4.9 12 2.7 13.5 5.1 13.5 3.5 4.5 0.6 4.5-0.2 3-1 6-3.1 3-0.8 13.5-0.9 6 0.8 0 56.4-1.5 1.1-1.5 2.4-3 8.2-3.6 15.2-1.3 10.5 0.7 7.5 6.6 24 1.2 9-1.1 6-6.1 15-1 4.5 0 4.5 0.6 3 1.6 3 3.9 2.9 4.5 2 0 7.1-65.7 0-1.3-4.5-2-2.7-6-2.6-4.5-0.5-9 0.4-19.5-0.3-10.5-1.4-15-6.9-12-1.5-12-8.3-10.5-1.5-4.5-1.4-4.4-3.3-4.2-4.5-1.9-3.4-6-5-14.5-6.6-5.1-3-1-1.5 0.1-1.5 1-1.5 6-2.8 2.2-1.7 1.7-3 0.4-3-0.4-4.5-3.3-13.5-0.7-6 0.4-19.5-0.5-31.5-1.6-13.5-1.2-3.8-1.5-2.6-4.5-3.8-12-5.8z"/>
<path fill="#54137d" d="M33 619.1l4.5 1.6 9 6.5 7.5 2.4 7.7 3.6 8.8 3.2 22.5 4.6 9 1.2 9 3.1 12 0.7 12 3 30 4.5 12 4.8 12 2.7 12 4.6 19.5 5.8 4.5 0.7 4.5-0.4 6.5-4 4-0.9 10.5-0.9 6 1.3 0 27.4-7.5-2.1-10.5-6.6-1.5-0.1-1.5 10.4 0 4.5 2.1 13.5 0.6 10.5-2.9 36 3.8 22.5 0.9 10.5-0.9 9-3.8 16.5-0.3 16.5 0.6 4.5 3 6-47.2 0-1.5-4.5-2.2-3-6.2-2.7-4.5-0.5-9 0.5-19.5-0.3-10.5-1.4-15-6.9-12-1.5-12-8.4-10.5-1.5-4.5-1.4-3-2-4.8-5.4-0.8-3-1.2-1.5-8.2-6.9-8-5.1-0.9-1.5 0-1.5 5-7.5 0.9-3 0.5-4.5-2.1-22.5-0.4-46.5-1.4-16.5-1.9-7.5-1.7-3-2.6-3-6.9-4.8-13.5-6.5z"/>
<path fill="#5d177f" d="M33 622.7l4.5 1.5 7.5 4.5 26.8 9 22.7 4.4 7.5 0.9 10.5 3.4 10.5 0.5 12 3 13.5 1.7 18 3.4 10.5 4.5 12 2.7 12 4.6 10.5 3.2 8.2 3.7 4.4 3 1.9 3 1.3 6 0.7 16.5 1.7 19.5-0.1 12-1.2 25.5 2 24 0.2 10.5-1.7 28.5 0.6 15 1.8 9-39.2 0-1.7-4.5-2.1-3-3.8-2.2-4.5-1.3-31.5 0.2-9-1-4.5-1.5-12-5.8-12-1.5-12-8.4-13.5-2.4-3.1-1.6-3.2-3-2.1-3-1.1-4.5-5.3-4.5-4.6-6-1.5-3 0.3-3 2.2-7.5 0.5-7.5-1-19.5-0.8-51-0.7-9-1.3-7.5-2.3-6.2-4.6-5.8-8.9-6.1-12-6.6-3-1.1zM247.4 673.7l1.6-1.1 3 0.7 1.4 1.9-0.4 1.5-1 0.5-2.4-0.5-1.8-1.5z"/>
<path fill="#671b80" d="M33 626l12 4.3 27 8.2 28.5 5 10.5 3.4 10.5 0.5 13.5 3.3 13.5 1.8 9 2.2 7.5 1.1 12 4.9 11.3 2.5 12.7 4.9 8.7 2.6 5.6 3 3.5 3 2.7 4.5 1.2 7.5 0.3 33-0.6 36 0.7 24 0 34.5 1.2 21 1.4 9-32.7 0-4-7.5-3-2.1-6-1.9-10.5 0.5-21-0.1-9-1-6-2.1-9-4.7-13.5-2-12-8.5-13.5-2.4-3-1.6-2.8-2.6-1.8-3-0.5-4.5-3.9-3.4-1.8-2.6-1.5-6 1-19.5-0.8-45-1-30-1.8-12-3.1-7.5-5.4-6-11.8-7.5-11.3-6.4-3-1z"/>
<path fill="#701f81" d="M33 628.6l7.5 1.5 31.5 9.2 28.5 4.9 12 3.6 9 0.3 13.5 3.3 13.5 1.8 9 2.6 7.5 1.2 10.5 4.3 12 3 21 7.5 3.5 1.9 3.2 3 2.5 4.5 1 7.5-2.1 40.5-0.3 90 0.4 12-0.7 2.8-6 0.9-3 2.7-0.9 4.1 0.9 2.8 1.3 1.7-14.1 0-5.2-8.2-3-1.9-6-1.9-10.5 0.7-21-0.1-10.5-1.4-4.5-1.7-9-4.7-13.5-2-10.5-7.8-3-1.2-7.5-0.9-4.5-1.2-3-1.6-2.2-2.1-1.7-3-0.6-5.6-3.4-3.4-0.8-3 0.5-24-0.7-45-1.1-30-1.6-12-3-7.5-5.5-6-4.1-3-20.8-12.1-4.5-1.8zM211 846.2l2.7-1.5 2.3-0.5 1.5 0.4 0.7 1.6z"/>
<path fill="#792282" d="M33 630.5l7.5 0.7 31.5 8.7 28.5 4.9 12 3.6 9 0.3 13.5 3.2 12 1.7 10.5 3.3 7.5 1.3 10.5 4.3 12 3.2 19.5 7.3 3 1.7 2 2 2.3 4.5 0.7 6-3.5 25.5-0.9 10.5-0.1 19.5-1.2 25.5 1.1 25.5-0.2 7.5-1.7 9.2-4.8 13.3-1.4 10.5-1.8 7.5-1 2.6-1.5 1.4-1.5-0.1-3-2.2-4.7-6.2-7.3-3.4-3-0.3-9 1.1-21-0.1-9-1-6-2.1-9-4.7-13.5-2-10.5-7.9-3-1.2-7.5-0.9-4.5-1.2-3-1.7-1.6-1.6-1.5-3-0.4-6-2.5-4.5 0.6-27-0.8-45-1.1-28.5-1.7-13.5-3-6.8-4.9-5.2-6.6-4.5-21.5-12.2-4.5-1.9z"/>
<path fill="#832681" d="M33 632.1l9 0.5 28.5 7.7 30 5 12 3.6 9 0.4 13.5 3.2 13.5 2.1 7.5 3 10.5 2.2 9 4 13 3.9 17 7 3 2 2.4 4.5 0.6 6-1.3 7.5-4.1 15-1.4 7.5-0.5 7.5 0.3 16.5-2.7 24 0.1 7.5 2.5 18 0.2 7.5-0.8 4.5-1.2 3-6.4 9-1 3 0.3 3 3.6 13.5-1 6-1.6 2.3-1.5 0.1-1.5-1-4.5-5.2-7.5-3.3-3-0.2-8.2 1.3-21.8 0-10.5-1.4-4.3-1.6-9.2-4.8-13.5-2-12-8.7-7.5-1.1-5.4-1.4-2.9-1.5-1.6-1.5-1.4-3 0.1-6-1.4-6 0.7-9 0.1-18-1.2-52.5-1.1-22.5-1.7-12-2.8-6-2.6-3-3.8-3-29-16.7-4.5-2.1z"/>
<path fill="#8b2981" d="M33 633.5l4.5-0.5 4.5 0.5 28.5 7.4 30 4.9 12 3.6 9 0.4 12 2.9 13.5 2.1 9 3.8 10.5 2.4 10.5 4.6 10.5 3.6 13.5 6 4.5 3 2.1 4.5 0.1 4.5-1.9 7.5-5.8 15-1.8 7.5-0.5 7.5 0.8 16.5-3 15-0.8 7.5 0.4 10.5 3.5 18 0.2 6-1.5 4.5-8.3 8.6-2.6 4.9 0.4 3 5.2 6.1 3.9 7.4 0.5 4.5-1.4 2.5-1.5-0.4-3-2.9-3-1.9-6-2.4-13.5 1.8-21 0-9-1.4-3.6-1.3-9.9-5.1-13.5-2-12-8.8-11.3-2.1-3.7-1.5-1.7-1.5-1.4-3 0.6-6-0.4-6 0.9-10.5 0.1-18-1.3-52.5-1.2-21-1.6-12-3-6.7-1.9-2.3-3.7-3-36.4-20.4z"/>
<path fill="#942c80" d="M33 634.9l4.5-0.9 4.5 0.3 28.5 7.2 30 4.8 12 3.5 9 0.5 12 2.9 13.5 2.1 9 4.2 10.5 2.7 19.4 8.5 11.8 6 3.8 3 1 1.5 0.8 3-0.4 4.5-1.9 5.3-6.7 14.2-1.7 6-1 7.5 0.4 18-2.5 15-0.7 12 0.5 9 2.7 16.5 0.2 4.5-0.9 3-7.8 12-1.8 6 0.3 3 1 2.2 6 4.7 2.8 3.6 0.9 3-0.7 0.5-7.5-3.3-3-0.6-7.5 2.2-4.5 0.5-22.5 0.1-7.5-1-4.5-1.4-10.5-5.4-13.5-2-10.5-8.2-3-1.2-8-1.2-4.3-1.5-2-1.5-1.4-3 2.4-22.5 0-33-1.7-47.4-1.5-17.1-1.3-7.5-3-6-4.6-4.5-7.4-4.5-19.7-10.2-12-7.5z"/>
<path fill="#9e2f7f" d="M33 636.7l4.5-1.7 4.5 0.1 28.5 7 28.5 4.4 12 3.5 10.5 0.8 12 2.8 12.8 2.1 9.7 4.8 9 2.3 6 2.6 17.9 9.8 4.5 3 3 3 1.2 3-0.3 4.5-8.2 18-2.5 12-2.3 45 1.6 30-1 6-5.2 15-0.3 6 1.6 6-0.2 1.5-1.4 1.5-5.4 2.8-3 0.5-24 0.3-6-0.7-6-1.7-10.5-5.4-4.5-1-8.4-0.8-11.1-8.6-3-1.2-6-0.7-4.7-1.5-2.8-1.8-1.2-2.7 2.2-9 1-7.5 0.5-31.5-1.7-51-1.4-16.5-1.8-12-2.9-6-4.1-4.5-8.6-5.2-12-5.7-9-5-6-3.8-6-4.8z"/>
<path fill="#a8327d" d="M34.7 637.7l2.8-1.6 4.5-0.2 28.5 6.9 28.5 4.1 12 3.5 10.5 0.9 12 2.8 12 1.9 3.2 1.2 7.3 4.3 9 2.5 7.6 3.7 8.7 6 8.2 7.5 1.4 3-0.1 4.5-6.2 16.5-2.1 12-1 13.5-0.8 31.5 0.7 33-3.5 19.5 0.4 13.5-2.8 3-4.5 1.4-25.5 0.3-7.5-1.3-4.8-1.9-7.2-4-6-1.5-6-0.3-3-0.8-10.5-8.4-3-1.3-8.6-1.7-3.2-1.5-1.4-1.5-0.1-3 2.6-6 1.2-6 0.6-31.5-1.8-54-1.1-13.5-2.4-15-2.8-6-2.5-3.1-3.3-2.9-8.7-5.1-15-7.1-9-5.3-4.7-3.5-2.5-3-1.6-3 0.3-1.5z"/>
<path fill="#b2357b" d="M36.9 637.7l2.1-0.8 4.5 0.2 9 2.6 16.5 3.4 30 4.3 13.5 3.7 9 0.6 12 2.8 12 2 3 1.3 7.5 4.6 9 2.8 5.1 2.5 6.1 4.5 3.9 4.5 4 6 1 4.5-4.8 19.5-1.3 10.5-1.1 28.5 0.1 49.5-1.5 19.5 0.6 12-1.1 3-1.8 1.5-4.7 1.1-24 0.3-7.5-1.3-13.5-6.5-4.5-0.9-6-0.3-3-0.9-10.5-8.6-3-1.3-6.3-1.1-3.4-1.5-1.8-1.5-0.4-1.5 0.4-1.5 3-4.5 1.1-4.5 0.5-33-0.5-27-1.3-28.5-1.2-13.5-2.6-15-2.9-6-5.6-6.1-9.8-5.9-15.7-7.4-11.9-7.6-3.2-4.5-0.1-3z"/>
<path fill="#ba3878" d="M39 638.2l1.5-0.4 3 0.2 9 2.6 19.5 3.7 27 3.5 12 3.4 10.5 0.9 12 2.9 12 2.1 3 1.3 7.5 4.9 11.5 4.4 4.5 3 2.9 3 1.9 3 2.5 6 1.2 4.5-3.8 22.5-1.2 16.5-0.4 84 0.9 16.5-0.3 1.5-1.7 2.3-3 1.2-7.5 0.5-18 0-6.5-1-4.4-1.5-8.6-4.8-6-1.4-6-0.3-3-0.8-10.5-8.9-9-3-2.5-1.8-0.3-1.5 2.8-2.9 0.6-1.6 0.6-4.5-0.6-60-2.2-40.5-3.2-18-3-6-3.8-4.5-3.4-3-9-5.4-14.4-6.6-12.6-8-3-4 0.2-3z"/>
<path fill="#c43c75" d="M40.5 639.2l3.2 0 8.8 2.5 7.5 0.8 10.5 2.3 28.5 3.4 12 3.4 10.5 1 10.5 2.5 12 2.1 3.8 1.5 6.7 4.8 12.9 5.7 5 4.5 2.3 4.5 1.8 6 0.5 4.5-3.2 22.5-0.7 13.5-0.3 72 0.5 12 1.7 10.5 0.2 6-0.5 3-0.9 1.5-2.9 1.5-7.4 0.6-18 0-7.5-1.3-4.5-1.8-7.5-4.2-6-1.4-6-0.3-2.5-0.6-5-3.8-4.5-4.5-3-1.9-4.6-1.8-1.2-1.5 1.4-4.5 0.5-7.5-1-61.5-1.4-15-0.8-22.5-3.2-16.5-1.7-4.5-1.8-3-5.7-6.2-10.5-7.1-13.5-6.2-12.1-7.5-2.9-2.6-1.2-1.9-0.1-1.5z"/>
<path fill="#cd4071" d="M42.2 642.2l1.3-0.9 7.5 1.7 9 0.4 12 2.4 27 2.8 12 3.4 12 1.3 9 2.3 12 2.2 3 1.1 7.5 5.4 10.2 4.9 5.4 4.5 2.7 6 1.5 9-3 22.5-0.6 12 0.4 18-0.5 55.5 0.9 12 2.4 9 0.5 4.5-0.2 4.5-1.5 3-3.2 1.2-7.5 0.5-16.5 0.1-7.5-1.4-4.5-1.8-7.5-4.2-6-1.4-7.6-0.5-4.4-3-6-5.9-5.9-4.6 1.3-15-1.5-33 0.1-27-1.5-13.5-0.7-22.5-3.4-16.5-3.7-7.5-7.2-7.5-12-7.9-9.2-4.1-5.4-3-8.2-6z"/>
<path fill="#d6456c" d="M52.7 645.2l7.3-0.8 9 1.9 12 0.8 18 2 12 3.2 12 1.4 9 2.4 12 2.2 3.9 1.9 6.6 5 10 5.5 4.3 4.5 2.2 6 0.9 7.5-2.9 22.5-0.5 10.5 0.8 19.5-1.1 45 0.3 10.5 1.1 12 3.5 9 0.7 4.5-0.4 4.5-0.5 1.5-1.6 1.5-7.8 1.2-16.5 0.2-9.1-1.4-3.7-1.5-6.7-4-6-1.6-7.5-0.5-3-1.2-4-3.2-8.8-9-0.3-3 1.3-7.5 0.5-6-2.1-31.5 0.4-25.5-1.8-15-0.2-21-3-15-1.5-4.5-2.3-4.5-5.2-6-6-5.2-9-6.2-13.4-6.6-3.3-3-0.7-1.5z"/>
<path fill="#df4a68" d="M56.1 646.7l3.9-1 7.5 1.7 13.5 0.3 18 1.8 12 3.2 12 1.4 9 2.5 11.1 2.1 3.9 1.6 6 4.8 9.1 5.6 4.5 4.5 2.4 6 0.6 7.5-3.3 28.5 1.2 24-0.5 30-0.9 19.5 1.4 18 0.9 3 3.8 6 0.8 3-0.4 6-1.6 2.3-4.5 1.1-21 0.4-7.5-1.3-3-1.1-6-3.8-3-1.2-6-1.3-6-0.2-2.5-0.9-5-4.3-6.6-7.7-0.4-3 2-9 0.5-4.5-2.6-31.5 0.7-24-2.2-16.5 0.3-19.5-2.5-13.5-3.2-9-2.8-4.5-2.7-3-7.5-6.7-10.5-7.8-12.2-6.5-1-1.5z"/>
<path fill="#e75263" d="M64.2 649.7l15.3-1.5 18 1.6 13.5 3.3 12 1.5 7.5 2.2 12 2.4 4.5 1.9 12.9 9.6 3.4 3 1.7 2.3 1.9 5.2 0.6 7.5-3.5 28.5 0.1 7.5 1.5 16.5-0.7 15 0.1 15-1.2 19.5 1.2 15 1 6 1.8 3 3.2 2.5 1.4 3.5-0.2 4.5-1.5 3-2.7 1.1-15 0.6-9-0.1-6-1.2-12-6.1-6-1.2-7.5-0.6-5.3-4.5-5.8-7.5-0.4-3 3-10.5 0.4-4.5-3.1-28.5 0.9-24-0.6-7.5-1.8-10.5 0.7-16.5-1.7-12-3.3-10.5-4.2-7.5-4.4-4.5-12.8-10.5z"/>
<path fill="#ec5860" d="M74.6 649.7l4.9-0.7 19.5 1.4 12 3.1 12 1.6 9 2.6 10.5 2.1 4.5 2.1 14.3 11.8 2.1 3 1.6 4.5 0.5 6-0.6 7.5-3.3 22.5 0.1 7.5 2.1 16.5-1.1 15 0.3 15-1.3 12-0.2 7.5 1.6 16.5 1.8 9 1.6 0.9 3 0.3 1.5 1.5 0.6 1.8-0.2 4.5-1.9 2.7-4.5 0.9-19.5 0.3-6.2-0.9-4.3-1.5-6-3.8-3-1.1-13.5-1.9-4.4-3.7-4.5-6-0.7-1.5-0.4-3 4-10.5 0.5-4.5-3.7-28.5 1.1-22.5-0.5-7.5-2.1-12 1-15-1-9-3.4-12-4.4-9-3.9-4.5-12.7-10.5-4.6-4.5-1.8-3 0.4-1.5z"/>
<path fill="#f2625d" d="M75 651.2l3-1.1 3-0.4 18 1.2 10.5 2.8 13.5 1.8 9 2.8 10.5 2.3 3 1.2 12.4 10.4 3.5 4.5 1.6 4.5 0.5 6-0.7 7.5-3 16.5-0.8 7.5 0.4 7.5 2.3 15-1.2 15 0.3 15-1.7 12-0.2 7.5 2 16.5 2.6 10.9 1.5 1.7 3-1 1.5 0.2 1.2 1.7 0.1 3-1.4 3-2.9 1-10.5 0.6-11.2-0.1-6.8-1.3-12-6-13.4-1.7-4.6-4.5-3.1-4.5-0.9-3 0.5-3 4.4-7.5 0.9-4.5-4.3-30 1.3-22.5-0.6-7.5-2-12 1-15-0.5-6-3.3-12-4.7-10.5-4.9-6-11.2-9-4.8-4.5-1.9-3-0.1-1.5z"/>
<path fill="#f66c5c" d="M78.2 651.2l5.8-0.7 15 0.9 10.5 2.7 13.5 1.9 9 2.9 10.5 2.4 3 1.3 3 2.3 7.8 7.3 3.3 4.5 1.5 4.5 0.3 6-1 9-3.4 16.5-0.7 6 0.3 7.5 2.4 10.7 0.4 4.3-1.5 13.5 0.4 15-2.2 15-0.1 7.5 2.2 13.5 3.1 10.5 2.2 4.5 1.5 1.2 3-1.2 1.5 0.5 0 3-1.5 1.7-10.5 1.4-12-0.3-4.5-0.7-4.5-1.4-10.5-5.2-12-0.9-3.3-2.6-4.4-6-0.7-3 0.8-3 6-7.5 0.8-4.5-3.5-18-1.7-12 1.5-21-0.5-7.5-2.2-13.5 1.1-13.5-0.4-6-4.2-13.5-4.9-10.5-4.7-6-11.8-9-4.5-4.5-1.4-3 0.3-1.5z"/>
<path fill="#f9785d" d="M79.5 652.2l3-0.8 3-0.2 15 1 9 2.3 13.5 2.1 9 3 10.5 2.6 3 1.3 3.4 2.7 5.9 6 3 4.5 1.5 6-0.2 7.5-1.5 9-3.7 15-0.9 6 0.5 7.5 2.5 10 0.3 3.5-1.5 13.5 0.2 16.5-2.5 13.5-0.4 7.5 0.9 6 2.3 7.5 7.4 16.5 0.4 1.5-1.4 1.5-4.2 0.8-13.5-0.9-6-1.6-12-5.4-11.7-0.4-1.9-1.5-4.4-6-0.6-3 0.6-1.9 1.5-1.9 6-3.7 1.4-1.5 0.8-3-0.6-4.5-3.9-13.5-2.2-15 1.7-19.5-0.4-7.5-2.4-15 0.9-13.5-0.2-4.5-5.3-15-6.1-12-4.7-5.5-9.2-6.5-5.1-4.5-2-3-0.2-1.5z"/>
<path fill="#fb835f" d="M81.7 652.7l5.3-0.7 13.5 0.7 9 2.3 13.5 2.1 9 3.2 10.5 2.7 3 1.5 3.8 3.2 4 4.5 2.8 4.5 1.3 6-0.9 10.5-2 8.7-4.4 13.8-1.2 6 0.2 6 2.3 10.5 0.3 4.5-1.2 12 0 16.5-3.8 18-0.5 6 0.5 3 1.1 3 12.7 19.5 0 2.4-1.5 1.1-3 0.1-13.8-2.1-8.3-3-7.9-3.6-10.5 0.6-1.9-1.5-3.1-4.5-0.5-3 1-1.5 3-0.8 4.5 1.1 3-0.7 1.9-2.6 1.1-4.5-0.9-6-5.1-9.7-1.3-3.8-1.5-10.5-0.4-7.5 1.6-12 0.1-6-0.8-7.5-2.8-15 0.7-13.5-0.4-4.5-7-16.5-5.7-10.5-5-6-10.5-7-3.9-3.5-1.6-3 0.1-1.5z"/>
<path fill="#fc8c63" d="M84 653.4l6-0.6 10.5 0.5 7.5 1.9 13.5 2.1 10.5 3.9 10.5 2.8 3 1.5 3 2.6 3.5 4.1 2.4 4.5 0.8 3 0.1 4.5-1.8 12-2 6.4-8.5 19.1-3.3 19.5 0.9 13.5 1.9 12-0.3 6-1.2 4.2-1.5 2.8-3 2.2-3 0-7.5-3.2-1.5-1.5-1-3-0.2-4.5 1.2-5 5.1-7 0.3-7.5 1-6-0.2-1.5-1.1-1.5-3.6-2.8-3-4.1-4.1-9.6-1.2-6-0.2-13.5-1.1-4.5-9.3-18-7.6-12-3.2-3-9.3-5.7-3.8-3.3-1.4-3 0.6-1.5zM130.1 807.2l1.9-1.6 1.5 0.2 4.5 2.6 9 2.4 6 4.6 4.4 5.3-1.4 0.6-14.8-3.6-3.5-1.5-6.9-4.5-1.1-1.5z"/>
<path fill="#fd9869" d="M85.5 654.4l4.5-0.7 9 0.1 22.5 4.1 12 4.7 10.5 3.1 2.8 2 2.7 3 2.8 4.5 1 4.5-0.9 9-2.2 9-3.2 6.6-4.5 6.4-4.5 5.4-4.5 4-3 1.4-1.5 0-2.8-1.3-1.2-1.5-1.3-3-1.6-9-1.5-4.5-6.6-10.4-4.9-9.1-6.7-10.5-3.4-4.1-10.3-6.4-3.7-3-0.9-1.5-0.1-1.5z"/>
<path fill="#fea36f" d="M87.2 655.7l4.3-0.9 7.5-0.2 21 3.6 4.5 1.3 9 4.1 9 2.6 2.7 1.5 2.9 3 1.9 3 1.1 3 0.3 3-2.9 13.5-3 6.1-10.5 8.5-3 0.4-1.5-0.9-3.3-5.1-5.7-5.1-4.5-5-5.9-9.4-10.5-15-3.1-2.6-6.2-3.4-4-3-0.8-1.5z"/>
<path fill="#feae77" d="M90.5 657.2l5.2-1.5 4.8-0.1 19.5 3.2 4.4 1.4 7.6 4 12 4.2 3.6 3.8 1.3 3 0.5 3-1.7 7.5-3.4 7.5-3.3 2.7-4.5 0.9-9-1.3-4.5-1.9-3-2.2-3-3.4-15.9-21.8-2.1-1.9-6.7-4.1-1.6-1.5z"/>
<path fill="#feb97f" d="M95.6 658.7l1.9-1.5 3-0.3 19.5 2.6 4.5 1.7 9 4.9 9 3.2 3 2.7 1.5 3.2 0 4.5-1.5 4.1-3 4.7-1.5 1.4-3 1.4-7.5 0.3-4.5-0.9-3-1.2-3-2.2-10.5-12-7.5-10.4-5.5-4.7z"/>
<path fill="#fec488" d="M101.1 660.2l0.9-1 1.5-0.4 6 0 9 1.2 4.5 1.4 9 5.6 10.5 4.8 2 3.4-0.5 4.7-3 4.5-4.5 2.5-7.5 0.4-6-1.7-4.5-3.1-6-5.9-4.6-5.9z"/>
<path fill="#fecd90" d="M105.2 661.7l2.4-1.5 3.4-0.2 10.5 1.8 18.1 11.9 0.9 1.5-0.2 3-2.3 2.8-4.5 1.7-7.5 0.1-4.5-1.4-6-4.2-4.5-4.8-4.3-6.2-1.4-3z"/>
<path fill="#fed89a" d="M108.2 663.2l1.6-1.5 2.7-0.4 4.6 0.4 4.8 1.5 4.2 3 5.7 6 1.2 3-0.7 1.5-2.6 1.5-3.7 0.8-3-0.2-4.5-1.9-4.5-3.7-3-3.5-2.1-3.5z"/>
<path fill="#fde3a5" d="M111.4 664.7l1.1-1.2 3-0.4 6 1.6 4.6 4.5 1 3-0.5 1.5-2.1 1.4-1.5 0.2-4.5-1.3-3-2.2-2.3-2.6-1.7-3z"/>
<path fill="#fceeb0" d="M117 666.5l1.5 0 1.5 0.7 1.5 2-1.5 1.1-1.5-0.5-2-2.1z"/>
</g>
<path d="M101.3 615.2 111.5 620.9 123.3 625.2 135.2 630.2 145 632.5 155.2 636.7M176.3 640.4 195.8 642.9 221.2 645.5 252 646.8" stroke="#ffffff" class="ct"/>
<path d="M37.3 622.6 53.9 631.1 70.9 637.9 87.8 642.9 104.7 648 121.6 651.4 135.2 653.6 145 654.3 148 655M165.3 660.4 187.3 663.2 212.7 665.8 238.1 667.5 252 668" stroke="#ffffff" class="ct"/>
<path d="M37.3 630.2 53.9 634.5 70.9 639.5 87.8 642.9 101.3 645.1 113.2 648.9 125 649.7 135.2 652.6 145 653.6 155.2 655.6 165.3 657 175.5 661.6 187.3 664.1 199.2 668.8 209.3 671.7 214.4 675.9 217.8 682.7 218.1 692.9 216.9 709.8 216.1 728 215.8 791.5M215.8 802.5 215.8 842.5" stroke="#fff200" class="ct"/>
<path d="M37.3 654.8 47.2 660.7 57.3 666.6 64.1 671.7 69.2 678.5 71.7 686.1 72.9 696.3 73.4 709.8 74 728 74.2 755.1M74.6 768.6 74.6 806.7 79.3 810.1 82.7 813.5 92.9 816 101.3 817.7 108.1 822.8 112.3 825.3 123.3 826.2 131.8 830.4 136.9 833 145 834.5 161.9 834.7 173.8 835 183.9 836.3 188.2 838 190.7 842.5" stroke="#fff200" class="ct"/>
<path d="M37.3 637.9 47.2 638.4 57.3 641.2 70.9 643.8 87.8 646.3 101.3 648 109.8 650.9 125 652.6 135.2 654.8 145 656.3 153.5 662.4 163.6 665.8 170.4 669.2 175.5 674.3 178 681 180.2 684.4 179.7 692.9 178 701.3 176.3 711.5 175.3 728 175.1 748.3M175.1 761 175.1 829.6 172.9 832.1 161.9 833 145 833.2 136.9 831.6 131.8 829.6 123.3 825.3 111.5 824.5 105.6 819.4 101.3 814.3 92.9 812.6 92.5 761.9 92 728 91.2 728 90.8 709.8 89.8 696.3 87.8 684.4 84.4 674.3 77.6 666.6 67.5 660.7 53.9 654.8 43.8 648.9 37.3 641.2" stroke="#ffa500" class="ct"/>
<path d="M37.3 648.9 53.9 654.8 70.9 659 87.8 663.2 104.7 668.3 121.6 672.6 135.2 674.3 145 675.4 155.2 677.3M176.3 680.7 195.8 682.7 221.2 684.7 252 686.1" stroke="#ffffff" class="ct"/>
<path d="M37.3 682.7 53.9 688.6 70.9 693.7 87.8 698 104.7 702.2 121.6 707.3 135.2 711.5 145 713 155.2 716.2M176.3 720.8 195.8 723.3 221.2 725.9 252 727.6" stroke="#ffffff" class="ct"/>
<path d="M37.3 728 53.9 733.9 70.9 739.9 87.8 745.8 101.3 749.2 113.2 754.2 125 756.8 135.2 760.2 145 761.9 150 763M167.9 766.6 178.9 769 195.8 772 216.1 773.7 233 774.6 252 775.9" stroke="#ffffff" class="ct"/>
<path d="M37.3 768.6 53.9 775.4 70.9 781.3 87.8 788.1 101.3 791.5 113.2 796.6 125 799.1 135.2 801.6 145 803.3 150 804.8M167.9 809.3 178.9 811.3 195.8 814 216.1 815.7 233 816.4 252 817.7" stroke="#ffffff" class="ct"/>
<path d="M112.3 683.6 109.8 680.2 104.7 672.6 99.6 665.8 91.2 661.6 85.2 656.5 91.2 654.3 101.3 654.3 111.5 656.5 121.6 658.2 131.8 663.2 140.3 665.8 145 667 148.4 670.9 150.9 675.9 150.1 684.4 147.5 694.6 145 699.2 140.3 701.3 133.8 706.4 130.1 703 123.3 698 116.6 691.2" stroke="#ff0000" class="ct"/>
<text x="113.6" y="690.2" font-size="6.36" text-anchor="middle" fill="#ff0000" textLength="3.8" lengthAdjust="spacingAndGlyphs" transform="rotate(45 113.6 688)">1</text>
<text x="74.3" y="764.2" font-size="6.36" text-anchor="middle" fill="#fff200" textLength="3.8" lengthAdjust="spacingAndGlyphs" transform="rotate(90 74.3 762)">3</text>
<text x="175.3" y="757.2" font-size="6.36" text-anchor="middle" fill="#ffa500" textLength="3.8" lengthAdjust="spacingAndGlyphs" transform="rotate(90 175.3 755)">2</text>
<text x="215.6" y="799.2" font-size="6.36" text-anchor="middle" fill="#fff200" textLength="3.8" lengthAdjust="spacingAndGlyphs" transform="rotate(90 215.6 797)">3</text>
<text x="166" y="639.7" font-size="6.36" text-anchor="middle" fill="#ffffff" textLength="13.4" lengthAdjust="spacingAndGlyphs" transform="rotate(8 166 637.5)">0.12</text>
<text x="155.5" y="661.7" font-size="6.36" text-anchor="middle" fill="#ffffff" textLength="13.4" lengthAdjust="spacingAndGlyphs" transform="rotate(8 155.5 659.5)">0.25</text>
<text x="166" y="680.5" font-size="6.36" text-anchor="middle" fill="#ffffff" textLength="13.4" lengthAdjust="spacingAndGlyphs" transform="rotate(8 166 678.3)">0.50</text>
<text x="166" y="719.7" font-size="6.36" text-anchor="middle" fill="#ffffff" textLength="13.4" lengthAdjust="spacingAndGlyphs" transform="rotate(10 166 717.5)">2.00</text>
<text x="155.5" y="766.7" font-size="6.36" text-anchor="middle" fill="#ffffff" textLength="17.2" lengthAdjust="spacingAndGlyphs" transform="rotate(8 155.5 764.5)">10.00</text>
<text x="155.5" y="809.2" font-size="6.36" text-anchor="middle" fill="#ffffff" textLength="17.2" lengthAdjust="spacingAndGlyphs" transform="rotate(8 155.5 807)">40.00</text>
<path d="M119.1 667.8h8.4M123.3 663.6v8.4" stroke="#000" stroke-width="1.1" fill="none"/>
</g>
<rect x="37.5" y="615.2" width="214.5" height="226.2" class="fr"/>
<text x="37.5" y="852.3" font-size="8.46" text-anchor="middle" fill="#1a1a1a" textLength="19.3" lengthAdjust="spacingAndGlyphs">1500</text>
<text x="64.3" y="852.3" font-size="8.46" text-anchor="middle" fill="#1a1a1a" textLength="19.3" lengthAdjust="spacingAndGlyphs">1750</text>
<text x="91.1" y="852.3" font-size="8.46" text-anchor="middle" fill="#1a1a1a" textLength="19.3" lengthAdjust="spacingAndGlyphs">2000</text>
<text x="117.9" y="852.3" font-size="8.46" text-anchor="middle" fill="#1a1a1a" textLength="19.3" lengthAdjust="spacingAndGlyphs">2250</text>
<text x="144.8" y="852.3" font-size="8.46" text-anchor="middle" fill="#1a1a1a" textLength="19.3" lengthAdjust="spacingAndGlyphs">2500</text>
<text x="171.6" y="852.3" font-size="8.46" text-anchor="middle" fill="#1a1a1a" textLength="19.3" lengthAdjust="spacingAndGlyphs">2750</text>
<text x="198.4" y="852.3" font-size="8.46" text-anchor="middle" fill="#1a1a1a" textLength="19.3" lengthAdjust="spacingAndGlyphs">3000</text>
<text x="225.2" y="852.3" font-size="8.46" text-anchor="middle" fill="#1a1a1a" textLength="19.3" lengthAdjust="spacingAndGlyphs">3250</text>
<text x="252" y="852.3" font-size="8.46" text-anchor="middle" fill="#1a1a1a" textLength="19.3" lengthAdjust="spacingAndGlyphs">3500</text>
<text x="31.6" y="827" font-size="8.46" text-anchor="end" fill="#1a1a1a" textLength="9.5" lengthAdjust="spacingAndGlyphs">13</text>
<text x="31.6" y="792.2" font-size="8.46" text-anchor="end" fill="#1a1a1a" textLength="9.5" lengthAdjust="spacingAndGlyphs">14</text>
<text x="31.6" y="757.4" font-size="8.46" text-anchor="end" fill="#1a1a1a" textLength="9.5" lengthAdjust="spacingAndGlyphs">15</text>
<text x="31.6" y="722.6" font-size="8.46" text-anchor="end" fill="#1a1a1a" textLength="9.5" lengthAdjust="spacingAndGlyphs">16</text>
<text x="31.6" y="687.8" font-size="8.46" text-anchor="end" fill="#1a1a1a" textLength="9.5" lengthAdjust="spacingAndGlyphs">17</text>
<text x="31.6" y="653" font-size="8.46" text-anchor="end" fill="#1a1a1a" textLength="9.5" lengthAdjust="spacingAndGlyphs">18</text>
<text x="31.6" y="618.2" font-size="8.46" text-anchor="end" fill="#1a1a1a" textLength="9.5" lengthAdjust="spacingAndGlyphs">19</text>
<rect x="265.9" y="615.2" width="11.7" height="226.2" class="cb"/>
<text x="281.9" y="800.4" font-size="6.47" text-anchor="start" fill="#1a1a1a" textLength="8.9" lengthAdjust="spacingAndGlyphs">0.2</text>
<text x="281.9" y="754.5" font-size="6.47" text-anchor="start" fill="#1a1a1a" textLength="8.9" lengthAdjust="spacingAndGlyphs">0.4</text>
<text x="281.9" y="708.6" font-size="6.47" text-anchor="start" fill="#1a1a1a" textLength="8.9" lengthAdjust="spacingAndGlyphs">0.6</text>
<text x="281.9" y="662.7" font-size="6.47" text-anchor="start" fill="#1a1a1a" textLength="8.9" lengthAdjust="spacingAndGlyphs">0.8</text>
<text x="281.9" y="616.8" font-size="6.47" text-anchor="start" fill="#1a1a1a" textLength="8.9" lengthAdjust="spacingAndGlyphs">1.0</text>
<path d="M37.5 841.4v2.6M64.3 841.4v2.6M91.1 841.4v2.6M117.9 841.4v2.6M144.8 841.4v2.6M171.6 841.4v2.6M198.4 841.4v2.6M225.2 841.4v2.6M252 841.4v2.6M37.5 824h-2.6M37.5 789.2h-2.6M37.5 754.4h-2.6M37.5 719.6h-2.6M37.5 684.8h-2.6M37.5 650h-2.6M37.5 615.2h-2.6M277.6 798.8h1.7M277.6 752.9h1.7M277.6 707h1.7M277.6 661.1h1.7M277.6 615.2h1.7" class="tk"/>
<text x="144.8" y="869.4" font-size="10.60" text-anchor="middle" fill="#1a1a1a" textLength="80.9" lengthAdjust="spacingAndGlyphs">Temperature [K]</text>
<text x="10.9" y="741.9" font-size="10.60" fill="#1a1a1a" text-anchor="middle" textLength="76.7" lengthAdjust="spacingAndGlyphs" transform="rotate(-90 10.9 741.9)">log<tspan font-size="7.4" dy="2">10</tspan><tspan dy="-2">(N [cm</tspan><tspan font-size="7.4" dy="-3.8">−2</tspan><tspan dy="3.8">])</tspan></text>
<text x="303" y="728.3" font-size="10.60" fill="#1a1a1a" text-anchor="middle" transform="rotate(-90 303 728.3)">min(χ<tspan font-size="6.6" dy="-4">2</tspan><tspan dy="4">)/χ</tspan><tspan font-size="6.6" dy="-4">2</tspan></text>
<text x="153.5" y="895.6" class="cap" text-anchor="middle" textLength="41.1" lengthAdjust="spacingAndGlyphs">(e) CO</text>
</g>
<!-- panel f -->
<g>
<clipPath id="clf"><rect x="369.8" y="615.2" width="213.6" height="225.3"/></clipPath>
<g clip-path="url(#clf)"><g filter="url(#bl)">
<rect x="365.3" y="610.7" width="222.6" height="234.3" fill="#010106"/>
<path fill="#030312" d="M365.3 610.7l223.5 0 0 235.5-90.9 0-11.1-3.8-9-4.2-7.5 0.9-6-0.8-4.5 1.6-1.5 0.1-5.8-2.8-7.7-1.2-9-0.5-4.5 1-3-0.1-3-1.2-5-4-5.5-1-3-1.3-4.6-5.2-4.4-2.1-3-2.4-3.9-6-4.9-4.5-3.2-8.3-5.5-6.7-0.8-3 0.1-4.5-3.2-7.5-1-7.5-2.4-6-0.7-8.6-2.2-4.9-0.8-3 0.9-7.5-0.4-18-1.9-13.5-0.4-7.5-4.2-12.1z"/>
<path fill="#08071e" d="M365.3 610.7l223.5 0 0 235.5-76.4 0-4.6-1.4-9-0.9-10.5-2.4-10.5-4.2-7.5 0.8-6-1-6 1.1-6-2-16.5-1.9-6 0.5-3-0.8-7-4.3-6.5-1.8-6-5.5-6-3.7-4.5-6.3-4.8-5.2-2.7-6.4-5.4-8.6-1.1-6-3.1-7.5-1.1-7.5-2.3-6-1-9-2.5-7.5 0.5-7.5-0.6-6 0.2-7.5-2.4-18-0.2-7.5-2.9-7.5-2.1-8.5z"/>
<path fill="#0e0b2b" d="M365.3 610.7l223.5 0 0 235.5-67.8 0-8.7-3.2-15-1.2-10.5-2-9-3.2-7.5 0.6-6-1-6 0.7-4.5-1.3-18-2.1-6 0-3-0.9-6-3.4-7.5-2.7-4.8-4.3-6.6-4.5-8.6-10.5-8.1-15-1.9-7.3-2.6-6.2-1.2-7.5-2.4-7.5-0.9-7.5-2.3-7.5 0.3-6-0.8-7.5 0.1-7.5-2.5-18-0.1-7.5-2.8-7.5-2.8-12.3z"/>
<path fill="#150e38" d="M365.3 610.7l223.5 0 0 235.5-46.5-0.2-19.5-2.6-12-3.1-10.5 0.2-12-1.7-10.5-3-6 0.6-6-1-7.5 0.5-9.2-1.7-19.3-1.8-15-6.2-13.1-10-8.3-10.5-7.7-15-4.5-13.5-0.9-6-2.4-7.5-1-7.5-2.1-7.5-0.8-21-2.4-18-0.1-7.5-2.8-7.5-3.4-17z"/>
<path fill="#1d1147" d="M365.3 610.7l223.5 0 0 235.5-3.7 0-5.2-1.5-12.1-1.7-27-0.9-16.5-1-13.5-2.9-12 0.6-12-1.4-7.5-2-9 0.1-6-0.8-6 0.4-28.5-3.7-15-6.2-12-9-8.5-10.5-7.2-13.5-4.7-13.5-6.7-30-1.1-21-2.5-18 0-7.5-3.1-9-2.2-14.5-1.5-5.9z"/>
<path fill="#241253" d="M365.3 610.7l223.5 0 0 230.6-19.5-1.9-46.5-0.9-12-2.1-12 0.7-12-0.9-9-1.6-6 0.3-6-0.8-7.5 0.2-27-3.5-3-0.7-13.5-5.9-12-9.2-7.6-9.3-8-15-4.4-13.5-6-27-1.6-22.5-2.5-18-0.1-7.5-3-9-2.7-19.5-1.6-4.9z"/>
<path fill="#2d1161" d="M365.3 610.7l223.5 0 0 226-16.5-0.9-13.5 0.5-16.5-0.4-19.5 0.2-13.5-1.3-9 0.8-13.5-0.5-7.5-1.1-22.5-0.6-19.5-2.6-9-1.7-13.5-5.8-12-9.3-7.8-9.8-5.1-9-2.6-6-3.5-10.5-6.3-28.5-1.9-24-2.3-16.5-0.1-7.5-3-9-3.4-24.2-1.5-3.1z"/>
<path fill="#38106c" d="M365.3 610.7l223.5 0 0 221.5-18-0.1-12 1-18-0.1-18 0.9-13.5-0.4-9 0.7-43.5-1.5-19.5-2.5-9-2-7.7-3-5.8-2.9-6.5-4.6-5.5-4.8-7.5-9.3-4-6.9-3.4-7.5-3.4-10.5-6.3-28.5-1.8-22.5-2.5-18-0.2-7.5-3.4-12-2.6-21-0.9-3.2-1.5-2.4z"/>
<path fill="#420f75" d="M365.3 610.7l223.5 0 0 217.6-21 0.3-12 1.4-55.5 3-28.5-0.2-15-0.7-19.5-2.6-7.5-1.8-7.1-2.5-10.9-5.8-9-7.4-3-3.3-5.3-7.5-6-12-3.4-10.5-5.9-27-2.4-25.5-2.3-16.5-0.2-7.5-3.4-12-1.2-13.5-1.4-8.8-1.5-4.1-1.5-2.1z"/>
<path fill="#4c117a" d="M365.3 610.7l223.5 0 0 213.9-7.5 0.5-15-0.2-24 3.5-25.5 2.6-16.5 1-27 0.2-15-0.7-21-2.8-13.5-4.1-12-6.2-9-7.4-3.4-3.8-5.6-8.1-5.3-11.4-2.8-9-5.5-25.5-2.5-25.5-2.5-18-0.3-7.5-2.3-7.5-1.3-6-0.8-12-1.5-9-1.5-4.5-2.2-3.3z"/>
<path fill="#54137d" d="M365.3 610.7l223.5 0 0 209.4-6 1.3-12-0.8-6 0.4-22.5 5.2-10.5 1.1-16.5 2.8-30 1.3-12 0.1-15-0.6-19.5-2.8-14.7-4.4-12.3-6.3-9-7.3-3-3.4-6-8.5-5.4-12-1.7-6-5.7-27-2.7-27-2.5-17.6-0.2-6.4-3.5-13.5-1.5-16.5-1.7-7.5-3.6-6.7z"/>
<path fill="#5d177f" d="M365.3 610.7l223.5 0 0 70.5-1.5 1.2-2.1 3.3-3.9 10.7-4.2 31.3 0.2 7.5 2.1 21-0.2 10.5-1.3 13.5 0 6 1.9 12 4.2 9 0 3-0.8 1.5-1.9 1.5-1.5 0.4-9 0.6-6 1.2-22.5 8.4-12 1.7-13.5 3.4-16.5 1.2-27 0.8-19.5-1.2-10.5-1.5-10.5-2.5-9-3.2-10.5-5.1-10.5-8.2-8.4-11-5.5-12-1.7-6-5.4-26.9-2.5-25.6-2.5-18-0.5-7.5-3.4-13.5-1.5-16.5-1.7-7.5-4.4-8.7z"/>
<path fill="#671b80" d="M365.3 610.7l223.5 0 0 30.3-4.5 1-4.5 1.8-4.5 2.4-4.5 3.2-3 3.1-2.1 3.2-2.6 7.5-0.8 12 1.4 19.5-0.1 4.5-1.4 4.5-5.7 9-2.5 6-1.1 7.5-0.1 19.5-0.8 7.5-1.6 4.5-4.5 7.5-2.1 4.9-1.5 5.6-0.9 6 0.1 6 1.5 4.5 2.8 3 7 4.7 2.5 2.8 0.9 3-0.8 3-5.4 6-5.8 4.5-3.4 1.8-10.5 2.3-15 4.8-39 2.1-16.5-0.6-16.5-2.1-10.5-2.7-6-2.1-13.5-6.3-11.5-9.2-7.7-10.5-4.8-10.9-1.2-4.1-5.1-27-5.9-52.5-2.8-10.6-1.8-17.9-2-9-5.2-10.9z"/>
<path fill="#701f81" d="M365.3 610.7l223.5 0 0 5.9-4.5 0.8-6 2.4-7.5 4.4-7.5 5.4-7.5 6.3-4.5 4.7-3 4.6-1.5 4.3-0.4 6.2 0.9 16.5-0.5 9-2 9-4 11-1.1 7-0.1 9 1.3 18-0.3 7.5-1.1 6-4.4 15-2.6 21 0 9 0.6 4.5 1.7 3.4 4.4 5.6 1.4 3-0.1 3-1.8 3-2 1.5-15.7 7.5-7.2 2.2-37.5 2.1-18-0.7-16.5-2.4-9-2.4-7.5-2.7-12-5.7-9-6.8-3-3.1-7.4-10.5-3.9-9-1.4-4.5-4.9-28.5-5.5-49.5-3.1-13.5-1.5-15-2.4-10.5-5.9-13.6z"/>
<path fill="#792282" d="M365.3 610.7l195.3 0-2.2 3-17.6 18-3 4.7-1.8 5.8-0.2 7.5 2.3 16.5 0.2 9-1.2 9-4.1 13.5-0.8 4.5-0.1 15 1.7 16.5 0 7.5-0.9 7.5-3.2 13.5-2.1 21 0.5 15 0.7 3.1 3 7.4 0.5 3-0.8 3-1 1.5-5.1 4.5-7.4 4.5-7.2 1.7-37.5 1.9-15-0.7-13.5-1.8-16.5-4.5-15-7-9.8-7.6-6.7-8.2-3.1-5.3-3.2-7.5-1.3-4.5-4.4-28.8-2.2-23.7-3.3-25.5-2.8-12-1.7-15-2.9-12-6.6-18 0.5-16.5z"/>
<path fill="#832681" d="M365.8 610.7l173.2 0-1.6 3-5.6 6.1-3 4.4-1.8 4.5-0.9 4.5 0.3 7.5 4.6 22.5 0.7 12-0.8 9-3.5 18-0.6 16.5 1.6 15 0.2 9-0.7 7.5-2.2 12-1.9 19.5 0.7 15 2.8 15-1.4 4.5-2.2 3-3.2 3-3.7 2.3-4.5 1.3-34.5 2.2-16.5-0.4-16.5-1.9-10.5-2.5-6-2-15-7-9-7-7.5-9.1-3-5.4-3-7.1-1.1-3.9-3.6-28.5-2.2-25.5-3.2-24-2.6-10.5-3.1-19.5-2.4-9-4.5-12-1.4-6-0.3-4.5 0.6-13.5z"/>
<path fill="#8b2981" d="M367 610.7l143.1 0 6.8 25.5 7 19.5 1.6 9 0.7 9-0.2 9-2.1 16.5-1.4 18 1.5 16.5 0.1 13.5-2.1 16.5-1.4 19.5 0.4 9 2.4 19.5-0.5 3-1.2 3-3.7 4.5-2.7 1.7-4.5 1.2-34.5 2.2-15-0.3-18-2.2-9-2.2-7.5-2.5-13.5-6.5-9-7.1-7.5-9.3-4.6-9.5-1.9-6-3-30-1.6-24-3.3-24-2.3-9-3.3-18-2.9-10.5-4.5-12-1.6-6-0.4-6 0.5-12z"/>
<path fill="#942c80" d="M367.8 610.7l122.5 0 3.6 6 12.4 14.9 9 16.1 2.8 6.5 1.7 7.5 1.5 15-0.1 10.5-2.3 31.5 1 12 0.3 19.5-1.8 15-0.8 21 1.9 18 0.3 7.5-1 6-1.6 3-1.5 1.5-3.1 1.5-18.3 1.9-19.5 1-13.5-0.3-18-2.1-15-4.1-13.5-6.2-10.5-8.1-7.2-9.1-4.8-10.1-1.4-4.9-3.4-54-3-24-6.1-25.5-8.2-24-1.5-6-0.1-18z"/>
<path fill="#9e2f7f" d="M368.6 610.7l103.6 0 10.1 11.8 16.5 12.1 6 6.9 6.5 9.7 2.5 5.8 3 24.2 0 16.5-1.1 19.5 0.6 12-0.7 10.5 0.9 12-1.7 12 0.7 13.5-1.1 12 1.8 16.5-0.8 13.5-1.6 2.2-3 1.3-15 1.9-22.5 1.2-12-0.1-19.5-2.4-13.5-3.7-15-7.1-8.5-6.8-7.1-9-4.3-9-1.9-6-2.1-54-3-25.5-2.8-12-12.3-35.2-1.8-6.8z"/>
<path fill="#a8327d" d="M369.3 610.7l82.4 0 2.1 4.6 4.5 4.3 17.5 10.6 11 5.6 9 5.4 3 2.9 7.5 9.6 1.9 3.5 0.8 3 3.2 25.5 0.5 40.5-1.5 13.5 1.1 12-1.7 12 1.8 13.5-1.8 13.5 1.9 15-0.5 13.5-1.3 1.5-5.3 1.5-9.7 1.5-22.4 1.3-12 0-18-1.8-13.5-3.5-15-6.7-9.3-7.3-7.2-9.1-4.5-9.3-1.7-5.6-1.1-54-2.3-24-3-13.5-8.4-21-6.7-19.5-0.6-6 0.1-12z"/>
<path fill="#b2357b" d="M370 610.7l74.4 0 0.9 3 2.4 4.5 6.1 6.4 8.6 5.6 27.3 15 5.4 4.5 5.2 6.4 3.2 7.1 2.8 15 0.5 7.5-0.6 13.5 2.3 21-0.1 7.5-1.7 12 0.1 12-1.1 10.5 2.4 15-2.7 16.5 0.4 4.5 2 6 0.7 4.5 0.1 7.5-1.2 3-2.9 1.5-8.7 1.9-28.5 1.8-19.5-1-12-2.3-9-2.9-13.5-6.6-8.7-7.4-6.5-9-4.1-9-1.2-4.5-0.3-52.5-2.2-25.5-3.3-15-9.7-22-5.8-17-0.7-6z"/>
<path fill="#ba3878" d="M370.6 610.7l68.2 0 1.4 4.5 2.4 4.5 3.5 4.5 3.2 3.2 8.1 5.8 20.4 11.5 7.5 4.8 5.5 4.7 4.7 6 3.3 7.5 2.2 10.5 0.5 9-1 13.5 2.7 12 0.8 7.5-0.1 6-1.9 13.5-1.8 19.5 0.3 4.5 2.2 13.5-0.3 4.5-2.2 12 0 4.5 4.2 9 1.2 6-0.8 4-2.2 2-4.1 1.5-5.7 1-28.5 2.1-16.5-0.9-13.5-2.5-9-3.2-12-6-8.1-7-6.4-9-3.6-7.5-1.7-6 0.6-30-0.2-22.5-0.8-13.5-1.5-13.5-2.9-13.5-9.9-20.8-6.4-18.2-0.7-6z"/>
<path fill="#c43c75" d="M371.3 610.7l62.7 0 1.3 4.5 2.2 4.5 3 4.5 4.3 4.7 9 7 25.5 15.6 6.6 5.7 4.7 6 3.5 7.5 2.1 9 0.6 7.5-0.1 13.5 2.6 18-0.1 7.5-2.3 16.5-1.3 16.5 1.7 18-0.9 19.5 1.1 4.5 3.8 7.5 1 4.5-0.8 3-1.4 1.5-2.9 1.5-5.9 1.4-27 2.5-16.5-0.6-13.5-2.5-9-3.2-12-6.1-7.6-6.5-6.2-9-4.1-9-1.2-4.5 1-28.5-0.1-21-0.7-16.5-1.5-13.5-3.3-15-10.8-21.8-5.4-15.7-0.8-6z"/>
<path fill="#cd4071" d="M371.9 610.7l57.8 0 1.3 4.5 3 6 3.3 4.9 4.5 5.1 8 6.5 17.5 10.9 8.1 5.6 6.5 6 4.5 6 3.5 7.5 2.2 9 2.6 33 0 9-2.2 18-1 16.5 1.6 36 1.4 6 4.1 10.5-0.3 3-2.5 2.5-6.1 2-25.4 3.2-16.5-0.4-12-2-9-2.9-12-5.7-8.6-7.2-5.9-9-3.5-7.2-1.8-6.3 1.2-27 0.1-15-0.7-22.5-1.6-16.5-1.7-9-1.9-6-11.4-22.5-4.7-13.5-0.8-6-1.4-21z"/>
<path fill="#d6456c" d="M372.6 610.7l53.3 0 1.9 6 3.1 6 3.4 5 4.5 5.1 7.5 6.5 18.3 11.9 7.2 5.3 6.8 6.7 4.2 6 2.9 6 1.8 6 1.4 7.5 1.3 12 0.5 19.5-2.4 24-0.5 16.5 1.7 31.5 1.2 6 3.6 10.5 0.5 3-1.1 3-1.9 1.5-6.5 2-22.5 3.6-15-0.2-13.5-2.3-7.5-2.5-13.1-6.6-7-6-6.6-10.5-3.2-7.5-1-4.5 1.4-25.5 0.2-15-0.6-22.5-1.7-18-1.7-9-2.3-7.5-3.4-7.2-7.5-13.5-4.9-13.8-1-6-1.7-21z"/>
<path fill="#df4a68" d="M373.2 610.7l49.2 0 1.9 6 3 6 4 6 4.5 5.3 9 8 16.1 10.7 7.8 6 5.9 6 4.7 6.8 2.5 5.2 2.4 7.5 2.6 16.5 0 18-2.1 24-0.4 19.5 1.3 25.5 1.3 7.5 3.5 12 0.4 3-0.9 3-1.6 1.5-3.3 1.5-20.7 4.7-7.5 0.4-12-0.5-13.5-2.8-6-2.2-9-4.3-7.6-5.8-3.7-4.5-5.5-10.5-2.7-9 1.5-25.5 0.2-16.5-0.7-24-2.2-19.5-1.6-7.5-2.1-6-2.8-6-8.4-15-4.3-12-1.1-6-1.9-19.5z"/>
<path fill="#e75263" d="M373.8 610.7l45.4 0 1.6 5.3 3.2 6.7 3.9 6 4.9 6.1 9 8.5 15.9 10.9 7.6 6 5.7 6 5.1 7.5 2.7 6 1.9 6 1.8 9 0.8 7.5-0.2 16.5-1.8 25.5 0 33 1.2 12 4.1 16.5 0.3 3-0.9 3-3.8 3-13.6 4.5-7.3 1.4-13.5 0.2-10.5-1.6-10.5-3.1-12-5.8-7.1-6.1-2.2-3-5.7-11.9-2-7.6 1.5-25.5 0.3-15-0.8-25.5-2-19.5-1.6-7.5-2.6-7.5-2.8-6-8-14-4.3-11.5-1.2-6-2.3-19.5z"/>
<path fill="#ec5860" d="M374.5 610.7l41.7 0 1.6 5.2 3.2 6.8 3.8 6 5 6.5 10.2 10 15.3 10.8 7 5.7 6.7 7.5 4.6 7.5 3.8 10.5 2.2 13.5 0.1 13.5-1.6 27 0 37.5 1.1 10.5 3.3 13.5 0.6 4.5-0.8 3-1.1 1.5-4.4 3-9.5 3.8-7.5 1.6-12 0.2-12-1.7-9-2.8-11.6-5.6-7-6-2.2-3-5.3-12-1.8-7.5 1.5-25.5 0.3-15-0.9-27-2.2-19.5-1.6-7.5-2.7-7.5-10.6-19.5-4.1-10.5-1.3-6-2.7-19.5z"/>
<path fill="#f2625d" d="M375.1 610.7l38.4 0 1.3 4.7 3.4 7.3 4.1 6.6 5.3 6.9 9.7 10 16.5 12 6 5.1 6.3 7.4 5.1 9 3.3 10.5 1.7 12 0.1 12-1.2 25.5 0 40.5 1.1 10.5 3 15-0.5 3-2 3-4 3-6.1 3-6.8 1.8-10.5 0.5-15.7-2.3-8.3-2.9-10.5-5.2-6.2-5.4-2.8-4.5-4.6-12-1.2-6 1.7-39-0.9-28.5-2.1-19.5-1.9-8.6-2.8-7.9-10.6-19.5-4-10.5-4.2-24z"/>
<path fill="#f66c5c" d="M375.8 610.7l35.1 0 1.3 4.5 3.5 7.5 4.6 7.5 5 6.5 10.5 11.4 15 11 6.5 5.6 6.2 7.5 4.1 7.5 3.5 10.5 1.7 12-0.6 78 0.8 10.5 2.4 15-0.6 3-1.9 3-3.4 3-5.5 3-5.7 1.3-10.5 0.5-12-1.6-10.5-3.4-10.5-5.3-5.7-5-2.8-4.5-4-12-1.1-6 1.6-39-1-28.5-2-19.5-2-9-3.2-9-10.5-19.5-3.8-9.8-4.5-23.2-0.4-7.5z"/>
<path fill="#f9785d" d="M376.5 610.7l31.9 0 1.3 4.5 3.6 7.5 9 13.5 12 13.5 15 11.3 5.8 5.2 5.9 7.5 3.9 7.5 3.2 10.5 1.5 12 0 78 0.5 12 1.5 12-0.4 3-1.5 3-2.8 3-4.1 2.5-4.5 1.2-10.5 0.7-10.5-1.2-6.3-1.7-5.7-2.1-10.5-5.3-5.2-4.6-2.8-4.5-3.3-12-1-6 1.4-40.5-1.2-30-2-18-2.2-9-3.2-8.9-10.5-19.5-3.5-9.1-4.9-22.5-0.4-7.5z"/>
<path fill="#fb835f" d="M377.2 610.7l28.9 0 1.4 4.5 2.8 6.1 4.5 7.6 5.2 7.3 12.8 15 13.7 10.5 6.6 6 4.7 6 4 7.5 3.1 10.5 1.6 12 0.8 43.5-0.3 46.5 1.2 13.5-0.5 3-1.6 3-1.4 1.5-3.4 2.1-3 0.9-10.5 0.9-10.5-1.1-5.1-1.3-6.9-2.4-10.2-5.1-5-4.5-2.8-4.5-3.4-18 1.1-40.5-1.4-31.5-1.8-16.5-2.1-9-3.2-9-11.1-21-3.5-9-4.9-21-0.4-7.5z"/>
<path fill="#fc8c63" d="M377.9 610.7l26.1 0 1.4 4.5 3.4 7.1 8.9 13.9 13.6 16.4 13.6 10.6 6.3 6 4.4 6 3.8 7.5 2.1 7.5 1.7 10.5 1.6 45-0.4 15 0.5 18-0.8 16.5 1.1 13.5-1.2 4.5-3.5 3-3.7 1-9 1-10.5-1.1-3.9-0.9-8.1-2.8-9-4.3-5.7-4.9-2.2-3-1.3-4.5-1.7-15 0.7-40.5-1.4-31.5-1.8-16.5-2.1-9-3.7-10.5-11.1-21-4.2-11.6-4.3-18.4-0.3-6z"/>
<path fill="#fd9869" d="M378.7 610.7l23.4 0 1.3 4.5 3.7 7.5 9.2 14.4 13.9 17.1 13.1 10.5 4.8 4.5 4.6 6 3.8 7.5 2.1 7.5 1.8 10.5 2 45-0.7 15 0.9 18-1.1 16.5 1.3 15-0.7 3-1.2 1.5-2.6 1.4-12 1.6-9-1-7.5-2-13.5-6-5.2-4.5-2.3-3-1-4.5-0.8-13.5-0.2-21 0.6-19.5-1.9-37.5-1.5-12-2.1-9-3.5-10.5-5.2-9-6.7-13.5-4.3-12-4-16.5-0.3-6z"/>
<path fill="#fea36f" d="M379.6 610.7l20.6 0 1.4 4.5 4.2 8.5 9 14 14.3 18 12.8 10.5 4.5 4.5 4.3 6 3.6 7.5 1.6 6 1.9 12 0.8 25.5 1.2 18-0.7 16.5 0.9 16.5-0.9 16.5 1.7 16.5-0.5 1.5-1.5 1.5-2 0.9-6 1.3-4.5 0.3-9-0.9-10.7-3.1-10.3-4.9-4.7-4.1-2.3-3-0.8-3 0.1-21-0.5-16.5 0.6-19.5-1.8-33-1.7-15-2.2-9-3.5-10.5-6-10.5-5.7-12-4.6-12-4.3-16.5-0.3-6z"/>
<path fill="#feae77" d="M380.5 610.7l18 0 2.1 6 3.7 7.3 8.7 13.7 15.1 19.5 12.2 10.4 4.4 4.6 4.1 6 2.8 6 1.7 6 1.9 12 0.9 34.5 0.8 10.5-0.3 15 0.2 30 2.3 18-0.7 3-2 1.5-5.2 1.5-4.9 0.5-9-0.8-10.5-3.1-10.5-4.9-4.2-3.7-2.2-3-0.9-4.5 1.2-18-0.7-18 0.7-19.5-2.2-34.5-1.4-12-2-9-3.9-12-6.9-12-6.9-15-3.6-10.3-3-10.5-0.8-4.7-0.2-4.5z"/>
<path fill="#feb97f" d="M381.7 610.7l15 0 6 13.5 8.5 13.5 15.6 20.5 12 10.8 4.3 4.7 3.8 6 2.6 6 2.3 10.5 1.1 10.5 0.4 16.5-0.4 15 1.3 15-0.8 28.5 4 28.5-1.1 3-2.7 1.5-4.3 1.2-4.5 0.2-7.5-0.7-9-2.6-12-5.3-3.6-3.3-2.4-3.3-0.6-2.7 0-3 2.2-16.5-1-18 0.9-19.5-2.5-34.5-1.3-10.5-1.9-9-4.2-13.5-1.3-3-5.8-9-7-15.7-3.1-8.3-3.1-10.5-1.3-6 0-5.7z"/>
<path fill="#fec488" d="M383 610.7l11.8 0 7.1 15 8.4 13.2 15 20.1 14.9 14.7 4 6 2.7 6 2.7 12 1 13.5 0.2 13.5-1 15 1.5 10.5 0.3 7.5-0.5 10.5-1.3 12 6.1 28.5-0.6 3.2-1.2 1.3-3.1 1.5-4.7 0.8-7.5-0.4-12.5-3.4-10-4.7-4.4-4.3-1.4-3 0.2-6 2.6-12 0.5-4.5-1.3-16.5 1.1-19.5-1.5-12-2.3-30-1.6-9-5.1-16.5-2.2-4.5-4.1-5.7-9.5-21.3-5.8-19.5-0.4-4.5 0.3-3z"/>
<path fill="#fecd90" d="M384.9 610.7l7.5 0 8.6 16.5 7.7 12 15.1 20.5 14.8 15.5 3.7 6 2.5 6 2.5 12 1 16.5-0.1 10.5-1.1 13.5 1.7 12 0.2 7.5-2.3 21 0.8 4.5 5.9 18 1 6-0.8 3-1.7 1.5-2.6 1.1-3 0.5-7.5-0.3-13.5-3.8-9-4.2-3.8-3.8-1.4-3 0.4-6 3.6-12 0.6-4.5-1.4-18 1.1-19.5-1.8-12-2.1-27-2-10.5-5.2-16.5-2.1-4.5-4.5-6-9.8-22.5-4.6-14.8-1-4.7-0.1-4.5 1-3z"/>
<path fill="#fed89a" d="M387.8 611.8l1.5 0.1 1.5 0.8 2.3 2.5 6 12 7.7 12 15.5 21.4 14.6 16.1 3.4 6 2.3 6 1.9 9 1 10.5 0.2 15-1.2 16.5 2 18-0.4 6-2.2 12-0.2 4.5 0.8 4.5 6.3 15.2 2 7.3-0.2 3-0.9 1.5-3.9 2.1-9-0.1-13.5-3.6-9-4.1-3.1-3.3-1.5-3 0.7-6 4.6-12 0.9-6-1.7-16.5 1.3-19.5-2.1-12-1.8-24-2.3-12-5.6-18-2.1-4.5-6.5-9-3.1-9-5-10.5-4.4-15-1.2-6 0.2-3 1.2-2.6z"/>
<path fill="#fde3a5" d="M387.8 614.7l1.5 0.1 2.3 1.9 5.4 10.5 9.9 15 13.9 19.5 13.1 15 3.6 6 2.3 6 1.9 9 1 10.5 0.4 15-1.3 18 2 16.5-0.5 6-2.7 12-0.3 4.5 1.5 6 7.5 14.7 1.9 6.3-0.5 3-1.2 1.5-3.2 1.3-7.5-0.1-6-2.6-6-0.5-7.2-2.6-4.5-3-2.2-3-0.5-1.5 0.1-3 0.8-3.1 5.8-11.9 1.4-6-2.1-16.5 1.3-19.5-2.4-13.5-1.8-22.5-2.5-12-6.3-19.5-2.6-4.5-5.8-7.3-3.5-10.7-5-10.5-4.8-19.5 0.6-3 0.7-1.1z"/>
<path fill="#fceeb0" d="M389.3 620.4l4.1 6.8 18.4 24.4 7.5 11.6 12 14.2 3.1 5.3 2.4 6 1.9 9 1 12 0.4 15-1.5 16.5 2 13.5 0.2 4.5-0.9 6-3.6 10.5-0.3 4.5 1.9 6 10.7 18 0.6 4.5-0.7 1.5-2.2 1.5-3 0.4-4.7-0.4-2.6-1.5-3.2-2.7-6 1.4-5.7-1.7-3.3-1.4-1.9-1.6-2.7-4.5 0.1-3 1.5-4.2 8.2-12.3 1-4.5-2.9-15-0.1-4.5 1.6-15-2.9-15-1.6-19.5-2.2-12-5-13.5-2.5-9-2.4-4.5-6.6-7.5-3.5-12-4.5-9-1.2-10.5-1.3-6z"/>
<path fill="#fcf9bb" d="M395.3 635.6l2.6 2.1 4 6 7 7.5 3.1 4.5 5 9 11.3 13.4 3.3 6.1 2 6 1.7 10.5 1.3 22.5-0.5 7.5-2.2 12 3.1 12 0.4 4.5-1.6 6-1.5 2.3-3 2.4-1.5 0-1.5-0.8-1.5-1.8-1.5-3.1-0.8-3.5 0.1-6 2.5-12-0.8-4.5-3.2-10.5-1.7-19.5-2.4-12-2.1-6-4.1-9-3.2-12-2.3-3-5.1-4.5-1.9-3-2.3-12-4.2-7.5 0-2.3zM414.8 795l3-5 4.5-4.3 4.5-2.4 3 0.4 4.5 4.5 10.5 14.1 1.8 3.4-0.1 3-1.7 1.5-4.9 0-2-1.5-2.1-3.3-1.5-0.7-1.5 0-6 3-3-0.3-4.5-1.6-2.5-1.6-2.3-3-0.5-3z"/>
</g>
<path d="M372 615.2 372.5 640.2 373.4 665.3 374.2 682.1 375 698.9 376.4 715.6 378 728 380.9 741.4 385.9 754.8 392.6 766.6 401 776.6 411.1 783.3 422 785.9 433.7 790.9 445.5 793.7 457.2 794.7 463.9 796.8 477 796.8 493.8 796.8 498 798.8 513.1 798.9M530.3 798.9 583.3 798.9" stroke="#ffffff" class="ct"/>
<path d="M376.4 615.2 377 640.2 378 665.3 379.2 682.1 380.9 698.9 384.3 713.9 388.4 724 390.1 728 395.2 736.4 402.7 744.8 413.6 752.3 427 758.2 440.4 761.5 452.2 764.1 463.9 764.9 470.6 766.9 477 767.2 492.9 767.1 497.1 768.6 513.1 768.9M530.3 769.1 583.3 769.1" stroke="#ffffff" class="ct"/>
<path d="M369.9 647.7 372.5 656.9 376.7 668.7 381.7 680.4 385.9 690.5 388.4 702.2 390.1 715.6 391 728 391.5 753.2 391.8 783.3 396.8 795.1 405.2 805.1 417 813.5 430.4 819.4 445.5 823.3 463.9 825.3M472.3 825.3 477 825.1 493.8 824.4 513.1 821.9 511.9 816.9 513.6 803.5 511.4 790 513.6 778.3 511.4 764.9 513.6 753.2 511.9 739.7 513.6 728 513.1 715.6 513.6 698.9 513.1 682.1 511.4 670.3 509.7 656.9 503.8 648.5 497.1 640.2 485.4 633.4 477 629.3 472.3 625.9 463.9 620.9 455.5 615.2" stroke="#ffa500" class="ct"/>
<path d="M369.9 687.1 372.5 698.9 375 715.6 376.6 728 377.5 741.4 379.2 754.8 382.6 769.9 386.8 785 392.6 798.4 400.2 810.2 410.2 819.4 422 826.1 437.1 830.3 453.9 832.3 477 833.1 497.1 832.8M505.5 832.3 527.3 832 540.7 830.8 557.5 830.6 564.2 829.5 574.3 829.1 583.3 828.6" stroke="#fff200" class="ct"/>
<path d="M378.4 615.2 379.2 625.1 382.6 636.8 386.8 648.5 392.6 660.3 398.5 670.3 402.7 682.1 405.2 692.1 406.9 705.6 407.7 719 408 728 408.9 744.8 408.2 761.5 408.9 778.3 408.6 795.1 409.4 802.6 415.3 808.5 425.3 813.5 437.1 816.9 447.1 817.7 458.9 815.5 459.7 808.5 458.5 795.1 459.7 778.3 458.5 761.5 459.4 744.8 458 728 457.5 710.6 456.9 698.9 454.7 687.1 451.3 678.7 445.5 670.3 437.1 662.8 428.7 656.1M420.3 645.2 413.6 636.8 406.1 625.1 401 615.2" stroke="#ff0000" class="ct"/>
<path d="M390.1 615.2 391 628.4 392.6 643.5 395.2 658.6 397.7 672 401 683.8 405.2 693.8 411.9 702.2 422 708.9 435.4 714.8 450.5 718.1 463.9 719.8 477 721 502.2 721.3 506.3 723.2 513.1 723.5M529.8 723.5 583.3 723.5" stroke="#ffffff" class="ct"/>
<path d="M402.7 615.2 405.2 628.4 407.7 641.8 411.1 655.2 416.1 667 423.7 677 433.7 685.4 445.5 691.3 457.2 694.7 468.9 696.3 480.4 696.7 484.5 698.3 502.2 698.7 508 700 513.1 700.2M529.8 700.5 583.3 700.5" stroke="#ffffff" class="ct"/>
<path d="M432.9 615.2 434.6 623.4 438.8 633.4 443.8 641.8 448.8 649.4 453.9 652.7 458.9 656.9 465.6 660.3 472.3 663.6 477 665.7 483.7 666.5 492.1 669.5 505.5 670 513.1 672.9M529.8 672.9 559.2 672.9 563.4 674 583.3 674" stroke="#ffffff" class="ct"/>
<path d="M514.7 615.2 517.2 618.4 525.6 618.7 528.1 626.7 530.7 630.9 536.5 631.3M550.8 636.8 570.9 637.1 575.1 641.5 583.3 641.5" stroke="#ffffff" class="ct"/>
<text x="424.8" y="652.7" font-size="6.36" text-anchor="middle" fill="#ff0000" textLength="3.8" lengthAdjust="spacingAndGlyphs" transform="rotate(50 424.8 650.5)">1</text>
<text x="468.1" y="827.5" font-size="6.36" text-anchor="middle" fill="#ffa500" textLength="3.8" lengthAdjust="spacingAndGlyphs">2</text>
<text x="501.3" y="834.5" font-size="6.36" text-anchor="middle" fill="#fff200" textLength="3.8" lengthAdjust="spacingAndGlyphs">3</text>
<text x="543.2" y="638.7" font-size="6.36" text-anchor="middle" fill="#ffffff" textLength="13.4" lengthAdjust="spacingAndGlyphs" transform="rotate(28 543.2 636.5)">0.06</text>
<text x="521.5" y="675.1" font-size="6.36" text-anchor="middle" fill="#ffffff" textLength="13.4" lengthAdjust="spacingAndGlyphs">0.12</text>
<text x="521.5" y="702.7" font-size="6.36" text-anchor="middle" fill="#ffffff" textLength="13.4" lengthAdjust="spacingAndGlyphs">0.25</text>
<text x="521.5" y="725.7" font-size="6.36" text-anchor="middle" fill="#ffffff" textLength="13.4" lengthAdjust="spacingAndGlyphs">0.50</text>
<text x="521.8" y="771.2" font-size="6.36" text-anchor="middle" fill="#ffffff" textLength="13.4" lengthAdjust="spacingAndGlyphs">2.00</text>
<text x="521.8" y="801.1" font-size="6.36" text-anchor="middle" fill="#ffffff" textLength="13.4" lengthAdjust="spacingAndGlyphs">5.00</text>
<path d="M422.8 790.9h8.4M427 786.7v8.4" stroke="#000" stroke-width="1.1" fill="none"/>
</g>
<rect x="369.8" y="615.2" width="213.6" height="225.3" class="fr"/>
<text x="386.2" y="851.4" font-size="8.46" text-anchor="middle" fill="#1a1a1a" textLength="14.5" lengthAdjust="spacingAndGlyphs">200</text>
<text x="419.1" y="851.4" font-size="8.46" text-anchor="middle" fill="#1a1a1a" textLength="14.5" lengthAdjust="spacingAndGlyphs">400</text>
<text x="452" y="851.4" font-size="8.46" text-anchor="middle" fill="#1a1a1a" textLength="14.5" lengthAdjust="spacingAndGlyphs">600</text>
<text x="484.8" y="851.4" font-size="8.46" text-anchor="middle" fill="#1a1a1a" textLength="14.5" lengthAdjust="spacingAndGlyphs">800</text>
<text x="517.7" y="851.4" font-size="8.46" text-anchor="middle" fill="#1a1a1a" textLength="19.3" lengthAdjust="spacingAndGlyphs">1000</text>
<text x="550.5" y="851.4" font-size="8.46" text-anchor="middle" fill="#1a1a1a" textLength="19.3" lengthAdjust="spacingAndGlyphs">1200</text>
<text x="583.4" y="851.4" font-size="8.46" text-anchor="middle" fill="#1a1a1a" textLength="19.3" lengthAdjust="spacingAndGlyphs">1400</text>
<text x="363.9" y="843.5" font-size="8.46" text-anchor="end" fill="#1a1a1a" textLength="9.5" lengthAdjust="spacingAndGlyphs">13</text>
<text x="363.9" y="805.9" font-size="8.46" text-anchor="end" fill="#1a1a1a" textLength="9.5" lengthAdjust="spacingAndGlyphs">14</text>
<text x="363.9" y="768.4" font-size="8.46" text-anchor="end" fill="#1a1a1a" textLength="9.5" lengthAdjust="spacingAndGlyphs">15</text>
<text x="363.9" y="730.8" font-size="8.46" text-anchor="end" fill="#1a1a1a" textLength="9.5" lengthAdjust="spacingAndGlyphs">16</text>
<text x="363.9" y="693.3" font-size="8.46" text-anchor="end" fill="#1a1a1a" textLength="9.5" lengthAdjust="spacingAndGlyphs">17</text>
<text x="363.9" y="655.7" font-size="8.46" text-anchor="end" fill="#1a1a1a" textLength="9.5" lengthAdjust="spacingAndGlyphs">18</text>
<text x="363.9" y="618.2" font-size="8.46" text-anchor="end" fill="#1a1a1a" textLength="9.5" lengthAdjust="spacingAndGlyphs">19</text>
<rect x="597" y="615.2" width="11.3" height="225.3" class="cb"/>
<text x="612.6" y="823" font-size="6.47" text-anchor="start" fill="#1a1a1a" textLength="8.9" lengthAdjust="spacingAndGlyphs">0.2</text>
<text x="612.6" y="797.2" font-size="6.47" text-anchor="start" fill="#1a1a1a" textLength="8.9" lengthAdjust="spacingAndGlyphs">0.3</text>
<text x="612.6" y="771.5" font-size="6.47" text-anchor="start" fill="#1a1a1a" textLength="8.9" lengthAdjust="spacingAndGlyphs">0.4</text>
<text x="612.6" y="745.7" font-size="6.47" text-anchor="start" fill="#1a1a1a" textLength="8.9" lengthAdjust="spacingAndGlyphs">0.5</text>
<text x="612.6" y="719.9" font-size="6.47" text-anchor="start" fill="#1a1a1a" textLength="8.9" lengthAdjust="spacingAndGlyphs">0.6</text>
<text x="612.6" y="694.1" font-size="6.47" text-anchor="start" fill="#1a1a1a" textLength="8.9" lengthAdjust="spacingAndGlyphs">0.7</text>
<text x="612.6" y="668.4" font-size="6.47" text-anchor="start" fill="#1a1a1a" textLength="8.9" lengthAdjust="spacingAndGlyphs">0.8</text>
<text x="612.6" y="642.6" font-size="6.47" text-anchor="start" fill="#1a1a1a" textLength="8.9" lengthAdjust="spacingAndGlyphs">0.9</text>
<text x="612.6" y="616.8" font-size="6.47" text-anchor="start" fill="#1a1a1a" textLength="8.9" lengthAdjust="spacingAndGlyphs">1.0</text>
<path d="M386.2 840.5v2.6M419.1 840.5v2.6M452 840.5v2.6M484.8 840.5v2.6M517.7 840.5v2.6M550.5 840.5v2.6M583.4 840.5v2.6M369.8 840.5h-2.6M369.8 803h-2.6M369.8 765.4h-2.6M369.8 727.9h-2.6M369.8 690.3h-2.6M369.8 652.8h-2.6M369.8 615.2h-2.6M608.3 821.4h1.7M608.3 795.6h1.7M608.3 769.9h1.7M608.3 744.1h1.7M608.3 718.3h1.7M608.3 692.5h1.7M608.3 666.8h1.7M608.3 641h1.7M608.3 615.2h1.7" class="tk"/>
<text x="476.6" y="868.5" font-size="10.60" text-anchor="middle" fill="#1a1a1a" textLength="80.9" lengthAdjust="spacingAndGlyphs">Temperature [K]</text>
<text x="343.2" y="741.5" font-size="10.60" fill="#1a1a1a" text-anchor="middle" textLength="76.7" lengthAdjust="spacingAndGlyphs" transform="rotate(-90 343.2 741.5)">log<tspan font-size="7.4" dy="2">10</tspan><tspan dy="-2">(N [cm</tspan><tspan font-size="7.4" dy="-3.8">−2</tspan><tspan dy="3.8">])</tspan></text>
<text x="633.7" y="727.9" font-size="10.60" fill="#1a1a1a" text-anchor="middle" textLength="28.5" lengthAdjust="spacingAndGlyphs" transform="rotate(-90 633.7 727.9)">χ<tspan font-size="6.6" dy="-4">2</tspan><tspan font-size="6.6" dy="6.8" dx="-3.8">min</tspan><tspan dy="-2.8">/χ</tspan><tspan font-size="6.6" dy="-4">2</tspan></text>
<text x="487.6" y="895.6" class="cap" text-anchor="middle" textLength="54.2" lengthAdjust="spacingAndGlyphs">(f) <tspan class="sb" dy="-3.6">12</tspan><tspan dy="3.6">CO</tspan><tspan class="sb" dy="1.6">2</tspan></text>
</g>
</svg>
</body></html>
